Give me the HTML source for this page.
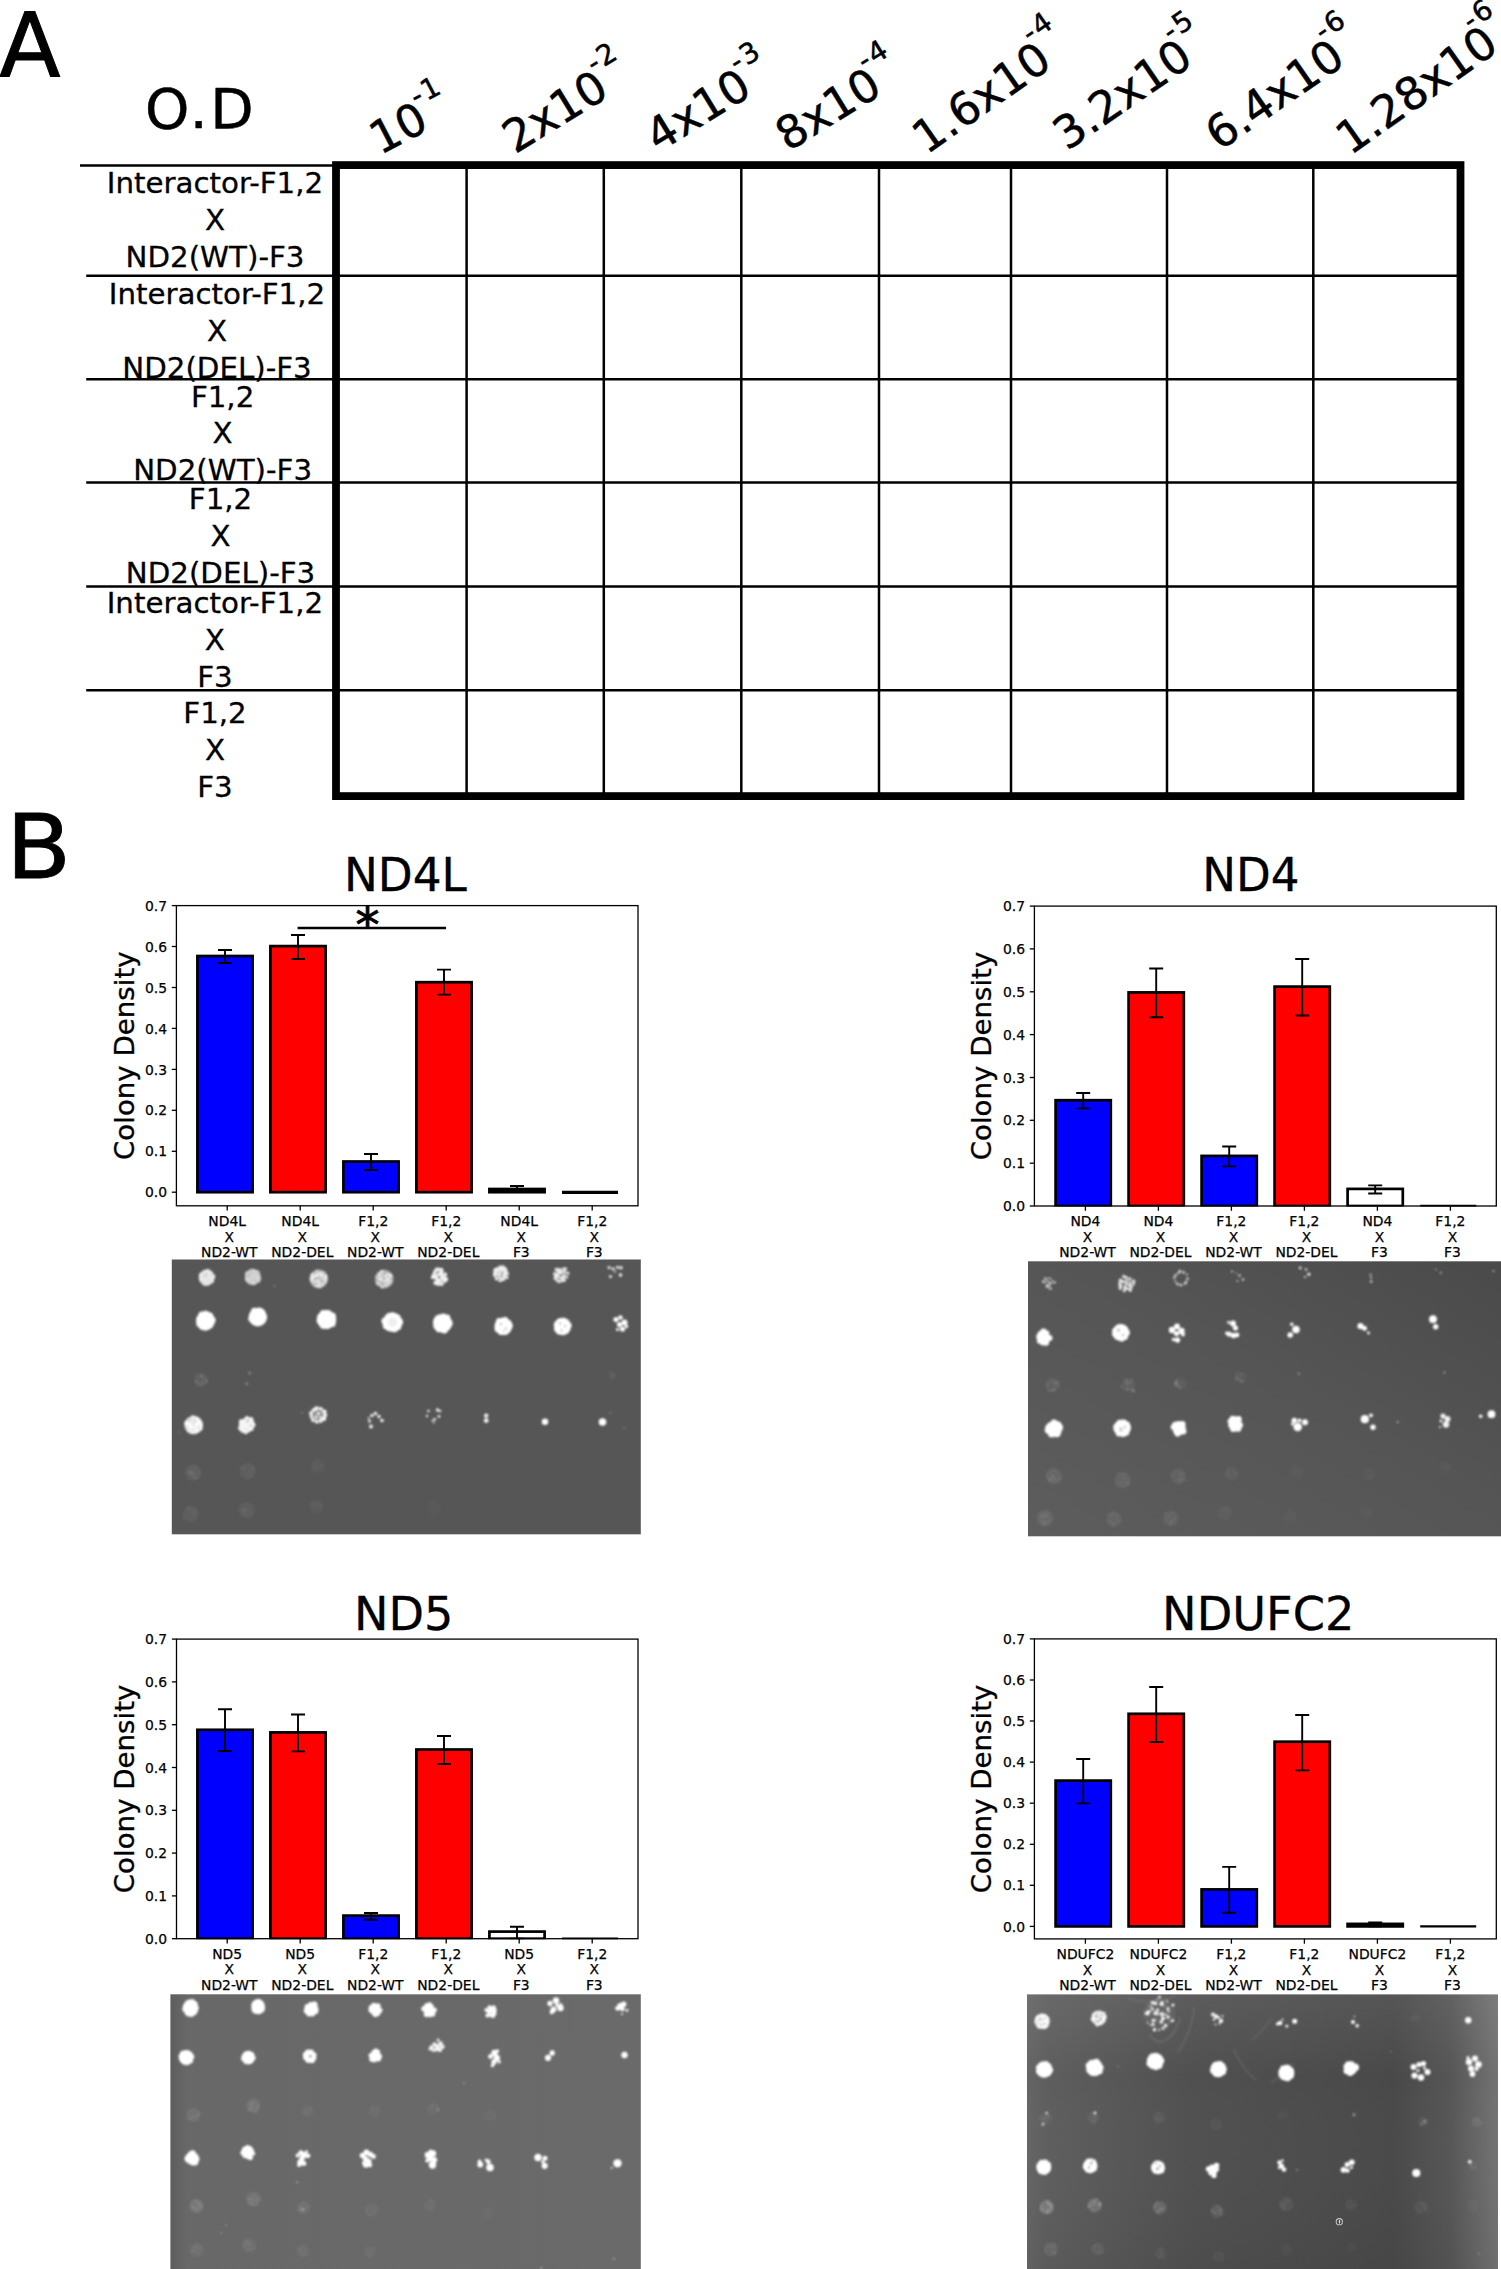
<!DOCTYPE html>
<html lang="en">
<head>
<meta charset="utf-8">
<title>Figure: yeast three-hybrid interaction assay</title>
<style>
html,body{margin:0;padding:0;background:#fff;}
body{width:1501px;height:2269px;overflow:hidden;}
svg{display:block;}
svg text{font-family:"DejaVu Sans", "Liberation Sans", sans-serif;fill:#000;}
</style>
</head>
<body>
<svg width="1501" height="2269" viewBox="0 0 1501 2269">
<rect width="1501" height="2269" fill="#fff"/>
<g id="panelA">
<text x="-0.8" y="76.6" font-size="89.5" stroke="#000" stroke-width="1">A</text>
<text transform="translate(145.1,127.6) scale(1.0225,1)" font-size="55.2" letter-spacing="2.5" stroke="#000" stroke-width="0.5">O.D</text>
<g stroke="#000" stroke-width="2.5" fill="none">
<line x1="80" y1="165.5" x2="336" y2="165.5"/>
<line x1="86.2" y1="275.7" x2="1460" y2="275.7"/>
<line x1="86.2" y1="379.2" x2="1460" y2="379.2"/>
<line x1="86.2" y1="482.6" x2="1460" y2="482.6"/>
<line x1="86.2" y1="586.4" x2="1460" y2="586.4"/>
<line x1="86.2" y1="690.3" x2="1460" y2="690.3"/>
<line x1="466.6" y1="165" x2="466.6" y2="796"/>
<line x1="603.8" y1="165" x2="603.8" y2="796"/>
<line x1="741.3" y1="165" x2="741.3" y2="796"/>
<line x1="879.0" y1="165" x2="879.0" y2="796"/>
<line x1="1011.0" y1="165" x2="1011.0" y2="796"/>
<line x1="1167.0" y1="165" x2="1167.0" y2="796"/>
<line x1="1313.3" y1="165" x2="1313.3" y2="796"/>
</g>
<rect x="336.0" y="165.1" width="1124.5" height="631.0" fill="none" stroke="#000" stroke-width="7.8"/>
<g font-size="28.4" text-anchor="middle" stroke="#000" stroke-width="0.3">
<text transform="translate(215.0,192.9) scale(1.032,1)">Interactor-F1,2</text>
<text transform="translate(215.0,229.8) scale(1.032,1)">X</text>
<text transform="translate(215.0,266.7) scale(1.032,1)">ND2(WT)-F3</text>
<text transform="translate(217.0,304.4) scale(1.032,1)">Interactor-F1,2</text>
<text transform="translate(217.0,341.3) scale(1.032,1)">X</text>
<text transform="translate(217.0,378.2) scale(1.032,1)">ND2(DEL)-F3</text>
<text transform="translate(222.6,406.5) scale(1.032,1)">F1,2</text>
<text transform="translate(222.6,443.4) scale(1.032,1)">X</text>
<text transform="translate(222.6,480.3) scale(1.032,1)">ND2(WT)-F3</text>
<text transform="translate(220.5,508.8) scale(1.032,1)">F1,2</text>
<text transform="translate(220.5,545.7) scale(1.032,1)">X</text>
<text transform="translate(220.5,582.6) scale(1.032,1)">ND2(DEL)-F3</text>
<text transform="translate(214.9,612.7) scale(1.032,1)">Interactor-F1,2</text>
<text transform="translate(214.9,649.6) scale(1.032,1)">X</text>
<text transform="translate(214.9,686.5) scale(1.032,1)">F3</text>
<text transform="translate(215.0,722.8) scale(1.032,1)">F1,2</text>
<text transform="translate(215.0,759.7) scale(1.032,1)">X</text>
<text transform="translate(215.0,796.6) scale(1.032,1)">F3</text>
</g>
<g stroke="#000" stroke-width="0.5">
<text transform="translate(379.9,155.2) rotate(-27.5)" font-size="45">10<tspan font-size="28" dx="-2.6" dy="-26.5">-</tspan><tspan font-size="28" dx="1.8">1</tspan></text>
<text transform="translate(514.9,154.2) rotate(-31.3)" font-size="45">2x10<tspan font-size="28" dx="-3.3" dy="-28.0">-</tspan><tspan font-size="28" dx="1.8">2</tspan></text>
<text transform="translate(658.0,152.9) rotate(-31.5)" font-size="45">4x10<tspan font-size="28" dx="-3.4" dy="-27.7">-</tspan><tspan font-size="28" dx="1.8">3</tspan></text>
<text transform="translate(788.1,151.9) rotate(-31.5)" font-size="45">8x10<tspan font-size="28" dx="-4.9" dy="-29.2">-</tspan><tspan font-size="28" dx="1.8">4</tspan></text>
<text transform="translate(926.5,155.0) rotate(-35.0)" font-size="45">1.6x10<tspan font-size="28" dx="-6.7" dy="-31.9">-</tspan><tspan font-size="28" dx="1.8">4</tspan></text>
<text transform="translate(1067.1,151.3) rotate(-34.5)" font-size="45">3.2x10<tspan font-size="28" dx="-8.2" dy="-31.6">-</tspan><tspan font-size="28" dx="1.8">5</tspan></text>
<text transform="translate(1219.4,151.6) rotate(-34.7)" font-size="45">6.4x10<tspan font-size="28" dx="-7.8" dy="-31.7">-</tspan><tspan font-size="28" dx="1.8">6</tspan></text>
<text transform="translate(1350.2,155.8) rotate(-35.2)" font-size="45">1.28x10<tspan font-size="28" dx="-13.6" dy="-32.6">-</tspan><tspan font-size="28" dx="1.8">6</tspan></text>
</g>
</g>
<text transform="translate(6.1,877.6) scale(1.076,1)" font-size="88.3" stroke="#000" stroke-width="0.8">B</text>
<defs>
<filter id="soft" x="-2%" y="-2%" width="104%" height="104%"><feGaussianBlur stdDeviation="1.15"/></filter>
<filter id="soft2" x="-50%" y="-50%" width="200%" height="200%"><feGaussianBlur stdDeviation="0.5"/></filter>
<linearGradient id="g2a" x1="0" y1="1" x2="1" y2="0"><stop offset="0" stop-color="#5d5d5d"/><stop offset=".55" stop-color="#555555"/><stop offset="1" stop-color="#4a4a4a"/></linearGradient>
<linearGradient id="g3a" x1="0" y1="0" x2="1" y2="0"><stop offset="0" stop-color="#5e5e5e"/><stop offset=".035" stop-color="#686868"/><stop offset="1" stop-color="#6a6a6a"/></linearGradient>
<linearGradient id="g4a" x1="0" y1="0" x2="1" y2="0"><stop offset="0" stop-color="#656565"/><stop offset=".04" stop-color="#5e5e5e"/><stop offset=".35" stop-color="#505050"/><stop offset=".78" stop-color="#494949"/><stop offset=".9" stop-color="#565656"/><stop offset="1" stop-color="#737373"/></linearGradient>
<linearGradient id="g4b" x1="0" y1="0" x2="0" y2="1"><stop offset="0" stop-color="#fff" stop-opacity=".07"/><stop offset=".3" stop-color="#fff" stop-opacity="0"/><stop offset="1" stop-color="#000" stop-opacity=".04"/></linearGradient>
<clipPath id="c1"><rect x="171.8" y="1259.5" width="469" height="274.8"/></clipPath>
<clipPath id="c2"><rect x="1028" y="1261.3" width="473" height="275"/></clipPath>
<clipPath id="c3"><rect x="170.8" y="1994.3" width="470" height="275"/></clipPath>
<clipPath id="c4"><rect x="1027" y="1994.4" width="471" height="275"/></clipPath>
</defs>
<g id="gels">
<rect x="171.8" y="1259.5" width="469" height="274.8" fill="#565656"/>
<g clip-path="url(#c1)"><g filter="url(#soft)"><ellipse cx="206.7" cy="1277.5" rx="7.9" ry="7.9" fill="#ececec"/><circle cx="212.6" cy="1276.6" r="2.7" fill="#ececec"/><circle cx="211.4" cy="1280.7" r="2.6" fill="#ececec"/><circle cx="207.4" cy="1283.4" r="2.3" fill="#ececec"/><circle cx="204.7" cy="1283.1" r="2.6" fill="#ececec"/><circle cx="201.6" cy="1278.8" r="2.6" fill="#ececec"/><circle cx="201.8" cy="1275.2" r="2.9" fill="#ececec"/><circle cx="204.8" cy="1272.6" r="2.3" fill="#ececec"/><circle cx="207.9" cy="1271.5" r="2.5" fill="#ececec"/><circle cx="210.6" cy="1273.4" r="2.3" fill="#ececec"/><circle cx="204.0" cy="1276.0" r="1.3" fill="#d2d2d2"/><circle cx="210.9" cy="1275.3" r="1.1" fill="#d2d2d2"/><circle cx="207.4" cy="1280.7" r="0.9" fill="#d2d2d2"/><circle cx="205.6" cy="1274.5" r="1.3" fill="#d2d2d2"/><circle cx="209.4" cy="1278.8" r="0.8" fill="#d2d2d2"/><circle cx="207.2" cy="1273.4" r="1.0" fill="#d2d2d2"/><circle cx="204.2" cy="1282.4" r="0.9" fill="#d2d2d2"/><circle cx="207.9" cy="1281.9" r="0.9" fill="#d2d2d2"/><circle cx="211.5" cy="1281.5" r="1.1" fill="#d2d2d2"/><circle cx="203.4" cy="1271.9" r="0.9" fill="#d2d2d2"/><circle cx="203.4" cy="1280.6" r="0.9" fill="#d2d2d2"/><circle cx="206.4" cy="1277.0" r="1.0" fill="#d2d2d2"/><circle cx="202.7" cy="1276.6" r="0.7" fill="#d2d2d2"/><circle cx="206.5" cy="1276.9" r="1.0" fill="#d2d2d2"/><ellipse cx="252.8" cy="1277.0" rx="7.9" ry="7.9" fill="#d6d6d6"/><circle cx="258.8" cy="1278.1" r="2.3" fill="#d6d6d6"/><circle cx="257.9" cy="1280.0" r="2.7" fill="#d6d6d6"/><circle cx="253.4" cy="1282.5" r="2.7" fill="#d6d6d6"/><circle cx="249.7" cy="1281.9" r="2.4" fill="#d6d6d6"/><circle cx="247.6" cy="1279.1" r="2.7" fill="#d6d6d6"/><circle cx="247.6" cy="1273.8" r="2.6" fill="#d6d6d6"/><circle cx="249.9" cy="1272.3" r="2.3" fill="#d6d6d6"/><circle cx="252.7" cy="1271.3" r="2.5" fill="#d6d6d6"/><circle cx="257.2" cy="1272.9" r="2.6" fill="#d6d6d6"/><circle cx="256.0" cy="1281.3" r="0.8" fill="#bdbdbd"/><circle cx="251.5" cy="1271.8" r="0.9" fill="#bdbdbd"/><circle cx="249.0" cy="1273.5" r="0.7" fill="#bdbdbd"/><circle cx="247.5" cy="1276.0" r="1.0" fill="#bdbdbd"/><circle cx="257.1" cy="1272.9" r="0.9" fill="#bdbdbd"/><circle cx="253.2" cy="1279.4" r="1.2" fill="#bdbdbd"/><circle cx="250.8" cy="1272.0" r="1.0" fill="#bdbdbd"/><circle cx="249.5" cy="1277.0" r="1.0" fill="#bdbdbd"/><circle cx="256.1" cy="1281.3" r="1.1" fill="#bdbdbd"/><circle cx="251.2" cy="1274.0" r="0.8" fill="#bdbdbd"/><circle cx="250.0" cy="1282.0" r="1.0" fill="#bdbdbd"/><circle cx="252.7" cy="1272.5" r="0.9" fill="#bdbdbd"/><circle cx="255.2" cy="1275.5" r="0.8" fill="#bdbdbd"/><circle cx="248.1" cy="1274.1" r="1.0" fill="#bdbdbd"/><circle cx="248.5" cy="1275.4" r="1.1" fill="#bdbdbd"/><circle cx="257.6" cy="1273.0" r="1.1" fill="#bdbdbd"/><circle cx="318.7" cy="1278.8" r="9.3" fill="#c9c9c9" opacity="0.85"/><circle cx="319.2" cy="1285.1" r="1.0" fill="#f2f2f2"/><circle cx="313.3" cy="1274.7" r="0.8" fill="#f2f2f2"/><circle cx="326.5" cy="1279.4" r="0.9" fill="#f2f2f2"/><circle cx="319.5" cy="1287.3" r="1.1" fill="#f2f2f2"/><circle cx="321.8" cy="1273.7" r="1.2" fill="#f2f2f2"/><circle cx="322.7" cy="1284.3" r="1.3" fill="#f2f2f2"/><circle cx="311.4" cy="1277.7" r="1.2" fill="#f2f2f2"/><circle cx="325.6" cy="1281.7" r="1.2" fill="#f2f2f2"/><circle cx="318.2" cy="1280.2" r="1.3" fill="#f2f2f2"/><circle cx="311.6" cy="1280.0" r="1.4" fill="#f2f2f2"/><circle cx="316.9" cy="1270.8" r="1.0" fill="#f2f2f2"/><circle cx="320.5" cy="1273.4" r="1.4" fill="#f2f2f2"/><circle cx="320.6" cy="1277.0" r="0.9" fill="#f2f2f2"/><circle cx="320.4" cy="1287.0" r="1.1" fill="#f2f2f2"/><circle cx="315.4" cy="1275.4" r="1.1" fill="#f2f2f2"/><circle cx="314.9" cy="1282.1" r="1.2" fill="#f2f2f2"/><circle cx="311.7" cy="1274.7" r="1.2" fill="#f2f2f2"/><circle cx="325.8" cy="1275.4" r="1.4" fill="#f2f2f2"/><circle cx="317.1" cy="1275.8" r="1.3" fill="#f2f2f2"/><circle cx="326.6" cy="1277.0" r="1.1" fill="#f2f2f2"/><circle cx="317.8" cy="1275.0" r="1.3" fill="#f2f2f2"/><circle cx="314.6" cy="1276.8" r="0.8" fill="#f2f2f2"/><circle cx="323.9" cy="1272.0" r="0.8" fill="#f2f2f2"/><circle cx="320.4" cy="1273.6" r="0.9" fill="#f2f2f2"/><circle cx="316.7" cy="1286.0" r="1.3" fill="#f2f2f2"/><circle cx="325.2" cy="1280.6" r="0.8" fill="#f2f2f2"/><circle cx="317.7" cy="1274.0" r="1.4" fill="#f2f2f2"/><circle cx="324.7" cy="1278.1" r="1.4" fill="#f2f2f2"/><circle cx="317.8" cy="1281.0" r="1.2" fill="#f2f2f2"/><circle cx="322.4" cy="1279.5" r="1.0" fill="#f2f2f2"/><circle cx="316.1" cy="1276.6" r="0.8" fill="#f2f2f2"/><circle cx="321.9" cy="1275.3" r="1.4" fill="#f2f2f2"/><circle cx="322.9" cy="1275.6" r="1.1" fill="#f2f2f2"/><circle cx="311.9" cy="1277.9" r="1.2" fill="#f2f2f2"/><circle cx="312.4" cy="1276.3" r="1.4" fill="#f2f2f2"/><circle cx="313.1" cy="1278.6" r="1.2" fill="#f2f2f2"/><circle cx="319.1" cy="1283.5" r="1.4" fill="#f2f2f2"/><circle cx="312.4" cy="1278.0" r="0.8" fill="#f2f2f2"/><circle cx="313.1" cy="1282.1" r="0.8" fill="#f2f2f2"/><circle cx="313.6" cy="1274.3" r="0.8" fill="#f2f2f2"/><circle cx="384.2" cy="1279.0" r="9.3" fill="#c4c4c4" opacity="0.85"/><circle cx="384.4" cy="1281.7" r="1.0" fill="#f0f0f0"/><circle cx="385.4" cy="1280.8" r="1.0" fill="#f0f0f0"/><circle cx="390.9" cy="1275.2" r="1.3" fill="#f0f0f0"/><circle cx="385.3" cy="1285.2" r="1.0" fill="#f0f0f0"/><circle cx="385.5" cy="1281.5" r="0.9" fill="#f0f0f0"/><circle cx="391.2" cy="1275.6" r="1.3" fill="#f0f0f0"/><circle cx="385.4" cy="1275.4" r="1.0" fill="#f0f0f0"/><circle cx="379.1" cy="1273.8" r="1.3" fill="#f0f0f0"/><circle cx="386.0" cy="1277.3" r="1.2" fill="#f0f0f0"/><circle cx="381.3" cy="1273.6" r="0.9" fill="#f0f0f0"/><circle cx="381.7" cy="1279.4" r="1.4" fill="#f0f0f0"/><circle cx="388.4" cy="1274.3" r="1.0" fill="#f0f0f0"/><circle cx="389.6" cy="1275.5" r="1.4" fill="#f0f0f0"/><circle cx="387.7" cy="1274.0" r="1.0" fill="#f0f0f0"/><circle cx="379.6" cy="1275.7" r="0.9" fill="#f0f0f0"/><circle cx="381.6" cy="1286.3" r="0.8" fill="#f0f0f0"/><circle cx="390.7" cy="1280.9" r="1.0" fill="#f0f0f0"/><circle cx="378.5" cy="1277.7" r="1.0" fill="#f0f0f0"/><circle cx="388.0" cy="1278.9" r="1.0" fill="#f0f0f0"/><circle cx="386.2" cy="1285.5" r="1.0" fill="#f0f0f0"/><circle cx="379.6" cy="1284.8" r="1.0" fill="#f0f0f0"/><circle cx="376.6" cy="1276.1" r="0.8" fill="#f0f0f0"/><circle cx="388.0" cy="1280.5" r="1.3" fill="#f0f0f0"/><circle cx="381.1" cy="1276.2" r="1.0" fill="#f0f0f0"/><circle cx="386.7" cy="1284.2" r="0.8" fill="#f0f0f0"/><circle cx="381.6" cy="1271.3" r="1.4" fill="#f0f0f0"/><circle cx="383.4" cy="1270.7" r="0.8" fill="#f0f0f0"/><circle cx="382.2" cy="1287.2" r="1.3" fill="#f0f0f0"/><circle cx="377.2" cy="1283.4" r="1.2" fill="#f0f0f0"/><circle cx="386.1" cy="1274.8" r="0.9" fill="#f0f0f0"/><circle cx="381.2" cy="1280.1" r="1.0" fill="#f0f0f0"/><circle cx="389.0" cy="1277.8" r="0.8" fill="#f0f0f0"/><circle cx="387.6" cy="1280.0" r="1.3" fill="#f0f0f0"/><circle cx="381.2" cy="1282.5" r="0.8" fill="#f0f0f0"/><circle cx="389.7" cy="1278.4" r="0.9" fill="#f0f0f0"/><circle cx="386.1" cy="1279.7" r="0.9" fill="#f0f0f0"/><circle cx="382.7" cy="1276.0" r="0.8" fill="#f0f0f0"/><circle cx="379.9" cy="1279.3" r="1.4" fill="#f0f0f0"/><circle cx="388.7" cy="1283.3" r="1.3" fill="#f0f0f0"/><circle cx="377.0" cy="1283.6" r="1.1" fill="#f0f0f0"/><circle cx="434.8" cy="1272.1" r="1.9" fill="#f4f4f4"/><circle cx="441.6" cy="1269.5" r="1.8" fill="#f4f4f4"/><circle cx="439.0" cy="1269.3" r="1.9" fill="#f4f4f4"/><circle cx="444.7" cy="1277.7" r="1.8" fill="#f4f4f4"/><circle cx="445.3" cy="1274.5" r="1.9" fill="#f4f4f4"/><circle cx="441.6" cy="1275.2" r="2.2" fill="#f4f4f4"/><circle cx="435.8" cy="1277.4" r="2.2" fill="#f4f4f4"/><circle cx="433.9" cy="1275.1" r="2.0" fill="#f4f4f4"/><circle cx="438.1" cy="1283.9" r="2.0" fill="#f4f4f4"/><circle cx="439.8" cy="1273.6" r="1.9" fill="#f4f4f4"/><circle cx="437.5" cy="1274.9" r="1.7" fill="#f4f4f4"/><circle cx="440.4" cy="1280.2" r="1.8" fill="#f4f4f4"/><circle cx="441.6" cy="1283.9" r="2.1" fill="#f4f4f4"/><circle cx="436.7" cy="1269.7" r="2.2" fill="#f4f4f4"/><circle cx="437.5" cy="1279.1" r="1.9" fill="#f4f4f4"/><circle cx="441.7" cy="1271.9" r="2.1" fill="#f4f4f4"/><circle cx="437.4" cy="1281.6" r="2.1" fill="#f4f4f4"/><circle cx="444.7" cy="1280.9" r="2.1" fill="#f4f4f4"/><circle cx="435.5" cy="1282.9" r="2.1" fill="#f4f4f4"/><circle cx="442.1" cy="1278.1" r="2.1" fill="#f4f4f4"/><circle cx="446.4" cy="1279.2" r="1.9" fill="#f4f4f4"/><circle cx="433.0" cy="1277.2" r="2.1" fill="#f4f4f4"/><circle cx="503.0" cy="1267.2" r="1.9" fill="#f2f2f2"/><circle cx="497.4" cy="1274.2" r="1.6" fill="#f2f2f2"/><circle cx="507.3" cy="1273.8" r="1.7" fill="#f2f2f2"/><circle cx="494.7" cy="1275.0" r="1.9" fill="#f2f2f2"/><circle cx="496.6" cy="1278.5" r="1.9" fill="#f2f2f2"/><circle cx="500.2" cy="1280.5" r="1.8" fill="#f2f2f2"/><circle cx="500.6" cy="1269.0" r="2.0" fill="#f2f2f2"/><circle cx="495.1" cy="1272.3" r="1.9" fill="#f2f2f2"/><circle cx="503.2" cy="1279.1" r="2.1" fill="#f2f2f2"/><circle cx="502.5" cy="1270.1" r="2.0" fill="#f2f2f2"/><circle cx="506.8" cy="1277.5" r="1.7" fill="#f2f2f2"/><circle cx="504.0" cy="1275.7" r="2.0" fill="#f2f2f2"/><circle cx="498.5" cy="1270.7" r="1.7" fill="#f2f2f2"/><circle cx="505.8" cy="1270.9" r="2.0" fill="#f2f2f2"/><circle cx="497.3" cy="1268.8" r="1.9" fill="#f2f2f2"/><circle cx="499.9" cy="1276.9" r="1.8" fill="#f2f2f2"/><circle cx="500.9" cy="1273.0" r="1.6" fill="#f2f2f2"/><circle cx="504.9" cy="1273.4" r="2.0" fill="#f2f2f2"/><circle cx="500.1" cy="1266.9" r="1.7" fill="#f2f2f2"/><circle cx="505.4" cy="1268.6" r="1.5" fill="#f2f2f2"/><circle cx="495.3" cy="1270.0" r="2.0" fill="#f2f2f2"/><circle cx="499.2" cy="1274.1" r="1.5" fill="#f2f2f2"/><circle cx="560.4" cy="1277.7" r="1.7" fill="#eeeeee"/><circle cx="560.5" cy="1273.3" r="1.8" fill="#eeeeee"/><circle cx="557.2" cy="1274.0" r="1.8" fill="#eeeeee"/><circle cx="566.8" cy="1276.9" r="1.5" fill="#eeeeee"/><circle cx="563.8" cy="1276.0" r="1.9" fill="#eeeeee"/><circle cx="555.5" cy="1278.2" r="1.9" fill="#eeeeee"/><circle cx="556.5" cy="1269.7" r="1.9" fill="#eeeeee"/><circle cx="564.3" cy="1271.8" r="1.9" fill="#eeeeee"/><circle cx="559.2" cy="1281.5" r="1.7" fill="#eeeeee"/><circle cx="564.2" cy="1280.3" r="1.7" fill="#eeeeee"/><circle cx="558.7" cy="1271.4" r="1.5" fill="#eeeeee"/><circle cx="557.7" cy="1276.2" r="1.8" fill="#eeeeee"/><circle cx="563.5" cy="1268.8" r="1.5" fill="#eeeeee"/><circle cx="561.9" cy="1280.8" r="1.5" fill="#eeeeee"/><circle cx="554.6" cy="1273.9" r="1.6" fill="#eeeeee"/><circle cx="561.2" cy="1270.9" r="1.5" fill="#eeeeee"/><circle cx="559.7" cy="1269.4" r="1.6" fill="#eeeeee"/><circle cx="565.7" cy="1268.7" r="1.5" fill="#eeeeee"/><circle cx="555.5" cy="1276.0" r="1.5" fill="#eeeeee"/><circle cx="557.2" cy="1280.6" r="1.5" fill="#eeeeee"/><circle cx="563.3" cy="1278.3" r="1.5" fill="#eeeeee"/><circle cx="567.8" cy="1273.2" r="1.6" fill="#eeeeee"/><circle cx="609.0" cy="1267.5" r="1.5" fill="#f0f0f0"/><circle cx="613.0" cy="1268.8" r="1.6" fill="#f0f0f0"/><circle cx="617.5" cy="1267.2" r="1.5" fill="#f0f0f0"/><circle cx="621.0" cy="1267.8" r="1.7" fill="#f0f0f0"/><circle cx="610.5" cy="1276.5" r="1.5" fill="#f0f0f0"/><circle cx="620.5" cy="1275.0" r="1.8" fill="#f0f0f0"/><circle cx="615.0" cy="1271.5" r="1.0" fill="#f0f0f0"/><ellipse cx="205.5" cy="1320.8" rx="9.5" ry="9.5" fill="#ffffff"/><circle cx="212.8" cy="1320.0" r="2.9" fill="#ffffff"/><circle cx="210.1" cy="1325.3" r="2.9" fill="#ffffff"/><circle cx="205.3" cy="1327.4" r="3.2" fill="#ffffff"/><circle cx="202.2" cy="1326.7" r="3.1" fill="#ffffff"/><circle cx="199.1" cy="1324.1" r="2.8" fill="#ffffff"/><circle cx="199.3" cy="1319.3" r="3.0" fill="#ffffff"/><circle cx="201.6" cy="1314.6" r="3.0" fill="#ffffff"/><circle cx="205.6" cy="1314.2" r="3.5" fill="#ffffff"/><circle cx="210.0" cy="1315.5" r="3.0" fill="#ffffff"/><ellipse cx="257.8" cy="1317.0" rx="9.2" ry="9.2" fill="#ffffff"/><circle cx="264.3" cy="1316.9" r="2.8" fill="#ffffff"/><circle cx="261.9" cy="1321.6" r="3.0" fill="#ffffff"/><circle cx="257.9" cy="1323.2" r="3.0" fill="#ffffff"/><circle cx="254.5" cy="1322.2" r="2.9" fill="#ffffff"/><circle cx="251.5" cy="1318.7" r="3.2" fill="#ffffff"/><circle cx="251.6" cy="1315.7" r="2.7" fill="#ffffff"/><circle cx="254.3" cy="1310.9" r="3.1" fill="#ffffff"/><circle cx="259.6" cy="1310.8" r="3.2" fill="#ffffff"/><circle cx="262.0" cy="1312.2" r="3.1" fill="#ffffff"/><ellipse cx="326.3" cy="1319.5" rx="9.5" ry="9.5" fill="#ffffff"/><circle cx="333.1" cy="1319.7" r="3.2" fill="#ffffff"/><circle cx="332.3" cy="1323.4" r="3.4" fill="#ffffff"/><circle cx="327.0" cy="1326.0" r="3.1" fill="#ffffff"/><circle cx="323.4" cy="1325.4" r="3.4" fill="#ffffff"/><circle cx="320.0" cy="1320.5" r="3.4" fill="#ffffff"/><circle cx="320.1" cy="1316.9" r="3.0" fill="#ffffff"/><circle cx="323.3" cy="1313.4" r="3.3" fill="#ffffff"/><circle cx="327.8" cy="1313.2" r="3.3" fill="#ffffff"/><circle cx="332.7" cy="1316.0" r="3.2" fill="#ffffff"/><ellipse cx="392.5" cy="1322.2" rx="9.8" ry="9.8" fill="#ffffff"/><circle cx="399.6" cy="1322.1" r="3.5" fill="#ffffff"/><circle cx="398.0" cy="1326.7" r="3.3" fill="#ffffff"/><circle cx="394.6" cy="1328.9" r="3.3" fill="#ffffff"/><circle cx="388.5" cy="1327.5" r="3.1" fill="#ffffff"/><circle cx="386.1" cy="1325.8" r="3.4" fill="#ffffff"/><circle cx="385.0" cy="1321.0" r="3.6" fill="#ffffff"/><circle cx="389.3" cy="1315.8" r="3.0" fill="#ffffff"/><circle cx="392.4" cy="1315.1" r="2.9" fill="#ffffff"/><circle cx="397.1" cy="1317.2" r="2.9" fill="#ffffff"/><circle cx="392.5" cy="1322.2" r="4.5" fill="#efefef"/><ellipse cx="442.5" cy="1323.3" rx="9.5" ry="9.5" fill="#ffffff"/><circle cx="449.5" cy="1323.2" r="3.2" fill="#ffffff"/><circle cx="447.9" cy="1326.6" r="3.0" fill="#ffffff"/><circle cx="444.4" cy="1330.2" r="3.3" fill="#ffffff"/><circle cx="438.8" cy="1329.1" r="3.2" fill="#ffffff"/><circle cx="436.5" cy="1326.5" r="2.9" fill="#ffffff"/><circle cx="436.9" cy="1320.2" r="3.3" fill="#ffffff"/><circle cx="438.0" cy="1317.9" r="3.0" fill="#ffffff"/><circle cx="443.5" cy="1316.2" r="2.8" fill="#ffffff"/><circle cx="447.2" cy="1317.7" r="3.1" fill="#ffffff"/><ellipse cx="503.3" cy="1326.3" rx="8.8" ry="8.8" fill="#ffffff"/><circle cx="509.8" cy="1325.7" r="3.0" fill="#ffffff"/><circle cx="507.3" cy="1330.8" r="2.7" fill="#ffffff"/><circle cx="505.2" cy="1332.1" r="3.0" fill="#ffffff"/><circle cx="501.0" cy="1332.2" r="2.7" fill="#ffffff"/><circle cx="497.6" cy="1328.9" r="3.1" fill="#ffffff"/><circle cx="497.9" cy="1324.1" r="2.7" fill="#ffffff"/><circle cx="499.2" cy="1321.0" r="3.1" fill="#ffffff"/><circle cx="505.2" cy="1319.9" r="3.0" fill="#ffffff"/><circle cx="509.0" cy="1323.0" r="2.7" fill="#ffffff"/><circle cx="501.0" cy="1324.0" r="1.0" fill="#9a9a9a"/><circle cx="506.0" cy="1328.5" r="0.9" fill="#9a9a9a"/><circle cx="503.5" cy="1331.0" r="0.8" fill="#9a9a9a"/><ellipse cx="562.5" cy="1326.3" rx="8.6" ry="8.6" fill="#ffffff"/><circle cx="568.8" cy="1325.3" r="2.9" fill="#ffffff"/><circle cx="566.3" cy="1330.9" r="2.7" fill="#ffffff"/><circle cx="563.0" cy="1332.6" r="2.7" fill="#ffffff"/><circle cx="559.1" cy="1331.4" r="3.0" fill="#ffffff"/><circle cx="557.3" cy="1329.2" r="3.1" fill="#ffffff"/><circle cx="556.8" cy="1324.6" r="3.0" fill="#ffffff"/><circle cx="559.8" cy="1321.1" r="2.9" fill="#ffffff"/><circle cx="563.9" cy="1320.6" r="2.9" fill="#ffffff"/><circle cx="566.5" cy="1321.8" r="2.6" fill="#ffffff"/><circle cx="560.0" cy="1323.5" r="1.0" fill="#9a9a9a"/><circle cx="565.0" cy="1326.0" r="0.9" fill="#9a9a9a"/><circle cx="561.5" cy="1330.5" r="0.9" fill="#9a9a9a"/><circle cx="616.0" cy="1319.5" r="2.6" fill="#ffffff"/><circle cx="620.5" cy="1317.5" r="2.2" fill="#ffffff"/><circle cx="624.5" cy="1322.5" r="3.0" fill="#ffffff"/><circle cx="619.5" cy="1324.5" r="2.6" fill="#ffffff"/><circle cx="622.5" cy="1329.0" r="2.6" fill="#ffffff"/><circle cx="617.5" cy="1329.5" r="1.6" fill="#ffffff"/><circle cx="626.5" cy="1326.5" r="1.8" fill="#ffffff"/><circle cx="200.8" cy="1380.0" r="7.0" fill="#ffffff" opacity="0.06"/><circle cx="197.8" cy="1383.5" r="0.7" fill="#ffffff" opacity="0.22"/><circle cx="196.8" cy="1381.4" r="0.8" fill="#ffffff" opacity="0.22"/><circle cx="200.5" cy="1385.3" r="0.5" fill="#ffffff" opacity="0.22"/><circle cx="199.6" cy="1383.6" r="0.6" fill="#ffffff" opacity="0.22"/><circle cx="200.6" cy="1376.3" r="0.8" fill="#ffffff" opacity="0.22"/><circle cx="204.0" cy="1379.1" r="0.9" fill="#ffffff" opacity="0.22"/><circle cx="202.7" cy="1374.9" r="0.5" fill="#ffffff" opacity="0.22"/><circle cx="195.7" cy="1381.4" r="0.6" fill="#ffffff" opacity="0.22"/><circle cx="201.4" cy="1383.7" r="0.6" fill="#ffffff" opacity="0.22"/><circle cx="201.7" cy="1376.2" r="0.7" fill="#ffffff" opacity="0.22"/><circle cx="196.8" cy="1374.9" r="0.6" fill="#ffffff" opacity="0.22"/><circle cx="207.1" cy="1381.8" r="0.8" fill="#ffffff" opacity="0.22"/><circle cx="202.0" cy="1375.3" r="0.6" fill="#ffffff" opacity="0.22"/><circle cx="202.9" cy="1383.0" r="0.7" fill="#ffffff" opacity="0.22"/><circle cx="205.9" cy="1382.2" r="0.8" fill="#ffffff" opacity="0.22"/><circle cx="206.9" cy="1380.5" r="0.7" fill="#ffffff" opacity="0.22"/><circle cx="249.5" cy="1373.0" r="1.2" fill="#9a9a9a"/><circle cx="246.7" cy="1383.8" r="1.2" fill="#9a9a9a"/><circle cx="193.7" cy="1425.0" r="9.3" fill="#e0e0e0"/><circle cx="185.9" cy="1423.9" r="1.5" fill="#ffffff"/><circle cx="191.8" cy="1432.4" r="1.3" fill="#ffffff"/><circle cx="192.2" cy="1422.5" r="0.9" fill="#ffffff"/><circle cx="188.1" cy="1430.0" r="1.0" fill="#ffffff"/><circle cx="188.8" cy="1425.0" r="1.4" fill="#ffffff"/><circle cx="198.9" cy="1423.1" r="1.6" fill="#ffffff"/><circle cx="201.0" cy="1428.0" r="1.5" fill="#ffffff"/><circle cx="198.0" cy="1431.0" r="1.2" fill="#ffffff"/><circle cx="197.5" cy="1423.9" r="1.2" fill="#ffffff"/><circle cx="198.9" cy="1420.3" r="1.1" fill="#ffffff"/><circle cx="201.1" cy="1429.2" r="1.2" fill="#ffffff"/><circle cx="197.0" cy="1424.9" r="1.4" fill="#ffffff"/><circle cx="197.0" cy="1417.3" r="0.9" fill="#ffffff"/><circle cx="192.3" cy="1426.4" r="1.4" fill="#ffffff"/><circle cx="188.5" cy="1431.8" r="1.1" fill="#ffffff"/><circle cx="194.9" cy="1417.0" r="1.0" fill="#ffffff"/><circle cx="185.7" cy="1422.0" r="1.2" fill="#ffffff"/><circle cx="190.8" cy="1428.5" r="1.4" fill="#ffffff"/><circle cx="196.1" cy="1431.4" r="1.2" fill="#ffffff"/><circle cx="190.7" cy="1424.0" r="1.3" fill="#ffffff"/><circle cx="198.0" cy="1422.5" r="1.1" fill="#ffffff"/><circle cx="199.3" cy="1421.4" r="1.0" fill="#ffffff"/><circle cx="201.3" cy="1425.5" r="1.1" fill="#ffffff"/><circle cx="189.2" cy="1425.9" r="1.3" fill="#ffffff"/><circle cx="193.1" cy="1420.2" r="0.9" fill="#ffffff"/><circle cx="202.0" cy="1424.3" r="0.9" fill="#ffffff"/><circle cx="187.0" cy="1422.2" r="1.1" fill="#ffffff"/><circle cx="192.7" cy="1416.5" r="1.3" fill="#ffffff"/><circle cx="190.7" cy="1427.4" r="1.0" fill="#ffffff"/><circle cx="195.4" cy="1427.4" r="1.0" fill="#ffffff"/><circle cx="197.2" cy="1419.6" r="1.4" fill="#ffffff"/><circle cx="200.6" cy="1421.2" r="0.9" fill="#ffffff"/><circle cx="196.1" cy="1423.8" r="1.4" fill="#ffffff"/><circle cx="197.5" cy="1419.0" r="1.1" fill="#ffffff"/><circle cx="196.0" cy="1426.2" r="1.3" fill="#ffffff"/><circle cx="194.0" cy="1431.4" r="1.0" fill="#ffffff"/><circle cx="196.2" cy="1429.1" r="1.4" fill="#ffffff"/><circle cx="188.2" cy="1425.5" r="1.2" fill="#ffffff"/><circle cx="187.8" cy="1422.9" r="1.2" fill="#ffffff"/><circle cx="201.1" cy="1423.5" r="1.0" fill="#ffffff"/><circle cx="192.1" cy="1428.5" r="1.1" fill="#ffffff"/><circle cx="201.1" cy="1426.3" r="1.2" fill="#ffffff"/><circle cx="248.7" cy="1430.1" r="2.3" fill="#f6f6f6"/><circle cx="244.6" cy="1427.5" r="2.5" fill="#f6f6f6"/><circle cx="241.1" cy="1425.0" r="2.4" fill="#f6f6f6"/><circle cx="244.7" cy="1420.8" r="2.4" fill="#f6f6f6"/><circle cx="250.9" cy="1419.4" r="2.5" fill="#f6f6f6"/><circle cx="253.4" cy="1425.0" r="2.2" fill="#f6f6f6"/><circle cx="248.7" cy="1423.4" r="2.5" fill="#f6f6f6"/><circle cx="251.1" cy="1428.3" r="2.6" fill="#f6f6f6"/><circle cx="241.7" cy="1421.9" r="2.8" fill="#f6f6f6"/><circle cx="242.7" cy="1430.3" r="2.5" fill="#f6f6f6"/><circle cx="247.4" cy="1426.4" r="2.3" fill="#f6f6f6"/><circle cx="246.9" cy="1418.3" r="2.3" fill="#f6f6f6"/><circle cx="240.3" cy="1428.2" r="2.3" fill="#f6f6f6"/><circle cx="244.6" cy="1423.7" r="2.2" fill="#f6f6f6"/><circle cx="251.9" cy="1422.3" r="2.4" fill="#f6f6f6"/><circle cx="245.8" cy="1431.8" r="2.4" fill="#f6f6f6"/><circle cx="318.0" cy="1415.0" r="8.6" fill="#bdbdbd" opacity="0.55"/><circle cx="325.2" cy="1415.3" r="2.0" fill="#fafafa"/><circle cx="323.9" cy="1418.7" r="2.3" fill="#fafafa"/><circle cx="320.7" cy="1420.9" r="1.8" fill="#fafafa"/><circle cx="316.7" cy="1421.7" r="1.8" fill="#fafafa"/><circle cx="312.9" cy="1420.1" r="1.8" fill="#fafafa"/><circle cx="311.4" cy="1416.6" r="1.6" fill="#fafafa"/><circle cx="310.9" cy="1413.1" r="1.9" fill="#fafafa"/><circle cx="313.7" cy="1410.1" r="1.9" fill="#fafafa"/><circle cx="316.5" cy="1408.3" r="2.1" fill="#fafafa"/><circle cx="320.8" cy="1408.8" r="1.8" fill="#fafafa"/><circle cx="324.4" cy="1411.6" r="2.2" fill="#fafafa"/><circle cx="318.5" cy="1413.5" r="1.6" fill="#fafafa"/><circle cx="316.0" cy="1417.0" r="1.5" fill="#fafafa"/><circle cx="320.5" cy="1417.5" r="1.3" fill="#fafafa"/><circle cx="371.0" cy="1426.5" r="1.9" fill="#f4f4f4"/><circle cx="369.5" cy="1421.0" r="1.5" fill="#f4f4f4"/><circle cx="372.0" cy="1415.5" r="1.7" fill="#f4f4f4"/><circle cx="375.5" cy="1413.5" r="1.8" fill="#f4f4f4"/><circle cx="379.0" cy="1416.5" r="1.7" fill="#f4f4f4"/><circle cx="382.0" cy="1420.5" r="1.8" fill="#f4f4f4"/><circle cx="368.7" cy="1418.0" r="1.0" fill="#f4f4f4"/><circle cx="428.5" cy="1411.0" r="1.3" fill="#eeeeee"/><circle cx="427.0" cy="1416.0" r="1.2" fill="#eeeeee"/><circle cx="437.5" cy="1410.0" r="1.7" fill="#eeeeee"/><circle cx="440.0" cy="1411.0" r="1.3" fill="#eeeeee"/><circle cx="439.0" cy="1416.5" r="1.4" fill="#eeeeee"/><circle cx="434.5" cy="1419.5" r="1.4" fill="#eeeeee"/><circle cx="432.5" cy="1421.0" r="1.0" fill="#eeeeee"/><circle cx="434.0" cy="1423.0" r="0.8" fill="#eeeeee"/><circle cx="486.2" cy="1415.6" r="2.2" fill="#f6f6f6"/><circle cx="486.2" cy="1420.6" r="2.4" fill="#f6f6f6"/><circle cx="545.0" cy="1421.7" r="3.3" fill="#ffffff"/><circle cx="602.5" cy="1422.0" r="3.8" fill="#ffffff"/><circle cx="610.5" cy="1413.0" r="1.0" fill="#8a8a8a"/><circle cx="624.5" cy="1428.0" r="0.9" fill="#8a8a8a"/><circle cx="179.0" cy="1432.5" r="0.8" fill="#8a8a8a"/><circle cx="302.0" cy="1412.5" r="0.9" fill="#8a8a8a"/><circle cx="274.5" cy="1286.0" r="1.0" fill="#8a8a8a"/><circle cx="193.0" cy="1472.5" r="8.0" fill="#ffffff" opacity="0.07"/><circle cx="196.2" cy="1477.9" r="0.8" fill="#ffffff" opacity="0.15400000000000003"/><circle cx="189.5" cy="1473.0" r="0.8" fill="#ffffff" opacity="0.15400000000000003"/><circle cx="194.9" cy="1467.4" r="0.7" fill="#ffffff" opacity="0.15400000000000003"/><circle cx="193.0" cy="1472.9" r="0.6" fill="#ffffff" opacity="0.15400000000000003"/><circle cx="191.3" cy="1471.5" r="0.8" fill="#ffffff" opacity="0.15400000000000003"/><circle cx="193.4" cy="1476.1" r="0.5" fill="#ffffff" opacity="0.15400000000000003"/><circle cx="199.5" cy="1472.4" r="0.9" fill="#ffffff" opacity="0.15400000000000003"/><circle cx="192.0" cy="1471.6" r="0.6" fill="#ffffff" opacity="0.15400000000000003"/><circle cx="190.4" cy="1472.5" r="0.9" fill="#ffffff" opacity="0.15400000000000003"/><circle cx="191.0" cy="1474.7" r="0.8" fill="#ffffff" opacity="0.15400000000000003"/><circle cx="198.2" cy="1477.7" r="0.7" fill="#ffffff" opacity="0.15400000000000003"/><circle cx="188.8" cy="1471.1" r="0.7" fill="#ffffff" opacity="0.15400000000000003"/><circle cx="193.6" cy="1473.9" r="0.8" fill="#ffffff" opacity="0.15400000000000003"/><circle cx="193.6" cy="1479.2" r="0.6" fill="#ffffff" opacity="0.15400000000000003"/><circle cx="247.5" cy="1471.0" r="8.0" fill="#ffffff" opacity="0.05"/><circle cx="250.2" cy="1470.3" r="0.5" fill="#ffffff" opacity="0.11000000000000001"/><circle cx="250.8" cy="1471.0" r="0.5" fill="#ffffff" opacity="0.11000000000000001"/><circle cx="244.9" cy="1467.4" r="0.9" fill="#ffffff" opacity="0.11000000000000001"/><circle cx="248.4" cy="1478.4" r="0.6" fill="#ffffff" opacity="0.11000000000000001"/><circle cx="241.6" cy="1466.6" r="0.8" fill="#ffffff" opacity="0.11000000000000001"/><circle cx="253.2" cy="1468.1" r="0.5" fill="#ffffff" opacity="0.11000000000000001"/><circle cx="251.8" cy="1467.0" r="0.6" fill="#ffffff" opacity="0.11000000000000001"/><circle cx="250.1" cy="1477.5" r="0.7" fill="#ffffff" opacity="0.11000000000000001"/><circle cx="253.7" cy="1468.5" r="0.9" fill="#ffffff" opacity="0.11000000000000001"/><circle cx="241.7" cy="1468.4" r="0.7" fill="#ffffff" opacity="0.11000000000000001"/><circle cx="247.1" cy="1478.4" r="0.6" fill="#ffffff" opacity="0.11000000000000001"/><circle cx="248.9" cy="1463.7" r="0.8" fill="#ffffff" opacity="0.11000000000000001"/><circle cx="251.8" cy="1476.4" r="0.8" fill="#ffffff" opacity="0.11000000000000001"/><circle cx="248.2" cy="1472.5" r="0.7" fill="#ffffff" opacity="0.11000000000000001"/><circle cx="318.0" cy="1466.0" r="7.0" fill="#ffffff" opacity="0.03"/><circle cx="323.8" cy="1463.1" r="0.9" fill="#ffffff" opacity="0.066"/><circle cx="322.4" cy="1468.6" r="0.7" fill="#ffffff" opacity="0.066"/><circle cx="315.6" cy="1465.5" r="0.6" fill="#ffffff" opacity="0.066"/><circle cx="315.1" cy="1467.1" r="0.7" fill="#ffffff" opacity="0.066"/><circle cx="319.9" cy="1466.3" r="0.8" fill="#ffffff" opacity="0.066"/><circle cx="313.8" cy="1468.3" r="0.8" fill="#ffffff" opacity="0.066"/><circle cx="317.0" cy="1467.2" r="0.8" fill="#ffffff" opacity="0.066"/><circle cx="313.4" cy="1463.1" r="0.7" fill="#ffffff" opacity="0.066"/><circle cx="321.9" cy="1465.3" r="0.8" fill="#ffffff" opacity="0.066"/><circle cx="314.6" cy="1469.7" r="0.8" fill="#ffffff" opacity="0.066"/><circle cx="317.2" cy="1467.8" r="0.7" fill="#ffffff" opacity="0.066"/><circle cx="317.0" cy="1461.0" r="0.7" fill="#ffffff" opacity="0.066"/><circle cx="316.2" cy="1463.8" r="0.6" fill="#ffffff" opacity="0.066"/><circle cx="315.3" cy="1471.4" r="0.6" fill="#ffffff" opacity="0.066"/><circle cx="190.8" cy="1514.0" r="8.0" fill="#ffffff" opacity="0.05"/><circle cx="189.2" cy="1507.2" r="0.6" fill="#ffffff" opacity="0.11000000000000001"/><circle cx="194.1" cy="1514.0" r="0.8" fill="#ffffff" opacity="0.11000000000000001"/><circle cx="196.3" cy="1517.6" r="0.6" fill="#ffffff" opacity="0.11000000000000001"/><circle cx="189.1" cy="1507.8" r="0.8" fill="#ffffff" opacity="0.11000000000000001"/><circle cx="184.2" cy="1516.5" r="0.9" fill="#ffffff" opacity="0.11000000000000001"/><circle cx="194.9" cy="1517.6" r="0.9" fill="#ffffff" opacity="0.11000000000000001"/><circle cx="190.5" cy="1508.9" r="0.6" fill="#ffffff" opacity="0.11000000000000001"/><circle cx="192.9" cy="1513.4" r="0.8" fill="#ffffff" opacity="0.11000000000000001"/><circle cx="192.5" cy="1511.5" r="0.6" fill="#ffffff" opacity="0.11000000000000001"/><circle cx="188.9" cy="1519.3" r="0.6" fill="#ffffff" opacity="0.11000000000000001"/><circle cx="196.5" cy="1509.5" r="0.6" fill="#ffffff" opacity="0.11000000000000001"/><circle cx="192.4" cy="1512.8" r="0.5" fill="#ffffff" opacity="0.11000000000000001"/><circle cx="187.3" cy="1508.1" r="0.8" fill="#ffffff" opacity="0.11000000000000001"/><circle cx="197.8" cy="1513.6" r="0.6" fill="#ffffff" opacity="0.11000000000000001"/><circle cx="246.7" cy="1510.0" r="8.0" fill="#ffffff" opacity="0.05"/><circle cx="241.5" cy="1515.1" r="0.8" fill="#ffffff" opacity="0.11000000000000001"/><circle cx="248.3" cy="1516.9" r="0.8" fill="#ffffff" opacity="0.11000000000000001"/><circle cx="253.9" cy="1512.0" r="0.6" fill="#ffffff" opacity="0.11000000000000001"/><circle cx="245.0" cy="1514.6" r="0.7" fill="#ffffff" opacity="0.11000000000000001"/><circle cx="251.2" cy="1514.4" r="0.8" fill="#ffffff" opacity="0.11000000000000001"/><circle cx="239.9" cy="1509.5" r="0.7" fill="#ffffff" opacity="0.11000000000000001"/><circle cx="248.2" cy="1507.1" r="0.6" fill="#ffffff" opacity="0.11000000000000001"/><circle cx="244.3" cy="1510.5" r="0.9" fill="#ffffff" opacity="0.11000000000000001"/><circle cx="245.1" cy="1508.2" r="0.7" fill="#ffffff" opacity="0.11000000000000001"/><circle cx="243.9" cy="1511.7" r="0.6" fill="#ffffff" opacity="0.11000000000000001"/><circle cx="244.7" cy="1510.5" r="0.7" fill="#ffffff" opacity="0.11000000000000001"/><circle cx="244.0" cy="1509.7" r="0.9" fill="#ffffff" opacity="0.11000000000000001"/><circle cx="249.8" cy="1510.8" r="0.8" fill="#ffffff" opacity="0.11000000000000001"/><circle cx="247.6" cy="1514.9" r="0.7" fill="#ffffff" opacity="0.11000000000000001"/><circle cx="316.7" cy="1506.7" r="7.0" fill="#ffffff" opacity="0.035"/><circle cx="316.6" cy="1503.7" r="0.6" fill="#ffffff" opacity="0.07700000000000001"/><circle cx="315.4" cy="1505.8" r="0.8" fill="#ffffff" opacity="0.07700000000000001"/><circle cx="316.8" cy="1505.3" r="0.8" fill="#ffffff" opacity="0.07700000000000001"/><circle cx="311.4" cy="1506.6" r="0.9" fill="#ffffff" opacity="0.07700000000000001"/><circle cx="320.9" cy="1506.3" r="0.8" fill="#ffffff" opacity="0.07700000000000001"/><circle cx="318.2" cy="1500.3" r="0.5" fill="#ffffff" opacity="0.07700000000000001"/><circle cx="319.6" cy="1505.5" r="0.6" fill="#ffffff" opacity="0.07700000000000001"/><circle cx="311.7" cy="1503.2" r="0.9" fill="#ffffff" opacity="0.07700000000000001"/><circle cx="312.7" cy="1511.3" r="0.5" fill="#ffffff" opacity="0.07700000000000001"/><circle cx="320.2" cy="1506.0" r="0.7" fill="#ffffff" opacity="0.07700000000000001"/><circle cx="317.7" cy="1507.7" r="0.5" fill="#ffffff" opacity="0.07700000000000001"/><circle cx="312.7" cy="1503.8" r="0.8" fill="#ffffff" opacity="0.07700000000000001"/><circle cx="319.3" cy="1503.2" r="0.8" fill="#ffffff" opacity="0.07700000000000001"/><circle cx="318.6" cy="1512.6" r="0.6" fill="#ffffff" opacity="0.07700000000000001"/><circle cx="434.0" cy="1508.0" r="7.0" fill="#ffffff" opacity="0.02"/><circle cx="430.7" cy="1503.5" r="0.9" fill="#ffffff" opacity="0.044000000000000004"/><circle cx="434.6" cy="1509.6" r="0.8" fill="#ffffff" opacity="0.044000000000000004"/><circle cx="432.0" cy="1511.5" r="0.8" fill="#ffffff" opacity="0.044000000000000004"/><circle cx="436.6" cy="1513.8" r="0.7" fill="#ffffff" opacity="0.044000000000000004"/><circle cx="439.7" cy="1510.8" r="0.7" fill="#ffffff" opacity="0.044000000000000004"/><circle cx="439.4" cy="1510.9" r="0.8" fill="#ffffff" opacity="0.044000000000000004"/><circle cx="433.7" cy="1502.6" r="0.9" fill="#ffffff" opacity="0.044000000000000004"/><circle cx="440.5" cy="1508.5" r="0.8" fill="#ffffff" opacity="0.044000000000000004"/><circle cx="433.9" cy="1513.2" r="0.6" fill="#ffffff" opacity="0.044000000000000004"/><circle cx="430.7" cy="1503.5" r="0.7" fill="#ffffff" opacity="0.044000000000000004"/><circle cx="437.4" cy="1510.4" r="0.6" fill="#ffffff" opacity="0.044000000000000004"/><circle cx="434.0" cy="1501.6" r="0.8" fill="#ffffff" opacity="0.044000000000000004"/><circle cx="431.3" cy="1507.5" r="0.8" fill="#ffffff" opacity="0.044000000000000004"/><circle cx="433.4" cy="1514.6" r="0.6" fill="#ffffff" opacity="0.044000000000000004"/><circle cx="612.0" cy="1375.0" r="4.0" fill="#ffffff" opacity="0.03"/><circle cx="613.0" cy="1375.9" r="0.7" fill="#ffffff" opacity="0.066"/><circle cx="612.6" cy="1376.2" r="0.7" fill="#ffffff" opacity="0.066"/><circle cx="610.5" cy="1375.9" r="0.7" fill="#ffffff" opacity="0.066"/><circle cx="612.8" cy="1373.8" r="0.6" fill="#ffffff" opacity="0.066"/><circle cx="613.8" cy="1375.3" r="0.5" fill="#ffffff" opacity="0.066"/><circle cx="614.1" cy="1374.8" r="0.9" fill="#ffffff" opacity="0.066"/><circle cx="614.5" cy="1377.6" r="0.7" fill="#ffffff" opacity="0.066"/><circle cx="610.9" cy="1372.1" r="0.6" fill="#ffffff" opacity="0.066"/><circle cx="612.3" cy="1378.1" r="0.6" fill="#ffffff" opacity="0.066"/><circle cx="615.3" cy="1375.3" r="0.8" fill="#ffffff" opacity="0.066"/><circle cx="611.8" cy="1377.7" r="0.9" fill="#ffffff" opacity="0.066"/><circle cx="611.8" cy="1376.3" r="0.7" fill="#ffffff" opacity="0.066"/><circle cx="613.1" cy="1377.0" r="0.5" fill="#ffffff" opacity="0.066"/><circle cx="612.3" cy="1371.6" r="0.6" fill="#ffffff" opacity="0.066"/></g></g>
<rect x="1028" y="1261.3" width="473" height="275" fill="url(#g2a)"/>
<g clip-path="url(#c2)"><g filter="url(#soft)"><circle cx="1050.7" cy="1283.5" r="0.9" fill="#dcdcdc"/><circle cx="1047.8" cy="1281.3" r="0.8" fill="#dcdcdc"/><circle cx="1049.3" cy="1288.5" r="0.8" fill="#dcdcdc"/><circle cx="1048.4" cy="1278.4" r="0.8" fill="#dcdcdc"/><circle cx="1044.8" cy="1282.4" r="0.9" fill="#dcdcdc"/><circle cx="1050.5" cy="1283.3" r="0.7" fill="#dcdcdc"/><circle cx="1052.2" cy="1281.9" r="0.8" fill="#dcdcdc"/><circle cx="1047.0" cy="1286.5" r="1.3" fill="#dcdcdc"/><circle cx="1049.4" cy="1286.0" r="1.1" fill="#dcdcdc"/><circle cx="1043.1" cy="1281.6" r="1.2" fill="#dcdcdc"/><circle cx="1047.0" cy="1285.4" r="1.2" fill="#dcdcdc"/><circle cx="1049.7" cy="1283.2" r="1.1" fill="#dcdcdc"/><circle cx="1052.0" cy="1279.7" r="0.8" fill="#dcdcdc"/><circle cx="1050.2" cy="1278.4" r="0.8" fill="#dcdcdc"/><circle cx="1046.9" cy="1281.1" r="0.7" fill="#dcdcdc"/><circle cx="1046.9" cy="1286.3" r="0.9" fill="#dcdcdc"/><circle cx="1045.4" cy="1278.9" r="1.3" fill="#dcdcdc"/><circle cx="1054.6" cy="1282.4" r="1.2" fill="#dcdcdc"/><circle cx="1047.8" cy="1285.7" r="1.1" fill="#dcdcdc"/><circle cx="1044.0" cy="1281.9" r="0.8" fill="#dcdcdc"/><circle cx="1050.7" cy="1288.7" r="1.1" fill="#dcdcdc"/><circle cx="1048.1" cy="1281.6" r="0.9" fill="#dcdcdc"/><circle cx="1129.9" cy="1285.4" r="1.8" fill="#e8e8e8"/><circle cx="1124.2" cy="1290.8" r="1.5" fill="#e8e8e8"/><circle cx="1120.0" cy="1283.9" r="1.8" fill="#e8e8e8"/><circle cx="1131.3" cy="1287.0" r="1.7" fill="#e8e8e8"/><circle cx="1129.9" cy="1278.9" r="1.7" fill="#e8e8e8"/><circle cx="1133.7" cy="1281.2" r="1.8" fill="#e8e8e8"/><circle cx="1126.6" cy="1283.9" r="1.7" fill="#e8e8e8"/><circle cx="1126.8" cy="1280.9" r="1.5" fill="#e8e8e8"/><circle cx="1133.5" cy="1284.1" r="1.5" fill="#e8e8e8"/><circle cx="1130.1" cy="1282.7" r="1.4" fill="#e8e8e8"/><circle cx="1124.8" cy="1286.3" r="1.4" fill="#e8e8e8"/><circle cx="1130.2" cy="1289.9" r="1.9" fill="#e8e8e8"/><circle cx="1126.3" cy="1277.7" r="1.7" fill="#e8e8e8"/><circle cx="1120.5" cy="1280.5" r="1.9" fill="#e8e8e8"/><circle cx="1123.5" cy="1281.7" r="1.8" fill="#e8e8e8"/><circle cx="1120.3" cy="1288.3" r="1.6" fill="#e8e8e8"/><circle cx="1120.4" cy="1285.9" r="1.9" fill="#e8e8e8"/><circle cx="1125.1" cy="1288.4" r="1.9" fill="#e8e8e8"/><circle cx="1123.8" cy="1276.5" r="1.7" fill="#e8e8e8"/><circle cx="1127.4" cy="1288.5" r="1.5" fill="#e8e8e8"/><circle cx="1187.4" cy="1278.9" r="1.3" fill="#dedede"/><circle cx="1186.0" cy="1282.2" r="1.3" fill="#dedede"/><circle cx="1184.9" cy="1283.6" r="1.2" fill="#dedede"/><circle cx="1181.0" cy="1285.1" r="1.4" fill="#dedede"/><circle cx="1177.6" cy="1284.1" r="1.4" fill="#dedede"/><circle cx="1175.4" cy="1281.5" r="1.0" fill="#dedede"/><circle cx="1174.3" cy="1277.7" r="1.2" fill="#dedede"/><circle cx="1175.6" cy="1275.2" r="1.3" fill="#dedede"/><circle cx="1178.4" cy="1273.1" r="1.2" fill="#dedede"/><circle cx="1180.0" cy="1271.2" r="1.4" fill="#dedede"/><circle cx="1183.6" cy="1272.4" r="1.3" fill="#dedede"/><circle cx="1186.9" cy="1274.6" r="1.0" fill="#dedede"/><circle cx="1232.0" cy="1271.5" r="1.0" fill="#d8d8d8"/><circle cx="1239.5" cy="1275.5" r="1.2" fill="#d8d8d8"/><circle cx="1243.0" cy="1279.5" r="1.2" fill="#d8d8d8"/><circle cx="1237.5" cy="1281.0" r="0.9" fill="#d8d8d8"/><circle cx="1236.0" cy="1273.0" r="0.7" fill="#d8d8d8"/><circle cx="1300.2" cy="1268.0" r="1.4" fill="#e0e0e0"/><circle cx="1306.0" cy="1269.5" r="1.2" fill="#e0e0e0"/><circle cx="1308.8" cy="1274.2" r="1.7" fill="#e0e0e0"/><circle cx="1305.0" cy="1277.0" r="1.1" fill="#e0e0e0"/><circle cx="1370.6" cy="1274.5" r="1.0" fill="#cfcfcf"/><circle cx="1371.0" cy="1277.5" r="1.1" fill="#cfcfcf"/><circle cx="1371.2" cy="1281.5" r="1.3" fill="#cfcfcf"/><circle cx="1436.0" cy="1269.5" r="0.8" fill="#bdbdbd"/><circle cx="1440.7" cy="1272.8" r="1.0" fill="#bdbdbd"/><circle cx="1493.5" cy="1271.0" r="1.0" fill="#bdbdbd"/><circle cx="1039.5" cy="1336.7" r="3.3" fill="#ffffff"/><circle cx="1046.8" cy="1333.0" r="2.6" fill="#ffffff"/><circle cx="1047.3" cy="1336.3" r="2.5" fill="#ffffff"/><circle cx="1043.2" cy="1339.1" r="3.3" fill="#ffffff"/><circle cx="1042.7" cy="1342.8" r="2.7" fill="#ffffff"/><circle cx="1043.5" cy="1331.9" r="3.3" fill="#ffffff"/><circle cx="1047.1" cy="1340.0" r="2.7" fill="#ffffff"/><circle cx="1043.1" cy="1335.6" r="2.5" fill="#ffffff"/><circle cx="1039.6" cy="1341.0" r="2.7" fill="#ffffff"/><circle cx="1040.5" cy="1334.0" r="2.9" fill="#ffffff"/><circle cx="1049.5" cy="1337.9" r="3.0" fill="#ffffff"/><circle cx="1045.9" cy="1342.5" r="3.2" fill="#ffffff"/><circle cx="1040.8" cy="1339.3" r="3.0" fill="#ffffff"/><circle cx="1045.2" cy="1334.5" r="3.1" fill="#ffffff"/><ellipse cx="1120.8" cy="1332.5" rx="8.4" ry="8.4" fill="#ffffff"/><circle cx="1127.1" cy="1332.6" r="2.9" fill="#ffffff"/><circle cx="1124.7" cy="1336.9" r="3.1" fill="#ffffff"/><circle cx="1121.7" cy="1338.7" r="2.9" fill="#ffffff"/><circle cx="1117.0" cy="1337.0" r="2.7" fill="#ffffff"/><circle cx="1114.9" cy="1334.1" r="2.9" fill="#ffffff"/><circle cx="1114.6" cy="1330.6" r="2.5" fill="#ffffff"/><circle cx="1118.3" cy="1327.1" r="2.5" fill="#ffffff"/><circle cx="1122.2" cy="1327.0" r="2.6" fill="#ffffff"/><circle cx="1124.9" cy="1328.5" r="2.6" fill="#ffffff"/><circle cx="1118.5" cy="1330.0" r="1.6" fill="#bdbdbd"/><circle cx="1123.0" cy="1335.0" r="1.2" fill="#bdbdbd"/><circle cx="1172.0" cy="1330.0" r="3.2" fill="#ffffff"/><circle cx="1177.0" cy="1326.5" r="3.0" fill="#ffffff"/><circle cx="1181.5" cy="1331.0" r="3.2" fill="#ffffff"/><circle cx="1176.5" cy="1333.5" r="2.6" fill="#ffffff"/><circle cx="1177.5" cy="1340.0" r="2.7" fill="#ffffff"/><circle cx="1173.5" cy="1339.5" r="1.8" fill="#ffffff"/><circle cx="1183.0" cy="1334.5" r="2.0" fill="#ffffff"/><circle cx="1233.0" cy="1323.5" r="3.0" fill="#ffffff"/><circle cx="1235.5" cy="1328.0" r="2.6" fill="#ffffff"/><circle cx="1229.0" cy="1334.0" r="2.6" fill="#ffffff"/><circle cx="1233.5" cy="1335.5" r="2.8" fill="#ffffff"/><circle cx="1237.0" cy="1335.0" r="2.4" fill="#ffffff"/><circle cx="1228.5" cy="1322.5" r="1.4" fill="#ffffff"/><circle cx="1226.5" cy="1333.0" r="1.6" fill="#ffffff"/><circle cx="1296.0" cy="1329.5" r="3.8" fill="#ffffff"/><circle cx="1290.2" cy="1335.0" r="2.8" fill="#ffffff"/><circle cx="1291.8" cy="1324.2" r="1.8" fill="#ffffff"/><circle cx="1360.5" cy="1326.0" r="3.1" fill="#ffffff"/><circle cx="1364.5" cy="1328.3" r="2.5" fill="#ffffff"/><circle cx="1368.5" cy="1333.0" r="1.4" fill="#ffffff"/><circle cx="1433.0" cy="1319.2" r="3.9" fill="#ffffff"/><circle cx="1435.7" cy="1326.7" r="2.7" fill="#ffffff"/><circle cx="1052.5" cy="1385.0" r="7.0" fill="#ffffff" opacity="0.06"/><circle cx="1049.4" cy="1390.8" r="0.9" fill="#ffffff" opacity="0.22"/><circle cx="1057.6" cy="1382.1" r="0.9" fill="#ffffff" opacity="0.22"/><circle cx="1057.8" cy="1385.0" r="0.6" fill="#ffffff" opacity="0.22"/><circle cx="1052.0" cy="1380.7" r="0.7" fill="#ffffff" opacity="0.22"/><circle cx="1047.6" cy="1383.7" r="0.8" fill="#ffffff" opacity="0.22"/><circle cx="1056.4" cy="1384.5" r="0.8" fill="#ffffff" opacity="0.22"/><circle cx="1055.7" cy="1382.3" r="0.5" fill="#ffffff" opacity="0.22"/><circle cx="1046.7" cy="1385.1" r="0.7" fill="#ffffff" opacity="0.22"/><circle cx="1054.7" cy="1390.1" r="0.6" fill="#ffffff" opacity="0.22"/><circle cx="1054.6" cy="1383.2" r="0.7" fill="#ffffff" opacity="0.22"/><circle cx="1047.5" cy="1389.3" r="0.6" fill="#ffffff" opacity="0.22"/><circle cx="1055.6" cy="1382.1" r="0.6" fill="#ffffff" opacity="0.22"/><circle cx="1053.7" cy="1389.5" r="0.9" fill="#ffffff" opacity="0.22"/><circle cx="1058.9" cy="1385.0" r="0.7" fill="#ffffff" opacity="0.22"/><circle cx="1052.9" cy="1389.7" r="0.8" fill="#ffffff" opacity="0.22"/><circle cx="1050.6" cy="1391.3" r="0.5" fill="#ffffff" opacity="0.22"/><circle cx="1128.3" cy="1385.0" r="7.0" fill="#ffffff" opacity="0.05"/><circle cx="1127.5" cy="1383.2" r="0.7" fill="#ffffff" opacity="0.22"/><circle cx="1131.6" cy="1379.9" r="0.7" fill="#ffffff" opacity="0.22"/><circle cx="1125.6" cy="1382.0" r="0.7" fill="#ffffff" opacity="0.22"/><circle cx="1132.6" cy="1388.4" r="0.7" fill="#ffffff" opacity="0.22"/><circle cx="1127.5" cy="1389.0" r="0.8" fill="#ffffff" opacity="0.22"/><circle cx="1122.2" cy="1387.2" r="0.9" fill="#ffffff" opacity="0.22"/><circle cx="1129.4" cy="1383.3" r="0.5" fill="#ffffff" opacity="0.22"/><circle cx="1127.3" cy="1388.9" r="0.8" fill="#ffffff" opacity="0.22"/><circle cx="1130.6" cy="1380.6" r="0.8" fill="#ffffff" opacity="0.22"/><circle cx="1127.2" cy="1384.5" r="0.7" fill="#ffffff" opacity="0.22"/><circle cx="1129.3" cy="1389.2" r="0.5" fill="#ffffff" opacity="0.22"/><circle cx="1124.8" cy="1379.7" r="0.5" fill="#ffffff" opacity="0.22"/><circle cx="1127.4" cy="1384.5" r="0.6" fill="#ffffff" opacity="0.22"/><circle cx="1131.6" cy="1390.2" r="0.8" fill="#ffffff" opacity="0.22"/><circle cx="1130.8" cy="1383.1" r="0.8" fill="#ffffff" opacity="0.22"/><circle cx="1126.8" cy="1380.5" r="0.9" fill="#ffffff" opacity="0.22"/><circle cx="1133.5" cy="1391.0" r="1.0" fill="#b0b0b0"/><circle cx="1180.0" cy="1383.3" r="6.5" fill="#ffffff" opacity="0.03"/><circle cx="1177.4" cy="1380.2" r="0.8" fill="#ffffff" opacity="0.22"/><circle cx="1184.7" cy="1385.4" r="0.6" fill="#ffffff" opacity="0.22"/><circle cx="1178.0" cy="1381.7" r="0.6" fill="#ffffff" opacity="0.22"/><circle cx="1179.6" cy="1386.8" r="0.8" fill="#ffffff" opacity="0.22"/><circle cx="1174.0" cy="1384.3" r="0.7" fill="#ffffff" opacity="0.22"/><circle cx="1180.8" cy="1388.1" r="0.7" fill="#ffffff" opacity="0.22"/><circle cx="1182.8" cy="1386.8" r="0.5" fill="#ffffff" opacity="0.22"/><circle cx="1176.8" cy="1386.5" r="0.8" fill="#ffffff" opacity="0.22"/><circle cx="1184.7" cy="1382.1" r="0.5" fill="#ffffff" opacity="0.22"/><circle cx="1176.9" cy="1383.8" r="0.8" fill="#ffffff" opacity="0.22"/><circle cx="1181.4" cy="1382.2" r="0.8" fill="#ffffff" opacity="0.22"/><circle cx="1179.3" cy="1385.8" r="0.7" fill="#ffffff" opacity="0.22"/><circle cx="1177.1" cy="1384.9" r="0.6" fill="#ffffff" opacity="0.22"/><circle cx="1175.3" cy="1385.4" r="0.6" fill="#ffffff" opacity="0.22"/><circle cx="1177.9" cy="1385.5" r="0.8" fill="#ffffff" opacity="0.22"/><circle cx="1180.1" cy="1388.6" r="0.5" fill="#ffffff" opacity="0.22"/><circle cx="1176.0" cy="1382.5" r="1.1" fill="#a8a8a8"/><circle cx="1240.0" cy="1377.0" r="6.0" fill="#ffffff" opacity="0.025"/><circle cx="1240.9" cy="1380.4" r="0.6" fill="#ffffff" opacity="0.22"/><circle cx="1236.6" cy="1379.6" r="0.8" fill="#ffffff" opacity="0.22"/><circle cx="1239.9" cy="1380.4" r="0.6" fill="#ffffff" opacity="0.22"/><circle cx="1241.2" cy="1374.2" r="0.9" fill="#ffffff" opacity="0.22"/><circle cx="1240.5" cy="1377.2" r="0.7" fill="#ffffff" opacity="0.22"/><circle cx="1235.6" cy="1379.3" r="0.8" fill="#ffffff" opacity="0.22"/><circle cx="1236.9" cy="1376.7" r="0.8" fill="#ffffff" opacity="0.22"/><circle cx="1237.2" cy="1377.7" r="0.6" fill="#ffffff" opacity="0.22"/><circle cx="1244.8" cy="1377.0" r="0.5" fill="#ffffff" opacity="0.22"/><circle cx="1241.7" cy="1381.2" r="0.7" fill="#ffffff" opacity="0.22"/><circle cx="1236.7" cy="1373.9" r="0.8" fill="#ffffff" opacity="0.22"/><circle cx="1245.3" cy="1375.1" r="0.7" fill="#ffffff" opacity="0.22"/><circle cx="1238.8" cy="1378.7" r="0.7" fill="#ffffff" opacity="0.22"/><circle cx="1242.6" cy="1381.9" r="0.8" fill="#ffffff" opacity="0.22"/><circle cx="1240.4" cy="1381.7" r="0.8" fill="#ffffff" opacity="0.22"/><circle cx="1244.2" cy="1380.0" r="0.8" fill="#ffffff" opacity="0.22"/><circle cx="1298.8" cy="1373.8" r="1.2" fill="#8c8c8c"/><circle cx="1444.3" cy="1372.5" r="1.2" fill="#8c8c8c"/><circle cx="1048.5" cy="1430.1" r="3.8" fill="#ffffff"/><circle cx="1056.9" cy="1429.3" r="3.9" fill="#ffffff"/><circle cx="1050.9" cy="1426.0" r="3.9" fill="#ffffff"/><circle cx="1057.7" cy="1424.9" r="3.7" fill="#ffffff"/><circle cx="1051.8" cy="1433.4" r="3.9" fill="#ffffff"/><circle cx="1056.9" cy="1433.5" r="3.7" fill="#ffffff"/><circle cx="1054.1" cy="1423.0" r="3.4" fill="#ffffff"/><circle cx="1053.2" cy="1429.2" r="3.7" fill="#ffffff"/><circle cx="1059.1" cy="1427.5" r="3.9" fill="#ffffff"/><circle cx="1055.0" cy="1426.8" r="3.8" fill="#ffffff"/><circle cx="1048.4" cy="1427.3" r="3.1" fill="#ffffff"/><circle cx="1055.0" cy="1431.5" r="3.5" fill="#ffffff"/><circle cx="1058.2" cy="1431.4" r="3.3" fill="#ffffff"/><ellipse cx="1122.2" cy="1428.0" rx="8.6" ry="8.6" fill="#ffffff"/><circle cx="1128.2" cy="1427.7" r="2.6" fill="#ffffff"/><circle cx="1126.3" cy="1432.8" r="2.9" fill="#ffffff"/><circle cx="1123.1" cy="1434.0" r="3.0" fill="#ffffff"/><circle cx="1118.8" cy="1433.5" r="2.9" fill="#ffffff"/><circle cx="1116.2" cy="1429.3" r="2.6" fill="#ffffff"/><circle cx="1115.9" cy="1426.7" r="2.6" fill="#ffffff"/><circle cx="1119.4" cy="1422.3" r="2.5" fill="#ffffff"/><circle cx="1123.8" cy="1422.5" r="3.1" fill="#ffffff"/><circle cx="1127.2" cy="1424.8" r="3.0" fill="#ffffff"/><circle cx="1121.0" cy="1429.5" r="2.2" fill="#d4d4d4"/><circle cx="1125.0" cy="1427.0" r="1.4" fill="#d4d4d4"/><circle cx="1178.2" cy="1427.6" r="3.6" fill="#ffffff"/><circle cx="1178.3" cy="1423.9" r="3.0" fill="#ffffff"/><circle cx="1179.4" cy="1432.0" r="3.3" fill="#ffffff"/><circle cx="1173.5" cy="1427.1" r="2.9" fill="#ffffff"/><circle cx="1175.8" cy="1431.1" r="2.8" fill="#ffffff"/><circle cx="1183.0" cy="1428.0" r="2.8" fill="#ffffff"/><circle cx="1182.2" cy="1424.3" r="3.4" fill="#ffffff"/><circle cx="1183.1" cy="1431.2" r="3.3" fill="#ffffff"/><circle cx="1175.2" cy="1424.8" r="3.1" fill="#ffffff"/><circle cx="1180.5" cy="1428.9" r="3.2" fill="#ffffff"/><circle cx="1177.5" cy="1433.5" r="3.1" fill="#ffffff"/><circle cx="1178.0" cy="1430.0" r="3.2" fill="#ffffff"/><circle cx="1240.0" cy="1424.9" r="3.0" fill="#ffffff"/><circle cx="1232.8" cy="1419.1" r="3.3" fill="#ffffff"/><circle cx="1231.4" cy="1424.9" r="3.2" fill="#ffffff"/><circle cx="1238.4" cy="1419.5" r="3.4" fill="#ffffff"/><circle cx="1238.0" cy="1428.3" r="3.5" fill="#ffffff"/><circle cx="1235.6" cy="1422.4" r="2.9" fill="#ffffff"/><circle cx="1233.4" cy="1428.5" r="3.5" fill="#ffffff"/><circle cx="1235.6" cy="1425.7" r="2.8" fill="#ffffff"/><circle cx="1230.4" cy="1421.2" r="2.8" fill="#ffffff"/><circle cx="1235.8" cy="1419.5" r="3.0" fill="#ffffff"/><circle cx="1297.7" cy="1427.0" r="4.3" fill="#ffffff"/><circle cx="1305.0" cy="1422.2" r="3.0" fill="#ffffff"/><circle cx="1294.3" cy="1420.5" r="2.8" fill="#ffffff"/><circle cx="1299.5" cy="1420.5" r="2.0" fill="#ffffff"/><circle cx="1292.5" cy="1424.0" r="1.6" fill="#ffffff"/><circle cx="1364.8" cy="1419.2" r="4.1" fill="#ffffff"/><circle cx="1373.0" cy="1427.2" r="2.7" fill="#ffffff"/><circle cx="1371.0" cy="1415.3" r="1.9" fill="#ffffff"/><circle cx="1443.0" cy="1416.0" r="2.6" fill="#f2f2f2"/><circle cx="1447.5" cy="1419.0" r="3.0" fill="#f2f2f2"/><circle cx="1446.0" cy="1424.5" r="3.2" fill="#f2f2f2"/><circle cx="1441.0" cy="1421.0" r="1.6" fill="#f2f2f2"/><circle cx="1440.0" cy="1427.0" r="1.0" fill="#f2f2f2"/><circle cx="1491.5" cy="1414.2" r="3.9" fill="#ffffff"/><circle cx="1480.7" cy="1416.2" r="1.8" fill="#ffffff"/><circle cx="1397.7" cy="1422.0" r="1.2" fill="#9a9a9a"/><circle cx="1053.8" cy="1476.3" r="8.0" fill="#ffffff" opacity="0.08"/><circle cx="1049.1" cy="1479.3" r="0.8" fill="#ffffff" opacity="0.17600000000000002"/><circle cx="1055.4" cy="1479.5" r="0.5" fill="#ffffff" opacity="0.17600000000000002"/><circle cx="1054.3" cy="1476.8" r="0.6" fill="#ffffff" opacity="0.17600000000000002"/><circle cx="1046.3" cy="1475.6" r="0.8" fill="#ffffff" opacity="0.17600000000000002"/><circle cx="1050.3" cy="1479.6" r="0.8" fill="#ffffff" opacity="0.17600000000000002"/><circle cx="1052.9" cy="1478.1" r="0.8" fill="#ffffff" opacity="0.17600000000000002"/><circle cx="1051.9" cy="1474.6" r="0.5" fill="#ffffff" opacity="0.17600000000000002"/><circle cx="1060.0" cy="1480.5" r="0.5" fill="#ffffff" opacity="0.17600000000000002"/><circle cx="1048.5" cy="1471.0" r="0.5" fill="#ffffff" opacity="0.17600000000000002"/><circle cx="1049.8" cy="1479.8" r="0.9" fill="#ffffff" opacity="0.17600000000000002"/><circle cx="1055.3" cy="1479.9" r="0.6" fill="#ffffff" opacity="0.17600000000000002"/><circle cx="1059.7" cy="1478.2" r="0.8" fill="#ffffff" opacity="0.17600000000000002"/><circle cx="1052.4" cy="1476.9" r="0.8" fill="#ffffff" opacity="0.17600000000000002"/><circle cx="1053.3" cy="1470.2" r="0.6" fill="#ffffff" opacity="0.17600000000000002"/><circle cx="1122.5" cy="1480.0" r="8.0" fill="#ffffff" opacity="0.07"/><circle cx="1121.8" cy="1485.3" r="0.5" fill="#ffffff" opacity="0.15400000000000003"/><circle cx="1121.4" cy="1481.7" r="0.5" fill="#ffffff" opacity="0.15400000000000003"/><circle cx="1121.9" cy="1482.5" r="0.6" fill="#ffffff" opacity="0.15400000000000003"/><circle cx="1122.4" cy="1478.6" r="0.7" fill="#ffffff" opacity="0.15400000000000003"/><circle cx="1127.0" cy="1485.1" r="0.8" fill="#ffffff" opacity="0.15400000000000003"/><circle cx="1124.2" cy="1486.8" r="0.8" fill="#ffffff" opacity="0.15400000000000003"/><circle cx="1126.8" cy="1482.2" r="0.8" fill="#ffffff" opacity="0.15400000000000003"/><circle cx="1125.3" cy="1478.5" r="0.6" fill="#ffffff" opacity="0.15400000000000003"/><circle cx="1123.7" cy="1472.6" r="0.5" fill="#ffffff" opacity="0.15400000000000003"/><circle cx="1128.1" cy="1483.5" r="0.6" fill="#ffffff" opacity="0.15400000000000003"/><circle cx="1117.1" cy="1484.6" r="0.8" fill="#ffffff" opacity="0.15400000000000003"/><circle cx="1118.7" cy="1474.0" r="0.8" fill="#ffffff" opacity="0.15400000000000003"/><circle cx="1124.8" cy="1474.3" r="0.7" fill="#ffffff" opacity="0.15400000000000003"/><circle cx="1129.2" cy="1482.7" r="0.9" fill="#ffffff" opacity="0.15400000000000003"/><circle cx="1178.7" cy="1476.3" r="8.0" fill="#ffffff" opacity="0.06"/><circle cx="1182.4" cy="1473.2" r="0.7" fill="#ffffff" opacity="0.132"/><circle cx="1181.0" cy="1473.5" r="0.7" fill="#ffffff" opacity="0.132"/><circle cx="1172.3" cy="1472.6" r="0.5" fill="#ffffff" opacity="0.132"/><circle cx="1182.6" cy="1478.1" r="0.8" fill="#ffffff" opacity="0.132"/><circle cx="1180.2" cy="1474.0" r="0.9" fill="#ffffff" opacity="0.132"/><circle cx="1171.3" cy="1475.0" r="0.9" fill="#ffffff" opacity="0.132"/><circle cx="1185.0" cy="1480.4" r="0.7" fill="#ffffff" opacity="0.132"/><circle cx="1181.6" cy="1480.6" r="0.5" fill="#ffffff" opacity="0.132"/><circle cx="1178.7" cy="1470.7" r="0.5" fill="#ffffff" opacity="0.132"/><circle cx="1179.5" cy="1481.6" r="0.8" fill="#ffffff" opacity="0.132"/><circle cx="1178.3" cy="1478.8" r="0.6" fill="#ffffff" opacity="0.132"/><circle cx="1182.7" cy="1478.2" r="0.8" fill="#ffffff" opacity="0.132"/><circle cx="1180.4" cy="1480.1" r="0.8" fill="#ffffff" opacity="0.132"/><circle cx="1179.4" cy="1478.8" r="0.6" fill="#ffffff" opacity="0.132"/><circle cx="1231.7" cy="1473.3" r="7.0" fill="#ffffff" opacity="0.035"/><circle cx="1229.1" cy="1476.8" r="0.7" fill="#ffffff" opacity="0.07700000000000001"/><circle cx="1229.1" cy="1477.3" r="0.7" fill="#ffffff" opacity="0.07700000000000001"/><circle cx="1235.9" cy="1474.4" r="0.5" fill="#ffffff" opacity="0.07700000000000001"/><circle cx="1234.4" cy="1475.4" r="0.9" fill="#ffffff" opacity="0.07700000000000001"/><circle cx="1226.8" cy="1473.9" r="0.9" fill="#ffffff" opacity="0.07700000000000001"/><circle cx="1235.7" cy="1470.3" r="0.6" fill="#ffffff" opacity="0.07700000000000001"/><circle cx="1227.8" cy="1472.7" r="0.9" fill="#ffffff" opacity="0.07700000000000001"/><circle cx="1235.7" cy="1474.1" r="0.8" fill="#ffffff" opacity="0.07700000000000001"/><circle cx="1227.7" cy="1470.4" r="0.8" fill="#ffffff" opacity="0.07700000000000001"/><circle cx="1232.1" cy="1479.4" r="0.9" fill="#ffffff" opacity="0.07700000000000001"/><circle cx="1235.4" cy="1474.1" r="0.6" fill="#ffffff" opacity="0.07700000000000001"/><circle cx="1228.1" cy="1476.6" r="0.6" fill="#ffffff" opacity="0.07700000000000001"/><circle cx="1228.0" cy="1468.3" r="0.9" fill="#ffffff" opacity="0.07700000000000001"/><circle cx="1233.5" cy="1470.7" r="0.8" fill="#ffffff" opacity="0.07700000000000001"/><circle cx="1045.0" cy="1518.0" r="8.0" fill="#ffffff" opacity="0.08"/><circle cx="1042.4" cy="1517.2" r="0.8" fill="#ffffff" opacity="0.17600000000000002"/><circle cx="1042.6" cy="1525.0" r="0.6" fill="#ffffff" opacity="0.17600000000000002"/><circle cx="1045.2" cy="1514.9" r="0.9" fill="#ffffff" opacity="0.17600000000000002"/><circle cx="1046.7" cy="1516.2" r="0.8" fill="#ffffff" opacity="0.17600000000000002"/><circle cx="1046.1" cy="1523.3" r="0.8" fill="#ffffff" opacity="0.17600000000000002"/><circle cx="1047.0" cy="1520.9" r="0.5" fill="#ffffff" opacity="0.17600000000000002"/><circle cx="1049.9" cy="1520.1" r="0.6" fill="#ffffff" opacity="0.17600000000000002"/><circle cx="1049.4" cy="1522.6" r="0.6" fill="#ffffff" opacity="0.17600000000000002"/><circle cx="1042.7" cy="1521.7" r="0.8" fill="#ffffff" opacity="0.17600000000000002"/><circle cx="1044.2" cy="1524.1" r="0.9" fill="#ffffff" opacity="0.17600000000000002"/><circle cx="1041.4" cy="1516.3" r="0.6" fill="#ffffff" opacity="0.17600000000000002"/><circle cx="1043.2" cy="1515.4" r="0.7" fill="#ffffff" opacity="0.17600000000000002"/><circle cx="1047.7" cy="1511.8" r="0.6" fill="#ffffff" opacity="0.17600000000000002"/><circle cx="1042.3" cy="1521.0" r="0.6" fill="#ffffff" opacity="0.17600000000000002"/><circle cx="1113.8" cy="1519.2" r="8.0" fill="#ffffff" opacity="0.06"/><circle cx="1118.3" cy="1521.2" r="0.5" fill="#ffffff" opacity="0.132"/><circle cx="1113.9" cy="1513.8" r="0.5" fill="#ffffff" opacity="0.132"/><circle cx="1120.1" cy="1521.0" r="0.6" fill="#ffffff" opacity="0.132"/><circle cx="1113.2" cy="1513.2" r="0.7" fill="#ffffff" opacity="0.132"/><circle cx="1117.4" cy="1514.6" r="0.7" fill="#ffffff" opacity="0.132"/><circle cx="1110.7" cy="1521.4" r="0.6" fill="#ffffff" opacity="0.132"/><circle cx="1109.7" cy="1521.4" r="0.8" fill="#ffffff" opacity="0.132"/><circle cx="1113.2" cy="1524.0" r="0.9" fill="#ffffff" opacity="0.132"/><circle cx="1109.3" cy="1515.0" r="0.8" fill="#ffffff" opacity="0.132"/><circle cx="1116.7" cy="1517.4" r="0.8" fill="#ffffff" opacity="0.132"/><circle cx="1117.3" cy="1520.7" r="0.7" fill="#ffffff" opacity="0.132"/><circle cx="1111.6" cy="1524.0" r="0.6" fill="#ffffff" opacity="0.132"/><circle cx="1113.6" cy="1524.2" r="0.7" fill="#ffffff" opacity="0.132"/><circle cx="1111.9" cy="1514.2" r="0.7" fill="#ffffff" opacity="0.132"/><circle cx="1170.8" cy="1518.3" r="8.0" fill="#ffffff" opacity="0.055"/><circle cx="1166.9" cy="1518.4" r="0.8" fill="#ffffff" opacity="0.12100000000000001"/><circle cx="1171.0" cy="1523.5" r="0.9" fill="#ffffff" opacity="0.12100000000000001"/><circle cx="1174.5" cy="1520.5" r="0.8" fill="#ffffff" opacity="0.12100000000000001"/><circle cx="1173.4" cy="1519.8" r="0.8" fill="#ffffff" opacity="0.12100000000000001"/><circle cx="1175.1" cy="1517.8" r="0.6" fill="#ffffff" opacity="0.12100000000000001"/><circle cx="1175.1" cy="1517.5" r="0.7" fill="#ffffff" opacity="0.12100000000000001"/><circle cx="1166.1" cy="1514.5" r="0.9" fill="#ffffff" opacity="0.12100000000000001"/><circle cx="1177.0" cy="1516.8" r="0.8" fill="#ffffff" opacity="0.12100000000000001"/><circle cx="1172.5" cy="1512.4" r="0.7" fill="#ffffff" opacity="0.12100000000000001"/><circle cx="1171.4" cy="1522.2" r="0.9" fill="#ffffff" opacity="0.12100000000000001"/><circle cx="1170.0" cy="1515.9" r="0.9" fill="#ffffff" opacity="0.12100000000000001"/><circle cx="1170.0" cy="1524.6" r="0.7" fill="#ffffff" opacity="0.12100000000000001"/><circle cx="1170.4" cy="1521.8" r="0.7" fill="#ffffff" opacity="0.12100000000000001"/><circle cx="1165.7" cy="1521.5" r="0.8" fill="#ffffff" opacity="0.12100000000000001"/><circle cx="1225.0" cy="1512.5" r="7.0" fill="#ffffff" opacity="0.03"/><circle cx="1225.2" cy="1517.2" r="0.6" fill="#ffffff" opacity="0.066"/><circle cx="1226.4" cy="1509.6" r="0.7" fill="#ffffff" opacity="0.066"/><circle cx="1228.8" cy="1510.6" r="0.9" fill="#ffffff" opacity="0.066"/><circle cx="1224.4" cy="1507.6" r="0.8" fill="#ffffff" opacity="0.066"/><circle cx="1221.6" cy="1510.4" r="0.9" fill="#ffffff" opacity="0.066"/><circle cx="1219.6" cy="1516.2" r="0.8" fill="#ffffff" opacity="0.066"/><circle cx="1228.3" cy="1513.1" r="0.7" fill="#ffffff" opacity="0.066"/><circle cx="1226.1" cy="1509.9" r="0.7" fill="#ffffff" opacity="0.066"/><circle cx="1221.0" cy="1516.9" r="0.9" fill="#ffffff" opacity="0.066"/><circle cx="1225.2" cy="1509.6" r="0.8" fill="#ffffff" opacity="0.066"/><circle cx="1219.4" cy="1514.8" r="0.7" fill="#ffffff" opacity="0.066"/><circle cx="1230.5" cy="1508.8" r="0.8" fill="#ffffff" opacity="0.066"/><circle cx="1227.8" cy="1507.2" r="0.7" fill="#ffffff" opacity="0.066"/><circle cx="1228.0" cy="1518.4" r="0.7" fill="#ffffff" opacity="0.066"/><circle cx="1297.0" cy="1472.0" r="7.0" fill="#ffffff" opacity="0.02"/><circle cx="1298.5" cy="1471.8" r="0.8" fill="#ffffff" opacity="0.044000000000000004"/><circle cx="1290.6" cy="1472.7" r="0.7" fill="#ffffff" opacity="0.044000000000000004"/><circle cx="1299.3" cy="1470.7" r="0.9" fill="#ffffff" opacity="0.044000000000000004"/><circle cx="1294.6" cy="1473.5" r="0.6" fill="#ffffff" opacity="0.044000000000000004"/><circle cx="1296.2" cy="1471.1" r="0.7" fill="#ffffff" opacity="0.044000000000000004"/><circle cx="1298.7" cy="1472.1" r="0.6" fill="#ffffff" opacity="0.044000000000000004"/><circle cx="1297.4" cy="1475.5" r="0.8" fill="#ffffff" opacity="0.044000000000000004"/><circle cx="1291.7" cy="1475.1" r="0.9" fill="#ffffff" opacity="0.044000000000000004"/><circle cx="1302.1" cy="1468.0" r="0.7" fill="#ffffff" opacity="0.044000000000000004"/><circle cx="1294.0" cy="1466.5" r="0.7" fill="#ffffff" opacity="0.044000000000000004"/><circle cx="1300.0" cy="1475.7" r="0.7" fill="#ffffff" opacity="0.044000000000000004"/><circle cx="1297.9" cy="1473.8" r="0.6" fill="#ffffff" opacity="0.044000000000000004"/><circle cx="1295.1" cy="1466.3" r="0.8" fill="#ffffff" opacity="0.044000000000000004"/><circle cx="1296.0" cy="1472.5" r="0.5" fill="#ffffff" opacity="0.044000000000000004"/><circle cx="1369.0" cy="1474.0" r="7.0" fill="#ffffff" opacity="0.02"/><circle cx="1364.3" cy="1469.8" r="0.7" fill="#ffffff" opacity="0.044000000000000004"/><circle cx="1367.5" cy="1467.8" r="0.7" fill="#ffffff" opacity="0.044000000000000004"/><circle cx="1368.4" cy="1468.4" r="0.8" fill="#ffffff" opacity="0.044000000000000004"/><circle cx="1371.7" cy="1474.6" r="0.9" fill="#ffffff" opacity="0.044000000000000004"/><circle cx="1368.9" cy="1470.6" r="0.8" fill="#ffffff" opacity="0.044000000000000004"/><circle cx="1370.9" cy="1477.5" r="0.7" fill="#ffffff" opacity="0.044000000000000004"/><circle cx="1369.3" cy="1476.5" r="0.7" fill="#ffffff" opacity="0.044000000000000004"/><circle cx="1366.7" cy="1471.0" r="0.8" fill="#ffffff" opacity="0.044000000000000004"/><circle cx="1370.6" cy="1473.8" r="0.6" fill="#ffffff" opacity="0.044000000000000004"/><circle cx="1373.6" cy="1476.9" r="0.7" fill="#ffffff" opacity="0.044000000000000004"/><circle cx="1365.9" cy="1475.2" r="0.8" fill="#ffffff" opacity="0.044000000000000004"/><circle cx="1369.2" cy="1469.6" r="0.8" fill="#ffffff" opacity="0.044000000000000004"/><circle cx="1369.5" cy="1477.9" r="0.9" fill="#ffffff" opacity="0.044000000000000004"/><circle cx="1369.3" cy="1476.5" r="0.5" fill="#ffffff" opacity="0.044000000000000004"/><circle cx="1445.0" cy="1467.0" r="6.0" fill="#ffffff" opacity="0.02"/><circle cx="1446.8" cy="1465.9" r="0.7" fill="#ffffff" opacity="0.044000000000000004"/><circle cx="1439.4" cy="1467.6" r="0.7" fill="#ffffff" opacity="0.044000000000000004"/><circle cx="1440.9" cy="1468.4" r="0.7" fill="#ffffff" opacity="0.044000000000000004"/><circle cx="1449.5" cy="1464.2" r="0.8" fill="#ffffff" opacity="0.044000000000000004"/><circle cx="1450.3" cy="1469.0" r="0.7" fill="#ffffff" opacity="0.044000000000000004"/><circle cx="1441.6" cy="1464.6" r="0.7" fill="#ffffff" opacity="0.044000000000000004"/><circle cx="1447.7" cy="1465.7" r="0.6" fill="#ffffff" opacity="0.044000000000000004"/><circle cx="1447.9" cy="1467.0" r="0.6" fill="#ffffff" opacity="0.044000000000000004"/><circle cx="1440.0" cy="1469.1" r="0.7" fill="#ffffff" opacity="0.044000000000000004"/><circle cx="1447.9" cy="1467.2" r="0.6" fill="#ffffff" opacity="0.044000000000000004"/><circle cx="1450.3" cy="1467.7" r="0.8" fill="#ffffff" opacity="0.044000000000000004"/><circle cx="1446.8" cy="1469.1" r="0.9" fill="#ffffff" opacity="0.044000000000000004"/><circle cx="1443.8" cy="1463.4" r="0.7" fill="#ffffff" opacity="0.044000000000000004"/><circle cx="1447.8" cy="1466.7" r="0.8" fill="#ffffff" opacity="0.044000000000000004"/><circle cx="1290.0" cy="1516.0" r="7.0" fill="#ffffff" opacity="0.02"/><circle cx="1295.5" cy="1519.5" r="0.6" fill="#ffffff" opacity="0.044000000000000004"/><circle cx="1289.6" cy="1509.9" r="0.8" fill="#ffffff" opacity="0.044000000000000004"/><circle cx="1288.7" cy="1519.7" r="0.8" fill="#ffffff" opacity="0.044000000000000004"/><circle cx="1295.3" cy="1514.8" r="0.7" fill="#ffffff" opacity="0.044000000000000004"/><circle cx="1286.8" cy="1518.7" r="0.8" fill="#ffffff" opacity="0.044000000000000004"/><circle cx="1285.6" cy="1518.1" r="0.8" fill="#ffffff" opacity="0.044000000000000004"/><circle cx="1289.1" cy="1515.0" r="0.6" fill="#ffffff" opacity="0.044000000000000004"/><circle cx="1288.6" cy="1511.2" r="0.8" fill="#ffffff" opacity="0.044000000000000004"/><circle cx="1293.0" cy="1517.0" r="0.7" fill="#ffffff" opacity="0.044000000000000004"/><circle cx="1289.9" cy="1513.1" r="0.8" fill="#ffffff" opacity="0.044000000000000004"/><circle cx="1286.9" cy="1518.0" r="0.8" fill="#ffffff" opacity="0.044000000000000004"/><circle cx="1295.0" cy="1520.0" r="0.6" fill="#ffffff" opacity="0.044000000000000004"/><circle cx="1288.1" cy="1518.3" r="0.7" fill="#ffffff" opacity="0.044000000000000004"/><circle cx="1291.7" cy="1513.4" r="0.7" fill="#ffffff" opacity="0.044000000000000004"/><circle cx="1367.0" cy="1512.0" r="7.0" fill="#ffffff" opacity="0.015"/><circle cx="1371.9" cy="1510.9" r="0.7" fill="#ffffff" opacity="0.033"/><circle cx="1361.2" cy="1511.2" r="0.9" fill="#ffffff" opacity="0.033"/><circle cx="1364.2" cy="1513.5" r="0.6" fill="#ffffff" opacity="0.033"/><circle cx="1371.9" cy="1514.2" r="0.9" fill="#ffffff" opacity="0.033"/><circle cx="1368.5" cy="1517.6" r="0.6" fill="#ffffff" opacity="0.033"/><circle cx="1371.5" cy="1509.9" r="0.7" fill="#ffffff" opacity="0.033"/><circle cx="1369.6" cy="1512.5" r="0.9" fill="#ffffff" opacity="0.033"/><circle cx="1369.0" cy="1516.8" r="0.7" fill="#ffffff" opacity="0.033"/><circle cx="1361.7" cy="1513.9" r="0.6" fill="#ffffff" opacity="0.033"/><circle cx="1366.2" cy="1510.5" r="0.6" fill="#ffffff" opacity="0.033"/><circle cx="1365.7" cy="1509.4" r="0.6" fill="#ffffff" opacity="0.033"/><circle cx="1361.7" cy="1512.1" r="0.5" fill="#ffffff" opacity="0.033"/><circle cx="1364.7" cy="1507.5" r="0.5" fill="#ffffff" opacity="0.033"/><circle cx="1366.8" cy="1511.9" r="0.7" fill="#ffffff" opacity="0.033"/></g></g>
<rect x="170.4" y="1994.3" width="470.4" height="275" fill="url(#g3a)"/>
<g clip-path="url(#c3)"><g filter="url(#soft)"><ellipse cx="190.5" cy="2008.0" rx="7.5" ry="8.8" fill="#ffffff"/><circle cx="196.0" cy="2008.0" r="2.8" fill="#ffffff"/><circle cx="194.8" cy="2011.6" r="2.8" fill="#ffffff"/><circle cx="191.5" cy="2014.1" r="2.6" fill="#ffffff"/><circle cx="188.2" cy="2013.4" r="2.7" fill="#ffffff"/><circle cx="185.0" cy="2009.2" r="2.7" fill="#ffffff"/><circle cx="185.3" cy="2006.2" r="2.4" fill="#ffffff"/><circle cx="188.3" cy="2002.4" r="2.5" fill="#ffffff"/><circle cx="192.4" cy="2002.2" r="2.9" fill="#ffffff"/><circle cx="195.0" cy="2004.0" r="2.7" fill="#ffffff"/><ellipse cx="258.0" cy="2006.7" rx="6.7" ry="7.6" fill="#ffffff"/><circle cx="262.5" cy="2007.6" r="2.6" fill="#ffffff"/><circle cx="262.0" cy="2009.8" r="2.6" fill="#ffffff"/><circle cx="259.1" cy="2012.1" r="2.2" fill="#ffffff"/><circle cx="254.6" cy="2011.2" r="2.2" fill="#ffffff"/><circle cx="253.8" cy="2009.3" r="2.4" fill="#ffffff"/><circle cx="253.8" cy="2004.3" r="2.4" fill="#ffffff"/><circle cx="255.2" cy="2002.5" r="2.1" fill="#ffffff"/><circle cx="258.9" cy="2001.3" r="2.4" fill="#ffffff"/><circle cx="262.1" cy="2004.0" r="2.3" fill="#ffffff"/><circle cx="309.1" cy="2010.1" r="3.2" fill="#ffffff"/><circle cx="314.7" cy="2007.3" r="2.7" fill="#ffffff"/><circle cx="315.5" cy="2011.5" r="2.8" fill="#ffffff"/><circle cx="312.5" cy="2013.8" r="2.6" fill="#ffffff"/><circle cx="307.4" cy="2006.9" r="2.9" fill="#ffffff"/><circle cx="311.0" cy="2005.2" r="3.1" fill="#ffffff"/><circle cx="309.2" cy="2013.4" r="3.0" fill="#ffffff"/><circle cx="312.1" cy="2009.9" r="2.8" fill="#ffffff"/><circle cx="310.8" cy="2007.8" r="2.6" fill="#ffffff"/><circle cx="314.2" cy="2004.8" r="3.4" fill="#ffffff"/><circle cx="315.7" cy="2009.2" r="2.9" fill="#ffffff"/><circle cx="307.1" cy="2010.7" r="3.3" fill="#ffffff"/><circle cx="313.3" cy="2011.8" r="2.8" fill="#ffffff"/><circle cx="371.2" cy="2010.3" r="2.7" fill="#ffffff"/><circle cx="379.8" cy="2010.2" r="2.6" fill="#ffffff"/><circle cx="373.8" cy="2005.5" r="2.8" fill="#ffffff"/><circle cx="377.7" cy="2013.3" r="2.7" fill="#ffffff"/><circle cx="376.2" cy="2009.7" r="2.9" fill="#ffffff"/><circle cx="374.0" cy="2012.4" r="2.9" fill="#ffffff"/><circle cx="377.8" cy="2006.1" r="2.8" fill="#ffffff"/><circle cx="371.1" cy="2007.5" r="2.5" fill="#ffffff"/><circle cx="373.6" cy="2010.1" r="2.5" fill="#ffffff"/><circle cx="375.5" cy="2014.4" r="2.7" fill="#ffffff"/><circle cx="374.8" cy="2007.8" r="3.2" fill="#ffffff"/><circle cx="426.6" cy="2011.2" r="2.8" fill="#ffffff"/><circle cx="431.3" cy="2006.6" r="2.5" fill="#ffffff"/><circle cx="426.7" cy="2006.0" r="2.7" fill="#ffffff"/><circle cx="431.0" cy="2010.2" r="2.6" fill="#ffffff"/><circle cx="424.1" cy="2008.8" r="2.8" fill="#ffffff"/><circle cx="429.9" cy="2015.0" r="2.3" fill="#ffffff"/><circle cx="426.4" cy="2014.5" r="2.6" fill="#ffffff"/><circle cx="434.3" cy="2010.0" r="2.6" fill="#ffffff"/><circle cx="432.7" cy="2014.0" r="2.6" fill="#ffffff"/><circle cx="428.9" cy="2008.3" r="2.4" fill="#ffffff"/><circle cx="429.3" cy="2005.0" r="2.8" fill="#ffffff"/><circle cx="429.0" cy="2011.9" r="2.2" fill="#ffffff"/><circle cx="494.0" cy="2013.2" r="2.5" fill="#ffffff"/><circle cx="490.9" cy="2015.3" r="2.0" fill="#ffffff"/><circle cx="486.5" cy="2010.0" r="2.1" fill="#ffffff"/><circle cx="494.2" cy="2010.0" r="2.5" fill="#ffffff"/><circle cx="488.9" cy="2012.1" r="2.1" fill="#ffffff"/><circle cx="491.1" cy="2010.3" r="2.5" fill="#ffffff"/><circle cx="493.7" cy="2007.3" r="2.1" fill="#ffffff"/><circle cx="487.4" cy="2015.4" r="2.0" fill="#ffffff"/><circle cx="489.7" cy="2007.4" r="2.2" fill="#ffffff"/><circle cx="493.1" cy="2016.0" r="2.1" fill="#ffffff"/><circle cx="550.0" cy="2003.5" r="2.7" fill="#ffffff"/><circle cx="556.0" cy="2000.5" r="3.2" fill="#ffffff"/><circle cx="553.5" cy="2009.5" r="2.9" fill="#ffffff"/><circle cx="551.8" cy="2012.0" r="2.2" fill="#ffffff"/><circle cx="560.5" cy="2008.0" r="3.2" fill="#ffffff"/><circle cx="557.0" cy="2005.0" r="1.9" fill="#ffffff"/><circle cx="560.8" cy="2004.5" r="1.5" fill="#ffffff"/><circle cx="620.8" cy="2006.3" r="3.6" fill="#ffffff"/><circle cx="623.8" cy="2004.2" r="2.6" fill="#ffffff"/><circle cx="617.6" cy="2008.3" r="2.4" fill="#ffffff"/><circle cx="622.5" cy="2009.0" r="2.2" fill="#ffffff"/><circle cx="627.0" cy="2010.3" r="1.4" fill="#ffffff"/><circle cx="622.0" cy="2014.0" r="1.0" fill="#ffffff"/><ellipse cx="186.2" cy="2057.5" rx="7.4" ry="7.4" fill="#ffffff"/><circle cx="191.6" cy="2056.6" r="2.7" fill="#ffffff"/><circle cx="190.7" cy="2061.0" r="2.4" fill="#ffffff"/><circle cx="186.9" cy="2063.1" r="2.2" fill="#ffffff"/><circle cx="184.5" cy="2062.3" r="2.2" fill="#ffffff"/><circle cx="181.5" cy="2059.3" r="2.2" fill="#ffffff"/><circle cx="181.2" cy="2056.1" r="2.6" fill="#ffffff"/><circle cx="182.6" cy="2053.4" r="2.6" fill="#ffffff"/><circle cx="187.5" cy="2052.6" r="2.2" fill="#ffffff"/><circle cx="189.8" cy="2054.2" r="2.7" fill="#ffffff"/><ellipse cx="248.3" cy="2057.5" rx="6.7" ry="6.7" fill="#ffffff"/><circle cx="253.4" cy="2058.0" r="2.3" fill="#ffffff"/><circle cx="251.3" cy="2061.0" r="2.2" fill="#ffffff"/><circle cx="249.2" cy="2062.1" r="2.4" fill="#ffffff"/><circle cx="246.0" cy="2062.2" r="2.1" fill="#ffffff"/><circle cx="243.5" cy="2059.1" r="2.4" fill="#ffffff"/><circle cx="243.4" cy="2056.7" r="2.0" fill="#ffffff"/><circle cx="245.8" cy="2053.7" r="2.3" fill="#ffffff"/><circle cx="248.5" cy="2052.9" r="2.2" fill="#ffffff"/><circle cx="251.9" cy="2054.3" r="2.2" fill="#ffffff"/><circle cx="309.4" cy="2055.3" r="3.1" fill="#ffffff"/><circle cx="311.8" cy="2059.9" r="3.2" fill="#ffffff"/><circle cx="307.9" cy="2060.7" r="2.4" fill="#ffffff"/><circle cx="311.0" cy="2052.4" r="3.0" fill="#ffffff"/><circle cx="306.0" cy="2054.9" r="3.2" fill="#ffffff"/><circle cx="313.8" cy="2055.1" r="2.8" fill="#ffffff"/><circle cx="309.5" cy="2058.4" r="2.8" fill="#ffffff"/><circle cx="308.0" cy="2052.5" r="3.1" fill="#ffffff"/><circle cx="305.5" cy="2058.0" r="2.4" fill="#ffffff"/><circle cx="313.9" cy="2058.0" r="2.5" fill="#ffffff"/><circle cx="311.6" cy="2056.5" r="2.5" fill="#ffffff"/><circle cx="310.3" cy="2056.3" r="1.3" fill="#8a8a8a"/><circle cx="377.5" cy="2054.4" r="2.7" fill="#ffffff"/><circle cx="373.6" cy="2056.2" r="2.3" fill="#ffffff"/><circle cx="373.6" cy="2052.5" r="2.4" fill="#ffffff"/><circle cx="374.6" cy="2060.0" r="2.4" fill="#ffffff"/><circle cx="378.4" cy="2058.8" r="2.7" fill="#ffffff"/><circle cx="370.8" cy="2055.2" r="2.3" fill="#ffffff"/><circle cx="372.2" cy="2058.9" r="3.0" fill="#ffffff"/><circle cx="379.6" cy="2056.3" r="2.5" fill="#ffffff"/><circle cx="375.9" cy="2051.4" r="2.8" fill="#ffffff"/><circle cx="375.9" cy="2057.4" r="2.2" fill="#ffffff"/><circle cx="377.9" cy="2052.1" r="2.4" fill="#ffffff"/><circle cx="431.5" cy="2047.5" r="2.3" fill="#f4f4f4"/><circle cx="434.5" cy="2044.5" r="2.2" fill="#f4f4f4"/><circle cx="437.5" cy="2046.5" r="2.5" fill="#f4f4f4"/><circle cx="440.5" cy="2043.5" r="2.3" fill="#f4f4f4"/><circle cx="442.5" cy="2046.8" r="2.2" fill="#f4f4f4"/><circle cx="436.5" cy="2049.3" r="2.2" fill="#f4f4f4"/><circle cx="440.0" cy="2049.8" r="2.2" fill="#f4f4f4"/><circle cx="433.5" cy="2050.3" r="1.8" fill="#f4f4f4"/><circle cx="438.0" cy="2040.0" r="1.5" fill="#f4f4f4"/><circle cx="430.0" cy="2049.0" r="1.5" fill="#f4f4f4"/><circle cx="490.5" cy="2056.5" r="2.4" fill="#ffffff"/><circle cx="494.5" cy="2053.0" r="3.2" fill="#ffffff"/><circle cx="496.8" cy="2058.0" r="3.2" fill="#ffffff"/><circle cx="494.0" cy="2062.0" r="2.7" fill="#ffffff"/><circle cx="492.5" cy="2065.5" r="1.8" fill="#ffffff"/><circle cx="499.3" cy="2061.8" r="1.6" fill="#ffffff"/><circle cx="497.5" cy="2051.0" r="1.7" fill="#ffffff"/><circle cx="548.0" cy="2057.8" r="3.1" fill="#ffffff"/><circle cx="552.2" cy="2053.0" r="2.7" fill="#ffffff"/><circle cx="624.5" cy="2055.0" r="3.2" fill="#ffffff"/><circle cx="193.3" cy="2115.0" r="7.0" fill="#ffffff" opacity="0.07"/><circle cx="191.0" cy="2119.7" r="0.5" fill="#ffffff" opacity="0.14"/><circle cx="199.3" cy="2114.4" r="0.9" fill="#ffffff" opacity="0.14"/><circle cx="193.1" cy="2118.0" r="0.5" fill="#ffffff" opacity="0.14"/><circle cx="193.7" cy="2116.0" r="0.8" fill="#ffffff" opacity="0.14"/><circle cx="189.3" cy="2119.5" r="0.8" fill="#ffffff" opacity="0.14"/><circle cx="191.7" cy="2117.2" r="0.6" fill="#ffffff" opacity="0.14"/><circle cx="198.6" cy="2116.0" r="0.6" fill="#ffffff" opacity="0.14"/><circle cx="197.0" cy="2120.0" r="0.7" fill="#ffffff" opacity="0.14"/><circle cx="199.5" cy="2112.8" r="0.8" fill="#ffffff" opacity="0.14"/><circle cx="193.3" cy="2117.6" r="0.6" fill="#ffffff" opacity="0.14"/><circle cx="192.9" cy="2110.3" r="0.6" fill="#ffffff" opacity="0.14"/><circle cx="197.2" cy="2115.4" r="0.7" fill="#ffffff" opacity="0.14"/><circle cx="196.3" cy="2116.4" r="0.6" fill="#ffffff" opacity="0.14"/><circle cx="189.3" cy="2117.4" r="0.7" fill="#ffffff" opacity="0.14"/><circle cx="253.3" cy="2105.8" r="7.0" fill="#ffffff" opacity="0.09"/><circle cx="257.9" cy="2108.1" r="0.9" fill="#ffffff" opacity="0.18"/><circle cx="250.6" cy="2109.9" r="0.6" fill="#ffffff" opacity="0.18"/><circle cx="252.9" cy="2100.3" r="0.7" fill="#ffffff" opacity="0.18"/><circle cx="258.8" cy="2105.0" r="0.6" fill="#ffffff" opacity="0.18"/><circle cx="249.4" cy="2109.4" r="0.8" fill="#ffffff" opacity="0.18"/><circle cx="254.3" cy="2111.7" r="0.7" fill="#ffffff" opacity="0.18"/><circle cx="253.6" cy="2103.8" r="0.6" fill="#ffffff" opacity="0.18"/><circle cx="257.6" cy="2106.3" r="0.6" fill="#ffffff" opacity="0.18"/><circle cx="251.5" cy="2108.4" r="0.8" fill="#ffffff" opacity="0.18"/><circle cx="250.7" cy="2102.8" r="0.7" fill="#ffffff" opacity="0.18"/><circle cx="255.9" cy="2111.7" r="0.9" fill="#ffffff" opacity="0.18"/><circle cx="251.0" cy="2104.7" r="0.9" fill="#ffffff" opacity="0.18"/><circle cx="253.6" cy="2107.3" r="0.7" fill="#ffffff" opacity="0.18"/><circle cx="248.9" cy="2110.1" r="0.6" fill="#ffffff" opacity="0.18"/><circle cx="307.5" cy="2110.8" r="6.0" fill="#ffffff" opacity="0.04"/><circle cx="306.7" cy="2114.8" r="0.7" fill="#ffffff" opacity="0.08"/><circle cx="303.3" cy="2111.9" r="0.7" fill="#ffffff" opacity="0.08"/><circle cx="305.0" cy="2110.5" r="0.5" fill="#ffffff" opacity="0.08"/><circle cx="307.3" cy="2115.8" r="0.5" fill="#ffffff" opacity="0.08"/><circle cx="305.3" cy="2113.8" r="0.7" fill="#ffffff" opacity="0.08"/><circle cx="302.7" cy="2112.9" r="0.9" fill="#ffffff" opacity="0.08"/><circle cx="305.2" cy="2109.7" r="0.9" fill="#ffffff" opacity="0.08"/><circle cx="309.9" cy="2107.7" r="0.8" fill="#ffffff" opacity="0.08"/><circle cx="311.7" cy="2107.1" r="0.6" fill="#ffffff" opacity="0.08"/><circle cx="308.5" cy="2115.8" r="0.6" fill="#ffffff" opacity="0.08"/><circle cx="307.3" cy="2112.0" r="0.8" fill="#ffffff" opacity="0.08"/><circle cx="307.7" cy="2113.1" r="0.7" fill="#ffffff" opacity="0.08"/><circle cx="311.9" cy="2113.4" r="0.5" fill="#ffffff" opacity="0.08"/><circle cx="309.5" cy="2110.4" r="0.6" fill="#ffffff" opacity="0.08"/><circle cx="374.2" cy="2110.8" r="6.0" fill="#ffffff" opacity="0.03"/><circle cx="376.8" cy="2107.6" r="0.5" fill="#ffffff" opacity="0.06"/><circle cx="376.5" cy="2113.0" r="0.9" fill="#ffffff" opacity="0.06"/><circle cx="377.3" cy="2109.4" r="0.7" fill="#ffffff" opacity="0.06"/><circle cx="368.9" cy="2112.3" r="0.7" fill="#ffffff" opacity="0.06"/><circle cx="372.6" cy="2114.5" r="0.5" fill="#ffffff" opacity="0.06"/><circle cx="372.2" cy="2110.6" r="0.8" fill="#ffffff" opacity="0.06"/><circle cx="369.0" cy="2112.9" r="0.7" fill="#ffffff" opacity="0.06"/><circle cx="373.5" cy="2116.4" r="0.8" fill="#ffffff" opacity="0.06"/><circle cx="379.8" cy="2110.8" r="0.8" fill="#ffffff" opacity="0.06"/><circle cx="378.0" cy="2108.9" r="0.8" fill="#ffffff" opacity="0.06"/><circle cx="373.5" cy="2107.6" r="0.5" fill="#ffffff" opacity="0.06"/><circle cx="372.2" cy="2105.6" r="0.5" fill="#ffffff" opacity="0.06"/><circle cx="372.8" cy="2107.0" r="0.7" fill="#ffffff" opacity="0.06"/><circle cx="372.8" cy="2106.6" r="0.8" fill="#ffffff" opacity="0.06"/><circle cx="433.3" cy="2108.3" r="6.0" fill="#ffffff" opacity="0.03"/><circle cx="429.7" cy="2109.4" r="0.5" fill="#ffffff" opacity="0.06"/><circle cx="433.8" cy="2103.7" r="0.8" fill="#ffffff" opacity="0.06"/><circle cx="428.7" cy="2109.1" r="0.9" fill="#ffffff" opacity="0.06"/><circle cx="432.1" cy="2105.2" r="0.9" fill="#ffffff" opacity="0.06"/><circle cx="432.6" cy="2109.8" r="0.6" fill="#ffffff" opacity="0.06"/><circle cx="428.0" cy="2108.4" r="0.6" fill="#ffffff" opacity="0.06"/><circle cx="431.7" cy="2105.8" r="0.5" fill="#ffffff" opacity="0.06"/><circle cx="437.6" cy="2107.6" r="0.7" fill="#ffffff" opacity="0.06"/><circle cx="432.4" cy="2106.5" r="0.9" fill="#ffffff" opacity="0.06"/><circle cx="431.5" cy="2113.6" r="0.6" fill="#ffffff" opacity="0.06"/><circle cx="430.2" cy="2109.0" r="0.7" fill="#ffffff" opacity="0.06"/><circle cx="434.5" cy="2108.8" r="0.6" fill="#ffffff" opacity="0.06"/><circle cx="438.1" cy="2110.1" r="0.5" fill="#ffffff" opacity="0.06"/><circle cx="431.8" cy="2112.2" r="0.5" fill="#ffffff" opacity="0.06"/><circle cx="490.0" cy="2115.0" r="6.0" fill="#ffffff" opacity="0.025"/><circle cx="486.2" cy="2119.0" r="0.6" fill="#ffffff" opacity="0.05"/><circle cx="488.9" cy="2118.5" r="0.6" fill="#ffffff" opacity="0.05"/><circle cx="488.3" cy="2120.0" r="0.7" fill="#ffffff" opacity="0.05"/><circle cx="494.5" cy="2117.6" r="0.6" fill="#ffffff" opacity="0.05"/><circle cx="490.3" cy="2113.6" r="0.8" fill="#ffffff" opacity="0.05"/><circle cx="486.3" cy="2112.6" r="0.9" fill="#ffffff" opacity="0.05"/><circle cx="489.9" cy="2111.7" r="0.7" fill="#ffffff" opacity="0.05"/><circle cx="494.2" cy="2116.8" r="0.7" fill="#ffffff" opacity="0.05"/><circle cx="493.7" cy="2117.7" r="0.8" fill="#ffffff" opacity="0.05"/><circle cx="494.1" cy="2117.5" r="0.8" fill="#ffffff" opacity="0.05"/><circle cx="493.8" cy="2118.0" r="0.5" fill="#ffffff" opacity="0.05"/><circle cx="495.1" cy="2115.6" r="0.9" fill="#ffffff" opacity="0.05"/><circle cx="484.4" cy="2115.0" r="0.7" fill="#ffffff" opacity="0.05"/><circle cx="492.8" cy="2112.4" r="0.7" fill="#ffffff" opacity="0.05"/><circle cx="438.0" cy="2109.7" r="1.0" fill="#a0a0a0"/><circle cx="464.2" cy="2083.0" r="0.9" fill="#a0a0a0"/><circle cx="192.8" cy="2155.6" r="3.1" fill="#ffffff"/><circle cx="192.3" cy="2162.7" r="2.7" fill="#ffffff"/><circle cx="188.4" cy="2156.9" r="2.8" fill="#ffffff"/><circle cx="196.7" cy="2159.1" r="2.8" fill="#ffffff"/><circle cx="189.4" cy="2160.4" r="3.2" fill="#ffffff"/><circle cx="193.1" cy="2159.5" r="3.4" fill="#ffffff"/><circle cx="190.3" cy="2154.7" r="3.0" fill="#ffffff"/><circle cx="194.8" cy="2161.8" r="3.6" fill="#ffffff"/><circle cx="195.5" cy="2156.3" r="2.8" fill="#ffffff"/><circle cx="191.1" cy="2157.9" r="3.0" fill="#ffffff"/><circle cx="192.5" cy="2153.6" r="3.3" fill="#ffffff"/><circle cx="187.3" cy="2158.7" r="2.9" fill="#ffffff"/><circle cx="193.9" cy="2157.7" r="3.1" fill="#ffffff"/><circle cx="248.2" cy="2151.4" r="2.5" fill="#ffffff"/><circle cx="251.8" cy="2150.8" r="2.3" fill="#ffffff"/><circle cx="247.3" cy="2156.7" r="2.2" fill="#ffffff"/><circle cx="244.6" cy="2149.0" r="2.5" fill="#ffffff"/><circle cx="244.5" cy="2155.9" r="2.1" fill="#ffffff"/><circle cx="247.6" cy="2147.8" r="2.7" fill="#ffffff"/><circle cx="249.2" cy="2154.3" r="2.7" fill="#ffffff"/><circle cx="242.7" cy="2153.0" r="2.4" fill="#ffffff"/><circle cx="245.8" cy="2153.2" r="2.7" fill="#ffffff"/><circle cx="253.0" cy="2153.6" r="2.2" fill="#ffffff"/><circle cx="250.3" cy="2157.4" r="2.6" fill="#ffffff"/><circle cx="250.0" cy="2148.4" r="2.5" fill="#ffffff"/><circle cx="243.6" cy="2151.0" r="2.3" fill="#ffffff"/><circle cx="297.5" cy="2155.5" r="1.9" fill="#ffffff"/><circle cx="301.0" cy="2153.0" r="2.7" fill="#ffffff"/><circle cx="304.5" cy="2155.0" r="2.9" fill="#ffffff"/><circle cx="308.0" cy="2155.8" r="2.4" fill="#ffffff"/><circle cx="302.0" cy="2158.5" r="2.7" fill="#ffffff"/><circle cx="300.5" cy="2162.5" r="3.2" fill="#ffffff"/><circle cx="304.0" cy="2163.5" r="2.4" fill="#ffffff"/><circle cx="299.0" cy="2165.0" r="1.9" fill="#ffffff"/><circle cx="306.5" cy="2151.8" r="1.6" fill="#ffffff"/><circle cx="362.5" cy="2155.5" r="2.8" fill="#ffffff"/><circle cx="366.5" cy="2152.5" r="3.0" fill="#ffffff"/><circle cx="370.5" cy="2154.5" r="2.7" fill="#ffffff"/><circle cx="373.5" cy="2156.5" r="2.4" fill="#ffffff"/><circle cx="365.5" cy="2159.0" r="2.8" fill="#ffffff"/><circle cx="368.5" cy="2161.5" r="3.0" fill="#ffffff"/><circle cx="366.0" cy="2164.5" r="3.2" fill="#ffffff"/><circle cx="370.0" cy="2165.0" r="2.2" fill="#ffffff"/><circle cx="363.5" cy="2163.0" r="1.7" fill="#ffffff"/><circle cx="428.0" cy="2155.0" r="3.3" fill="#ffffff"/><circle cx="433.0" cy="2153.5" r="3.2" fill="#ffffff"/><circle cx="430.5" cy="2158.5" r="3.0" fill="#ffffff"/><circle cx="434.3" cy="2160.0" r="2.9" fill="#ffffff"/><circle cx="432.5" cy="2165.0" r="3.7" fill="#ffffff"/><circle cx="427.3" cy="2160.5" r="2.1" fill="#ffffff"/><circle cx="430.5" cy="2151.5" r="1.9" fill="#ffffff"/><circle cx="480.3" cy="2164.5" r="2.9" fill="#ffffff"/><circle cx="479.5" cy="2161.3" r="1.8" fill="#ffffff"/><circle cx="490.0" cy="2167.5" r="3.8" fill="#ffffff"/><circle cx="488.3" cy="2161.7" r="2.4" fill="#ffffff"/><circle cx="486.0" cy="2159.8" r="1.4" fill="#ffffff"/><circle cx="538.0" cy="2157.5" r="3.7" fill="#ffffff"/><circle cx="544.7" cy="2165.8" r="3.1" fill="#ffffff"/><circle cx="545.0" cy="2158.3" r="2.5" fill="#ffffff"/><circle cx="543.0" cy="2161.7" r="1.8" fill="#ffffff"/><circle cx="617.5" cy="2163.3" r="4.1" fill="#ffffff"/><circle cx="611.7" cy="2168.0" r="0.9" fill="#ffffff"/><circle cx="297.2" cy="2182.2" r="1.0" fill="#b0b0b0"/><circle cx="226.3" cy="2225.0" r="0.8" fill="#b0b0b0"/><circle cx="221.2" cy="2232.8" r="0.8" fill="#b0b0b0"/><circle cx="613.7" cy="2258.8" r="1.0" fill="#b0b0b0"/><circle cx="541.3" cy="2268.0" r="1.0" fill="#b0b0b0"/><circle cx="196.3" cy="2205.8" r="7.0" fill="#ffffff" opacity="0.1"/><circle cx="198.7" cy="2208.9" r="0.6" fill="#ffffff" opacity="0.22000000000000003"/><circle cx="196.4" cy="2211.3" r="0.6" fill="#ffffff" opacity="0.22000000000000003"/><circle cx="194.5" cy="2208.2" r="0.9" fill="#ffffff" opacity="0.22000000000000003"/><circle cx="192.6" cy="2206.0" r="0.7" fill="#ffffff" opacity="0.22000000000000003"/><circle cx="198.2" cy="2202.2" r="0.8" fill="#ffffff" opacity="0.22000000000000003"/><circle cx="193.8" cy="2208.1" r="0.9" fill="#ffffff" opacity="0.22000000000000003"/><circle cx="202.4" cy="2207.4" r="0.6" fill="#ffffff" opacity="0.22000000000000003"/><circle cx="196.0" cy="2201.3" r="0.5" fill="#ffffff" opacity="0.22000000000000003"/><circle cx="198.2" cy="2206.6" r="0.5" fill="#ffffff" opacity="0.22000000000000003"/><circle cx="197.7" cy="2209.0" r="0.6" fill="#ffffff" opacity="0.22000000000000003"/><circle cx="194.9" cy="2201.5" r="0.6" fill="#ffffff" opacity="0.22000000000000003"/><circle cx="201.6" cy="2206.9" r="0.7" fill="#ffffff" opacity="0.22000000000000003"/><circle cx="198.6" cy="2204.7" r="0.6" fill="#ffffff" opacity="0.22000000000000003"/><circle cx="199.5" cy="2204.4" r="0.9" fill="#ffffff" opacity="0.22000000000000003"/><circle cx="201.1" cy="2205.8" r="0.8" fill="#ffffff" opacity="0.22000000000000003"/><circle cx="199.6" cy="2210.9" r="0.7" fill="#ffffff" opacity="0.22000000000000003"/><circle cx="253.3" cy="2199.2" r="7.5" fill="#ffffff" opacity="0.08"/><circle cx="252.6" cy="2204.4" r="0.8" fill="#ffffff" opacity="0.17600000000000002"/><circle cx="257.5" cy="2198.1" r="0.7" fill="#ffffff" opacity="0.17600000000000002"/><circle cx="249.6" cy="2202.9" r="0.8" fill="#ffffff" opacity="0.17600000000000002"/><circle cx="260.2" cy="2198.9" r="0.9" fill="#ffffff" opacity="0.17600000000000002"/><circle cx="256.6" cy="2200.4" r="0.9" fill="#ffffff" opacity="0.17600000000000002"/><circle cx="250.8" cy="2198.2" r="0.7" fill="#ffffff" opacity="0.17600000000000002"/><circle cx="256.4" cy="2197.8" r="0.6" fill="#ffffff" opacity="0.17600000000000002"/><circle cx="256.6" cy="2205.4" r="0.6" fill="#ffffff" opacity="0.17600000000000002"/><circle cx="253.2" cy="2201.2" r="0.5" fill="#ffffff" opacity="0.17600000000000002"/><circle cx="253.7" cy="2199.2" r="0.7" fill="#ffffff" opacity="0.17600000000000002"/><circle cx="252.0" cy="2203.3" r="0.7" fill="#ffffff" opacity="0.17600000000000002"/><circle cx="250.9" cy="2204.8" r="0.6" fill="#ffffff" opacity="0.17600000000000002"/><circle cx="249.0" cy="2199.3" r="0.8" fill="#ffffff" opacity="0.17600000000000002"/><circle cx="249.7" cy="2200.3" r="0.9" fill="#ffffff" opacity="0.17600000000000002"/><circle cx="254.1" cy="2195.1" r="0.8" fill="#ffffff" opacity="0.17600000000000002"/><circle cx="251.9" cy="2199.2" r="0.6" fill="#ffffff" opacity="0.17600000000000002"/><circle cx="303.7" cy="2207.5" r="6.5" fill="#ffffff" opacity="0.06"/><circle cx="299.5" cy="2207.3" r="0.7" fill="#ffffff" opacity="0.132"/><circle cx="299.5" cy="2211.3" r="0.6" fill="#ffffff" opacity="0.132"/><circle cx="298.6" cy="2209.2" r="0.7" fill="#ffffff" opacity="0.132"/><circle cx="306.5" cy="2205.7" r="0.6" fill="#ffffff" opacity="0.132"/><circle cx="302.9" cy="2209.6" r="0.5" fill="#ffffff" opacity="0.132"/><circle cx="300.3" cy="2207.2" r="0.7" fill="#ffffff" opacity="0.132"/><circle cx="309.7" cy="2206.0" r="0.8" fill="#ffffff" opacity="0.132"/><circle cx="301.8" cy="2210.8" r="0.9" fill="#ffffff" opacity="0.132"/><circle cx="304.3" cy="2213.1" r="0.6" fill="#ffffff" opacity="0.132"/><circle cx="299.3" cy="2209.0" r="0.9" fill="#ffffff" opacity="0.132"/><circle cx="303.0" cy="2201.9" r="0.6" fill="#ffffff" opacity="0.132"/><circle cx="300.3" cy="2212.2" r="0.7" fill="#ffffff" opacity="0.132"/><circle cx="303.3" cy="2205.6" r="0.5" fill="#ffffff" opacity="0.132"/><circle cx="300.6" cy="2209.0" r="0.6" fill="#ffffff" opacity="0.132"/><circle cx="306.1" cy="2202.1" r="0.6" fill="#ffffff" opacity="0.132"/><circle cx="305.9" cy="2209.1" r="0.6" fill="#ffffff" opacity="0.132"/><circle cx="371.7" cy="2210.0" r="7.0" fill="#ffffff" opacity="0.035"/><circle cx="374.6" cy="2213.7" r="0.7" fill="#ffffff" opacity="0.07700000000000001"/><circle cx="377.6" cy="2208.8" r="0.8" fill="#ffffff" opacity="0.07700000000000001"/><circle cx="370.6" cy="2207.6" r="0.9" fill="#ffffff" opacity="0.07700000000000001"/><circle cx="367.1" cy="2212.1" r="0.5" fill="#ffffff" opacity="0.07700000000000001"/><circle cx="369.6" cy="2215.7" r="0.5" fill="#ffffff" opacity="0.07700000000000001"/><circle cx="375.0" cy="2211.9" r="0.6" fill="#ffffff" opacity="0.07700000000000001"/><circle cx="367.1" cy="2210.3" r="0.6" fill="#ffffff" opacity="0.07700000000000001"/><circle cx="375.7" cy="2210.0" r="0.6" fill="#ffffff" opacity="0.07700000000000001"/><circle cx="366.9" cy="2208.8" r="0.8" fill="#ffffff" opacity="0.07700000000000001"/><circle cx="367.9" cy="2211.5" r="0.8" fill="#ffffff" opacity="0.07700000000000001"/><circle cx="376.2" cy="2207.0" r="0.5" fill="#ffffff" opacity="0.07700000000000001"/><circle cx="369.7" cy="2216.2" r="0.9" fill="#ffffff" opacity="0.07700000000000001"/><circle cx="370.8" cy="2212.9" r="0.5" fill="#ffffff" opacity="0.07700000000000001"/><circle cx="373.0" cy="2211.3" r="0.9" fill="#ffffff" opacity="0.07700000000000001"/><circle cx="375.3" cy="2208.7" r="0.5" fill="#ffffff" opacity="0.07700000000000001"/><circle cx="376.2" cy="2207.4" r="0.9" fill="#ffffff" opacity="0.07700000000000001"/><circle cx="430.0" cy="2205.0" r="6.5" fill="#ffffff" opacity="0.03"/><circle cx="424.3" cy="2205.1" r="0.5" fill="#ffffff" opacity="0.066"/><circle cx="429.0" cy="2205.9" r="0.8" fill="#ffffff" opacity="0.066"/><circle cx="431.3" cy="2208.2" r="0.8" fill="#ffffff" opacity="0.066"/><circle cx="432.3" cy="2205.8" r="0.6" fill="#ffffff" opacity="0.066"/><circle cx="431.6" cy="2201.1" r="0.8" fill="#ffffff" opacity="0.066"/><circle cx="432.4" cy="2203.3" r="0.7" fill="#ffffff" opacity="0.066"/><circle cx="432.7" cy="2209.7" r="0.5" fill="#ffffff" opacity="0.066"/><circle cx="430.2" cy="2201.4" r="0.7" fill="#ffffff" opacity="0.066"/><circle cx="432.3" cy="2210.5" r="0.6" fill="#ffffff" opacity="0.066"/><circle cx="424.3" cy="2206.7" r="0.7" fill="#ffffff" opacity="0.066"/><circle cx="428.7" cy="2207.7" r="0.9" fill="#ffffff" opacity="0.066"/><circle cx="429.0" cy="2200.2" r="0.7" fill="#ffffff" opacity="0.066"/><circle cx="431.9" cy="2204.0" r="0.6" fill="#ffffff" opacity="0.066"/><circle cx="431.9" cy="2200.4" r="0.7" fill="#ffffff" opacity="0.066"/><circle cx="427.7" cy="2201.5" r="0.7" fill="#ffffff" opacity="0.066"/><circle cx="424.6" cy="2207.6" r="0.6" fill="#ffffff" opacity="0.066"/><circle cx="486.7" cy="2213.0" r="6.0" fill="#ffffff" opacity="0.02"/><circle cx="486.1" cy="2207.6" r="0.5" fill="#ffffff" opacity="0.044000000000000004"/><circle cx="492.4" cy="2213.2" r="0.6" fill="#ffffff" opacity="0.044000000000000004"/><circle cx="488.0" cy="2216.8" r="0.7" fill="#ffffff" opacity="0.044000000000000004"/><circle cx="486.4" cy="2208.6" r="0.7" fill="#ffffff" opacity="0.044000000000000004"/><circle cx="486.8" cy="2210.1" r="0.7" fill="#ffffff" opacity="0.044000000000000004"/><circle cx="490.5" cy="2209.9" r="0.7" fill="#ffffff" opacity="0.044000000000000004"/><circle cx="490.6" cy="2216.9" r="0.5" fill="#ffffff" opacity="0.044000000000000004"/><circle cx="487.5" cy="2211.0" r="0.7" fill="#ffffff" opacity="0.044000000000000004"/><circle cx="485.1" cy="2209.1" r="0.5" fill="#ffffff" opacity="0.044000000000000004"/><circle cx="487.8" cy="2216.5" r="0.6" fill="#ffffff" opacity="0.044000000000000004"/><circle cx="488.2" cy="2214.3" r="0.8" fill="#ffffff" opacity="0.044000000000000004"/><circle cx="483.0" cy="2211.9" r="0.5" fill="#ffffff" opacity="0.044000000000000004"/><circle cx="487.1" cy="2207.3" r="0.8" fill="#ffffff" opacity="0.044000000000000004"/><circle cx="481.9" cy="2213.6" r="0.8" fill="#ffffff" opacity="0.044000000000000004"/><circle cx="489.5" cy="2216.2" r="0.7" fill="#ffffff" opacity="0.044000000000000004"/><circle cx="487.8" cy="2215.7" r="0.6" fill="#ffffff" opacity="0.044000000000000004"/><circle cx="197.0" cy="2250.0" r="7.0" fill="#ffffff" opacity="0.05"/><circle cx="198.6" cy="2255.0" r="0.5" fill="#ffffff" opacity="0.11000000000000001"/><circle cx="199.4" cy="2248.4" r="0.7" fill="#ffffff" opacity="0.11000000000000001"/><circle cx="197.8" cy="2243.7" r="0.7" fill="#ffffff" opacity="0.11000000000000001"/><circle cx="195.0" cy="2245.6" r="0.8" fill="#ffffff" opacity="0.11000000000000001"/><circle cx="197.9" cy="2255.4" r="0.7" fill="#ffffff" opacity="0.11000000000000001"/><circle cx="192.7" cy="2250.9" r="0.5" fill="#ffffff" opacity="0.11000000000000001"/><circle cx="193.0" cy="2248.3" r="0.7" fill="#ffffff" opacity="0.11000000000000001"/><circle cx="190.9" cy="2251.9" r="0.8" fill="#ffffff" opacity="0.11000000000000001"/><circle cx="195.1" cy="2247.5" r="0.7" fill="#ffffff" opacity="0.11000000000000001"/><circle cx="200.7" cy="2248.7" r="0.6" fill="#ffffff" opacity="0.11000000000000001"/><circle cx="195.1" cy="2251.7" r="0.8" fill="#ffffff" opacity="0.11000000000000001"/><circle cx="195.5" cy="2247.2" r="0.9" fill="#ffffff" opacity="0.11000000000000001"/><circle cx="193.3" cy="2251.0" r="0.9" fill="#ffffff" opacity="0.11000000000000001"/><circle cx="198.8" cy="2252.9" r="0.7" fill="#ffffff" opacity="0.11000000000000001"/><circle cx="199.6" cy="2247.0" r="0.7" fill="#ffffff" opacity="0.11000000000000001"/><circle cx="198.6" cy="2252.9" r="0.6" fill="#ffffff" opacity="0.11000000000000001"/><circle cx="249.2" cy="2245.3" r="7.0" fill="#ffffff" opacity="0.05"/><circle cx="249.5" cy="2244.2" r="0.8" fill="#ffffff" opacity="0.11000000000000001"/><circle cx="248.9" cy="2246.0" r="0.5" fill="#ffffff" opacity="0.11000000000000001"/><circle cx="243.9" cy="2245.2" r="0.8" fill="#ffffff" opacity="0.11000000000000001"/><circle cx="250.1" cy="2243.4" r="0.8" fill="#ffffff" opacity="0.11000000000000001"/><circle cx="254.2" cy="2248.7" r="0.7" fill="#ffffff" opacity="0.11000000000000001"/><circle cx="244.1" cy="2242.5" r="0.6" fill="#ffffff" opacity="0.11000000000000001"/><circle cx="255.0" cy="2247.7" r="0.6" fill="#ffffff" opacity="0.11000000000000001"/><circle cx="248.8" cy="2247.2" r="0.7" fill="#ffffff" opacity="0.11000000000000001"/><circle cx="247.9" cy="2249.7" r="0.9" fill="#ffffff" opacity="0.11000000000000001"/><circle cx="244.9" cy="2245.5" r="0.8" fill="#ffffff" opacity="0.11000000000000001"/><circle cx="248.1" cy="2242.5" r="0.8" fill="#ffffff" opacity="0.11000000000000001"/><circle cx="250.1" cy="2242.1" r="0.7" fill="#ffffff" opacity="0.11000000000000001"/><circle cx="246.8" cy="2242.1" r="0.8" fill="#ffffff" opacity="0.11000000000000001"/><circle cx="245.9" cy="2242.4" r="0.8" fill="#ffffff" opacity="0.11000000000000001"/><circle cx="252.0" cy="2250.1" r="0.8" fill="#ffffff" opacity="0.11000000000000001"/><circle cx="246.1" cy="2239.8" r="0.8" fill="#ffffff" opacity="0.11000000000000001"/><circle cx="303.3" cy="2250.8" r="6.5" fill="#ffffff" opacity="0.04"/><circle cx="304.9" cy="2252.9" r="0.8" fill="#ffffff" opacity="0.08800000000000001"/><circle cx="300.1" cy="2250.0" r="0.6" fill="#ffffff" opacity="0.08800000000000001"/><circle cx="299.9" cy="2249.8" r="0.8" fill="#ffffff" opacity="0.08800000000000001"/><circle cx="306.0" cy="2253.4" r="0.6" fill="#ffffff" opacity="0.08800000000000001"/><circle cx="303.5" cy="2245.2" r="0.7" fill="#ffffff" opacity="0.08800000000000001"/><circle cx="304.6" cy="2249.8" r="0.8" fill="#ffffff" opacity="0.08800000000000001"/><circle cx="303.3" cy="2253.5" r="0.7" fill="#ffffff" opacity="0.08800000000000001"/><circle cx="304.2" cy="2251.3" r="0.6" fill="#ffffff" opacity="0.08800000000000001"/><circle cx="299.2" cy="2248.0" r="0.8" fill="#ffffff" opacity="0.08800000000000001"/><circle cx="301.1" cy="2255.3" r="0.9" fill="#ffffff" opacity="0.08800000000000001"/><circle cx="306.0" cy="2250.0" r="0.6" fill="#ffffff" opacity="0.08800000000000001"/><circle cx="304.9" cy="2255.3" r="0.7" fill="#ffffff" opacity="0.08800000000000001"/><circle cx="300.3" cy="2249.2" r="0.9" fill="#ffffff" opacity="0.08800000000000001"/><circle cx="308.2" cy="2254.6" r="0.8" fill="#ffffff" opacity="0.08800000000000001"/><circle cx="303.4" cy="2245.9" r="0.9" fill="#ffffff" opacity="0.08800000000000001"/><circle cx="297.4" cy="2251.8" r="0.9" fill="#ffffff" opacity="0.08800000000000001"/><circle cx="370.0" cy="2251.7" r="6.0" fill="#ffffff" opacity="0.03"/><circle cx="368.0" cy="2253.2" r="0.9" fill="#ffffff" opacity="0.066"/><circle cx="367.1" cy="2248.8" r="0.8" fill="#ffffff" opacity="0.066"/><circle cx="372.8" cy="2247.9" r="0.6" fill="#ffffff" opacity="0.066"/><circle cx="372.0" cy="2251.6" r="0.6" fill="#ffffff" opacity="0.066"/><circle cx="371.7" cy="2254.9" r="0.8" fill="#ffffff" opacity="0.066"/><circle cx="371.5" cy="2253.5" r="0.7" fill="#ffffff" opacity="0.066"/><circle cx="370.9" cy="2250.6" r="0.9" fill="#ffffff" opacity="0.066"/><circle cx="370.1" cy="2257.0" r="0.6" fill="#ffffff" opacity="0.066"/><circle cx="375.0" cy="2249.0" r="0.9" fill="#ffffff" opacity="0.066"/><circle cx="366.7" cy="2247.2" r="0.8" fill="#ffffff" opacity="0.066"/><circle cx="374.0" cy="2252.3" r="0.7" fill="#ffffff" opacity="0.066"/><circle cx="367.0" cy="2254.4" r="0.7" fill="#ffffff" opacity="0.066"/><circle cx="368.4" cy="2253.1" r="0.7" fill="#ffffff" opacity="0.066"/><circle cx="368.0" cy="2256.6" r="0.5" fill="#ffffff" opacity="0.066"/><circle cx="372.8" cy="2254.8" r="0.5" fill="#ffffff" opacity="0.066"/><circle cx="368.9" cy="2256.4" r="0.9" fill="#ffffff" opacity="0.066"/><circle cx="303.0" cy="2209.3" r="0.9" fill="#e8e8e8"/></g></g>
<rect x="1027" y="1994.4" width="471" height="275" fill="url(#g4a)"/>
<rect x="1027" y="1994.4" width="471" height="275" fill="url(#g4b)"/>
<g clip-path="url(#c4)"><g filter="url(#soft)"><circle cx="1042.2" cy="2021.3" r="7.7" fill="#f2f2f2" opacity="0.95"/><circle cx="1044.8" cy="2022.8" r="1.3" fill="#ffffff"/><circle cx="1045.9" cy="2027.2" r="1.4" fill="#ffffff"/><circle cx="1042.0" cy="2016.4" r="1.4" fill="#ffffff"/><circle cx="1042.4" cy="2026.9" r="1.1" fill="#ffffff"/><circle cx="1035.2" cy="2021.7" r="1.0" fill="#ffffff"/><circle cx="1042.4" cy="2015.0" r="0.9" fill="#ffffff"/><circle cx="1047.0" cy="2021.1" r="1.2" fill="#ffffff"/><circle cx="1040.5" cy="2026.4" r="1.5" fill="#ffffff"/><circle cx="1038.6" cy="2026.3" r="1.4" fill="#ffffff"/><circle cx="1046.2" cy="2016.9" r="1.2" fill="#ffffff"/><circle cx="1039.8" cy="2025.1" r="1.1" fill="#ffffff"/><circle cx="1047.1" cy="2017.0" r="1.0" fill="#ffffff"/><circle cx="1042.1" cy="2022.8" r="1.5" fill="#ffffff"/><circle cx="1046.4" cy="2022.9" r="1.0" fill="#ffffff"/><circle cx="1044.5" cy="2027.9" r="1.2" fill="#ffffff"/><circle cx="1037.8" cy="2016.4" r="1.2" fill="#ffffff"/><circle cx="1044.9" cy="2015.6" r="1.3" fill="#ffffff"/><circle cx="1036.0" cy="2018.7" r="1.3" fill="#ffffff"/><circle cx="1038.5" cy="2027.0" r="1.4" fill="#ffffff"/><circle cx="1047.8" cy="2019.5" r="1.2" fill="#ffffff"/><circle cx="1038.8" cy="2025.8" r="1.0" fill="#ffffff"/><circle cx="1041.4" cy="2015.3" r="1.5" fill="#ffffff"/><circle cx="1043.3" cy="2026.7" r="1.2" fill="#ffffff"/><circle cx="1038.5" cy="2018.6" r="0.8" fill="#ffffff"/><circle cx="1048.3" cy="2018.3" r="1.0" fill="#ffffff"/><circle cx="1046.9" cy="2018.4" r="0.8" fill="#ffffff"/><circle cx="1039.6" cy="2018.3" r="1.1" fill="#ffffff"/><circle cx="1047.4" cy="2025.3" r="1.3" fill="#ffffff"/><circle cx="1042.8" cy="2026.7" r="1.1" fill="#ffffff"/><circle cx="1045.5" cy="2021.0" r="1.3" fill="#ffffff"/><circle cx="1044.2" cy="2014.8" r="1.0" fill="#ffffff"/><circle cx="1044.2" cy="2019.0" r="0.9" fill="#ffffff"/><circle cx="1037.2" cy="2016.7" r="1.1" fill="#ffffff"/><circle cx="1043.2" cy="2023.3" r="1.1" fill="#ffffff"/><circle cx="1046.1" cy="2017.1" r="1.2" fill="#ffffff"/><circle cx="1039.0" cy="2020.8" r="1.0" fill="#ffffff"/><circle cx="1040.0" cy="2019.0" r="0.9" fill="#7a7a7a"/><circle cx="1044.5" cy="2023.5" r="0.8" fill="#7a7a7a"/><circle cx="1041.0" cy="2025.0" r="0.8" fill="#7a7a7a"/><circle cx="1045.0" cy="2018.0" r="0.7" fill="#7a7a7a"/><circle cx="1098.8" cy="2018.0" r="7.6" fill="#e4e4e4" opacity="0.9"/><circle cx="1094.1" cy="2020.6" r="1.2" fill="#fbfbfb"/><circle cx="1093.4" cy="2014.6" r="1.5" fill="#fbfbfb"/><circle cx="1095.8" cy="2012.3" r="1.3" fill="#fbfbfb"/><circle cx="1092.3" cy="2019.2" r="1.6" fill="#fbfbfb"/><circle cx="1093.7" cy="2015.5" r="0.9" fill="#fbfbfb"/><circle cx="1102.5" cy="2013.6" r="1.3" fill="#fbfbfb"/><circle cx="1101.6" cy="2022.7" r="1.3" fill="#fbfbfb"/><circle cx="1101.3" cy="2021.8" r="1.4" fill="#fbfbfb"/><circle cx="1099.9" cy="2012.0" r="1.3" fill="#fbfbfb"/><circle cx="1104.9" cy="2016.1" r="0.9" fill="#fbfbfb"/><circle cx="1097.9" cy="2019.0" r="1.5" fill="#fbfbfb"/><circle cx="1097.5" cy="2014.9" r="1.0" fill="#fbfbfb"/><circle cx="1099.6" cy="2023.5" r="1.2" fill="#fbfbfb"/><circle cx="1104.6" cy="2018.2" r="1.0" fill="#fbfbfb"/><circle cx="1097.1" cy="2025.0" r="1.5" fill="#fbfbfb"/><circle cx="1103.6" cy="2013.2" r="1.2" fill="#fbfbfb"/><circle cx="1102.9" cy="2019.5" r="1.3" fill="#fbfbfb"/><circle cx="1102.5" cy="2016.3" r="0.9" fill="#fbfbfb"/><circle cx="1104.6" cy="2016.3" r="1.4" fill="#fbfbfb"/><circle cx="1094.9" cy="2018.3" r="1.1" fill="#fbfbfb"/><circle cx="1101.6" cy="2021.3" r="1.2" fill="#fbfbfb"/><circle cx="1105.7" cy="2016.4" r="1.2" fill="#fbfbfb"/><circle cx="1100.4" cy="2024.9" r="0.8" fill="#fbfbfb"/><circle cx="1104.1" cy="2020.6" r="1.3" fill="#fbfbfb"/><circle cx="1104.7" cy="2017.4" r="1.4" fill="#fbfbfb"/><circle cx="1104.0" cy="2013.3" r="1.5" fill="#fbfbfb"/><circle cx="1093.1" cy="2017.7" r="1.4" fill="#fbfbfb"/><circle cx="1103.9" cy="2018.8" r="1.1" fill="#fbfbfb"/><circle cx="1099.5" cy="2014.9" r="1.4" fill="#fbfbfb"/><circle cx="1099.6" cy="2022.8" r="1.2" fill="#fbfbfb"/><circle cx="1096.5" cy="2023.6" r="1.4" fill="#fbfbfb"/><circle cx="1103.4" cy="2017.8" r="1.5" fill="#fbfbfb"/><circle cx="1093.6" cy="2014.3" r="1.0" fill="#fbfbfb"/><circle cx="1092.8" cy="2019.8" r="1.3" fill="#fbfbfb"/><circle cx="1096.5" cy="2016.0" r="1.0" fill="#7a7a7a"/><circle cx="1101.0" cy="2019.5" r="0.9" fill="#7a7a7a"/><circle cx="1098.0" cy="2021.5" r="0.9" fill="#7a7a7a"/><circle cx="1102.0" cy="2015.0" r="0.8" fill="#7a7a7a"/><circle cx="1159.0" cy="2014.0" r="16.0" fill="#ffffff" opacity="0.06"/><circle cx="1168.0" cy="2008.5" r="1.5" fill="#f4f4f4"/><circle cx="1157.2" cy="1999.5" r="0.7" fill="#f4f4f4"/><circle cx="1155.9" cy="2019.8" r="0.7" fill="#f4f4f4"/><circle cx="1162.1" cy="2002.5" r="1.5" fill="#f4f4f4"/><circle cx="1154.9" cy="2012.7" r="1.5" fill="#f4f4f4"/><circle cx="1164.1" cy="2005.7" r="0.7" fill="#f4f4f4"/><circle cx="1152.5" cy="2002.7" r="1.8" fill="#f4f4f4"/><circle cx="1161.3" cy="2021.9" r="1.8" fill="#f4f4f4"/><circle cx="1165.2" cy="2014.4" r="1.0" fill="#f4f4f4"/><circle cx="1152.6" cy="2009.2" r="1.2" fill="#f4f4f4"/><circle cx="1162.7" cy="2012.5" r="0.8" fill="#f4f4f4"/><circle cx="1149.5" cy="2006.3" r="0.7" fill="#f4f4f4"/><circle cx="1170.3" cy="2021.4" r="0.7" fill="#f4f4f4"/><circle cx="1163.1" cy="2028.2" r="1.5" fill="#f4f4f4"/><circle cx="1153.4" cy="2020.6" r="1.8" fill="#f4f4f4"/><circle cx="1169.2" cy="2011.8" r="0.8" fill="#f4f4f4"/><circle cx="1155.5" cy="2003.4" r="1.8" fill="#f4f4f4"/><circle cx="1155.5" cy="2013.4" r="1.8" fill="#f4f4f4"/><circle cx="1159.1" cy="2030.0" r="1.0" fill="#f4f4f4"/><circle cx="1151.7" cy="2007.1" r="1.0" fill="#f4f4f4"/><circle cx="1157.3" cy="2013.7" r="1.5" fill="#f4f4f4"/><circle cx="1172.6" cy="2020.6" r="1.5" fill="#f4f4f4"/><circle cx="1160.9" cy="2013.8" r="1.5" fill="#f4f4f4"/><circle cx="1147.6" cy="2022.6" r="0.8" fill="#f4f4f4"/><circle cx="1146.4" cy="2013.3" r="1.8" fill="#f4f4f4"/><circle cx="1167.1" cy="2001.2" r="1.0" fill="#f4f4f4"/><circle cx="1157.5" cy="2012.1" r="0.7" fill="#f4f4f4"/><circle cx="1165.6" cy="2025.6" r="1.8" fill="#f4f4f4"/><circle cx="1166.1" cy="2014.2" r="0.7" fill="#f4f4f4"/><circle cx="1148.9" cy="2011.6" r="1.8" fill="#f4f4f4"/><circle cx="1168.2" cy="2010.9" r="1.0" fill="#f4f4f4"/><circle cx="1151.6" cy="2009.6" r="0.8" fill="#f4f4f4"/><circle cx="1162.3" cy="2014.8" r="1.8" fill="#f4f4f4"/><circle cx="1150.1" cy="2025.0" r="0.8" fill="#f4f4f4"/><circle cx="1154.5" cy="2029.8" r="1.7" fill="#ffffff"/><circle cx="1161.5" cy="2004.0" r="2.0" fill="#ffffff"/><circle cx="1163.0" cy="2018.5" r="1.9" fill="#ffffff"/><circle cx="1168.0" cy="2017.0" r="1.7" fill="#ffffff"/><circle cx="1157.5" cy="2010.0" r="1.6" fill="#ffffff"/><circle cx="1153.0" cy="2024.5" r="1.6" fill="#ffffff"/><circle cx="1173.0" cy="2005.0" r="1.5" fill="#ffffff"/><circle cx="1159.5" cy="1997.0" r="1.3" fill="#ffffff"/><circle cx="1148.0" cy="2014.0" r="1.4" fill="#ffffff"/><circle cx="1213.0" cy="2014.5" r="2.0" fill="#f6f6f6"/><circle cx="1216.0" cy="2016.5" r="2.2" fill="#f6f6f6"/><circle cx="1221.0" cy="2020.8" r="2.2" fill="#f6f6f6"/><circle cx="1218.5" cy="2017.3" r="1.5" fill="#f6f6f6"/><circle cx="1214.0" cy="2019.5" r="1.2" fill="#f6f6f6"/><circle cx="1219.5" cy="2023.5" r="1.1" fill="#f6f6f6"/><circle cx="1215.5" cy="2024.5" r="0.9" fill="#f6f6f6"/><circle cx="1222.5" cy="2016.0" r="1.0" fill="#f6f6f6"/><circle cx="1280.2" cy="2023.0" r="2.2" fill="#ffffff"/><circle cx="1294.7" cy="2021.3" r="2.5" fill="#ffffff"/><circle cx="1286.8" cy="2026.2" r="1.4" fill="#ffffff"/><circle cx="1277.5" cy="2023.8" r="1.6" fill="#ffffff"/><circle cx="1282.5" cy="2019.5" r="1.0" fill="#ffffff"/><circle cx="1353.0" cy="2022.0" r="2.0" fill="#ffffff"/><circle cx="1357.2" cy="2025.8" r="1.7" fill="#ffffff"/><circle cx="1354.5" cy="2016.5" r="0.8" fill="#ffffff"/><circle cx="1468.2" cy="2020.3" r="3.2" fill="#ffffff"/><circle cx="1415.0" cy="2018.0" r="5.0" fill="#ffffff" opacity="0.02"/><circle cx="1413.4" cy="2017.5" r="0.6" fill="#ffffff" opacity="0.12"/><circle cx="1414.4" cy="2018.3" r="0.7" fill="#ffffff" opacity="0.12"/><circle cx="1418.0" cy="2017.1" r="0.8" fill="#ffffff" opacity="0.12"/><circle cx="1415.7" cy="2017.8" r="0.5" fill="#ffffff" opacity="0.12"/><circle cx="1410.7" cy="2019.8" r="0.7" fill="#ffffff" opacity="0.12"/><circle cx="1416.1" cy="2014.3" r="0.5" fill="#ffffff" opacity="0.12"/><circle cx="1411.3" cy="2018.8" r="0.6" fill="#ffffff" opacity="0.12"/><circle cx="1417.6" cy="2020.9" r="0.6" fill="#ffffff" opacity="0.12"/><ellipse cx="1044.2" cy="2069.5" rx="8.2" ry="8.2" fill="#ffffff"/><circle cx="1050.1" cy="2070.1" r="3.0" fill="#ffffff"/><circle cx="1048.9" cy="2073.6" r="2.4" fill="#ffffff"/><circle cx="1045.2" cy="2075.0" r="2.4" fill="#ffffff"/><circle cx="1042.2" cy="2074.8" r="2.5" fill="#ffffff"/><circle cx="1038.6" cy="2071.4" r="2.5" fill="#ffffff"/><circle cx="1038.9" cy="2067.2" r="2.8" fill="#ffffff"/><circle cx="1041.2" cy="2064.8" r="2.5" fill="#ffffff"/><circle cx="1046.3" cy="2063.9" r="2.7" fill="#ffffff"/><circle cx="1048.9" cy="2065.9" r="2.5" fill="#ffffff"/><ellipse cx="1094.5" cy="2067.8" rx="8.4" ry="8.4" fill="#ffffff"/><circle cx="1100.9" cy="2067.5" r="2.7" fill="#ffffff"/><circle cx="1099.8" cy="2071.3" r="2.9" fill="#ffffff"/><circle cx="1095.0" cy="2073.4" r="2.7" fill="#ffffff"/><circle cx="1092.0" cy="2073.1" r="2.7" fill="#ffffff"/><circle cx="1089.0" cy="2070.4" r="2.5" fill="#ffffff"/><circle cx="1088.5" cy="2065.4" r="2.8" fill="#ffffff"/><circle cx="1091.0" cy="2062.6" r="2.7" fill="#ffffff"/><circle cx="1096.6" cy="2061.7" r="3.0" fill="#ffffff"/><circle cx="1098.8" cy="2064.2" r="2.5" fill="#ffffff"/><ellipse cx="1155.3" cy="2061.3" rx="8.4" ry="8.4" fill="#ffffff"/><circle cx="1161.6" cy="2060.5" r="2.7" fill="#ffffff"/><circle cx="1159.6" cy="2066.0" r="2.8" fill="#ffffff"/><circle cx="1156.2" cy="2066.9" r="3.0" fill="#ffffff"/><circle cx="1151.7" cy="2066.0" r="2.5" fill="#ffffff"/><circle cx="1149.5" cy="2063.6" r="3.0" fill="#ffffff"/><circle cx="1149.6" cy="2059.9" r="2.6" fill="#ffffff"/><circle cx="1152.2" cy="2056.4" r="3.0" fill="#ffffff"/><circle cx="1155.7" cy="2055.2" r="2.5" fill="#ffffff"/><circle cx="1160.0" cy="2058.1" r="2.5" fill="#ffffff"/><ellipse cx="1218.3" cy="2069.2" rx="8.0" ry="8.0" fill="#ffffff"/><circle cx="1224.3" cy="2068.9" r="2.5" fill="#ffffff"/><circle cx="1223.3" cy="2072.1" r="2.8" fill="#ffffff"/><circle cx="1218.9" cy="2074.6" r="2.6" fill="#ffffff"/><circle cx="1216.2" cy="2074.1" r="2.9" fill="#ffffff"/><circle cx="1212.9" cy="2070.7" r="2.8" fill="#ffffff"/><circle cx="1213.5" cy="2066.8" r="2.5" fill="#ffffff"/><circle cx="1215.3" cy="2064.8" r="2.8" fill="#ffffff"/><circle cx="1220.1" cy="2063.8" r="2.8" fill="#ffffff"/><circle cx="1222.7" cy="2065.6" r="2.7" fill="#ffffff"/><ellipse cx="1286.5" cy="2073.0" rx="7.9" ry="7.9" fill="#ffffff"/><circle cx="1291.9" cy="2072.8" r="2.4" fill="#ffffff"/><circle cx="1291.4" cy="2076.3" r="2.4" fill="#ffffff"/><circle cx="1287.8" cy="2078.7" r="2.6" fill="#ffffff"/><circle cx="1282.8" cy="2077.3" r="2.5" fill="#ffffff"/><circle cx="1281.3" cy="2074.6" r="2.8" fill="#ffffff"/><circle cx="1281.2" cy="2071.4" r="2.7" fill="#ffffff"/><circle cx="1282.9" cy="2068.4" r="2.8" fill="#ffffff"/><circle cx="1287.2" cy="2067.0" r="2.6" fill="#ffffff"/><circle cx="1291.2" cy="2069.9" r="2.5" fill="#ffffff"/><circle cx="1353.0" cy="2070.9" r="3.1" fill="#ffffff"/><circle cx="1351.5" cy="2064.3" r="3.1" fill="#ffffff"/><circle cx="1346.7" cy="2066.7" r="3.2" fill="#ffffff"/><circle cx="1347.0" cy="2070.7" r="3.5" fill="#ffffff"/><circle cx="1355.1" cy="2067.3" r="3.9" fill="#ffffff"/><circle cx="1349.9" cy="2067.9" r="3.0" fill="#ffffff"/><circle cx="1350.2" cy="2072.8" r="3.3" fill="#ffffff"/><circle cx="1348.5" cy="2064.5" r="3.3" fill="#ffffff"/><circle cx="1350.5" cy="2070.2" r="3.5" fill="#ffffff"/><circle cx="1352.9" cy="2068.3" r="3.2" fill="#ffffff"/><circle cx="1413.5" cy="2067.0" r="3.0" fill="#ffffff"/><circle cx="1419.0" cy="2064.5" r="2.6" fill="#ffffff"/><circle cx="1423.5" cy="2063.5" r="2.6" fill="#ffffff"/><circle cx="1427.5" cy="2072.0" r="3.0" fill="#ffffff"/><circle cx="1414.5" cy="2075.5" r="3.1" fill="#ffffff"/><circle cx="1421.0" cy="2077.5" r="3.2" fill="#ffffff"/><circle cx="1418.0" cy="2070.5" r="1.6" fill="#ffffff"/><circle cx="1424.5" cy="2068.0" r="1.5" fill="#ffffff"/><circle cx="1469.0" cy="2062.0" r="3.2" fill="#ffffff"/><circle cx="1475.0" cy="2058.5" r="3.0" fill="#ffffff"/><circle cx="1478.5" cy="2064.5" r="3.3" fill="#ffffff"/><circle cx="1471.0" cy="2068.5" r="3.0" fill="#ffffff"/><circle cx="1472.5" cy="2074.0" r="2.9" fill="#ffffff"/><circle cx="1476.5" cy="2069.0" r="2.0" fill="#ffffff"/><circle cx="1468.0" cy="2057.5" r="1.6" fill="#ffffff"/><circle cx="1045.8" cy="2118.3" r="6.0" fill="#ffffff" opacity="0.05"/><circle cx="1049.1" cy="2116.9" r="0.8" fill="#ffffff" opacity="0.12"/><circle cx="1045.9" cy="2122.3" r="0.6" fill="#ffffff" opacity="0.12"/><circle cx="1044.3" cy="2117.9" r="0.7" fill="#ffffff" opacity="0.12"/><circle cx="1045.3" cy="2119.3" r="0.8" fill="#ffffff" opacity="0.12"/><circle cx="1047.7" cy="2117.1" r="0.8" fill="#ffffff" opacity="0.12"/><circle cx="1042.1" cy="2117.6" r="0.7" fill="#ffffff" opacity="0.12"/><circle cx="1044.2" cy="2115.8" r="0.6" fill="#ffffff" opacity="0.12"/><circle cx="1040.1" cy="2118.0" r="0.9" fill="#ffffff" opacity="0.12"/><circle cx="1046.5" cy="2114.5" r="0.9" fill="#ffffff" opacity="0.12"/><circle cx="1051.1" cy="2117.6" r="0.6" fill="#ffffff" opacity="0.12"/><circle cx="1043.5" cy="2119.7" r="0.7" fill="#ffffff" opacity="0.12"/><circle cx="1048.2" cy="2115.1" r="0.6" fill="#ffffff" opacity="0.12"/><circle cx="1093.3" cy="2117.5" r="6.0" fill="#ffffff" opacity="0.05"/><circle cx="1094.5" cy="2115.2" r="0.9" fill="#ffffff" opacity="0.12"/><circle cx="1089.7" cy="2117.6" r="0.7" fill="#ffffff" opacity="0.12"/><circle cx="1094.5" cy="2119.7" r="0.7" fill="#ffffff" opacity="0.12"/><circle cx="1093.9" cy="2122.1" r="0.7" fill="#ffffff" opacity="0.12"/><circle cx="1091.1" cy="2119.5" r="0.6" fill="#ffffff" opacity="0.12"/><circle cx="1092.2" cy="2112.2" r="0.6" fill="#ffffff" opacity="0.12"/><circle cx="1094.4" cy="2114.5" r="0.8" fill="#ffffff" opacity="0.12"/><circle cx="1093.6" cy="2121.8" r="0.7" fill="#ffffff" opacity="0.12"/><circle cx="1096.7" cy="2113.9" r="0.5" fill="#ffffff" opacity="0.12"/><circle cx="1096.4" cy="2119.8" r="0.6" fill="#ffffff" opacity="0.12"/><circle cx="1093.7" cy="2123.0" r="0.9" fill="#ffffff" opacity="0.12"/><circle cx="1094.1" cy="2117.6" r="0.8" fill="#ffffff" opacity="0.12"/><circle cx="1159.7" cy="2117.5" r="6.0" fill="#ffffff" opacity="0.04"/><circle cx="1155.1" cy="2118.0" r="0.7" fill="#ffffff" opacity="0.096"/><circle cx="1158.0" cy="2112.4" r="0.8" fill="#ffffff" opacity="0.096"/><circle cx="1161.1" cy="2119.8" r="0.7" fill="#ffffff" opacity="0.096"/><circle cx="1155.4" cy="2121.1" r="0.8" fill="#ffffff" opacity="0.096"/><circle cx="1156.4" cy="2118.2" r="0.6" fill="#ffffff" opacity="0.096"/><circle cx="1155.3" cy="2114.2" r="0.6" fill="#ffffff" opacity="0.096"/><circle cx="1156.5" cy="2118.5" r="0.7" fill="#ffffff" opacity="0.096"/><circle cx="1159.7" cy="2119.0" r="0.8" fill="#ffffff" opacity="0.096"/><circle cx="1158.1" cy="2121.8" r="0.9" fill="#ffffff" opacity="0.096"/><circle cx="1155.0" cy="2114.8" r="0.8" fill="#ffffff" opacity="0.096"/><circle cx="1162.3" cy="2118.6" r="0.8" fill="#ffffff" opacity="0.096"/><circle cx="1159.3" cy="2117.6" r="0.8" fill="#ffffff" opacity="0.096"/><circle cx="1215.8" cy="2124.2" r="6.0" fill="#ffffff" opacity="0.03"/><circle cx="1221.0" cy="2125.2" r="0.8" fill="#ffffff" opacity="0.072"/><circle cx="1220.0" cy="2124.7" r="0.6" fill="#ffffff" opacity="0.072"/><circle cx="1219.7" cy="2120.6" r="0.6" fill="#ffffff" opacity="0.072"/><circle cx="1212.5" cy="2121.9" r="0.6" fill="#ffffff" opacity="0.072"/><circle cx="1212.5" cy="2125.7" r="0.7" fill="#ffffff" opacity="0.072"/><circle cx="1220.5" cy="2122.8" r="0.5" fill="#ffffff" opacity="0.072"/><circle cx="1212.4" cy="2128.7" r="0.8" fill="#ffffff" opacity="0.072"/><circle cx="1212.2" cy="2121.4" r="0.8" fill="#ffffff" opacity="0.072"/><circle cx="1217.7" cy="2127.3" r="0.6" fill="#ffffff" opacity="0.072"/><circle cx="1217.5" cy="2128.6" r="0.5" fill="#ffffff" opacity="0.072"/><circle cx="1217.9" cy="2128.5" r="0.9" fill="#ffffff" opacity="0.072"/><circle cx="1214.1" cy="2129.2" r="0.8" fill="#ffffff" opacity="0.072"/><circle cx="1422.7" cy="2121.7" r="5.0" fill="#ffffff" opacity="0.05"/><circle cx="1422.8" cy="2123.2" r="0.8" fill="#ffffff" opacity="0.12"/><circle cx="1422.9" cy="2125.4" r="0.6" fill="#ffffff" opacity="0.12"/><circle cx="1426.6" cy="2121.2" r="0.6" fill="#ffffff" opacity="0.12"/><circle cx="1426.7" cy="2123.4" r="0.9" fill="#ffffff" opacity="0.12"/><circle cx="1421.9" cy="2123.0" r="0.9" fill="#ffffff" opacity="0.12"/><circle cx="1425.2" cy="2119.7" r="0.5" fill="#ffffff" opacity="0.12"/><circle cx="1422.7" cy="2117.0" r="0.6" fill="#ffffff" opacity="0.12"/><circle cx="1419.7" cy="2124.9" r="0.8" fill="#ffffff" opacity="0.12"/><circle cx="1425.9" cy="2119.8" r="0.6" fill="#ffffff" opacity="0.12"/><circle cx="1426.8" cy="2120.4" r="0.8" fill="#ffffff" opacity="0.12"/><circle cx="1421.4" cy="2124.0" r="0.9" fill="#ffffff" opacity="0.12"/><circle cx="1424.0" cy="2121.0" r="0.5" fill="#ffffff" opacity="0.12"/><circle cx="1476.8" cy="2122.5" r="5.0" fill="#ffffff" opacity="0.05"/><circle cx="1478.5" cy="2121.2" r="0.5" fill="#ffffff" opacity="0.12"/><circle cx="1479.9" cy="2125.2" r="0.8" fill="#ffffff" opacity="0.12"/><circle cx="1480.7" cy="2122.3" r="0.8" fill="#ffffff" opacity="0.12"/><circle cx="1475.5" cy="2119.5" r="0.7" fill="#ffffff" opacity="0.12"/><circle cx="1477.4" cy="2123.3" r="0.8" fill="#ffffff" opacity="0.12"/><circle cx="1478.3" cy="2118.1" r="0.8" fill="#ffffff" opacity="0.12"/><circle cx="1475.2" cy="2121.5" r="0.8" fill="#ffffff" opacity="0.12"/><circle cx="1472.4" cy="2121.7" r="0.8" fill="#ffffff" opacity="0.12"/><circle cx="1477.6" cy="2118.8" r="0.8" fill="#ffffff" opacity="0.12"/><circle cx="1473.2" cy="2124.2" r="0.7" fill="#ffffff" opacity="0.12"/><circle cx="1473.2" cy="2119.5" r="0.9" fill="#ffffff" opacity="0.12"/><circle cx="1476.0" cy="2118.9" r="0.6" fill="#ffffff" opacity="0.12"/><circle cx="1283.0" cy="2115.0" r="5.0" fill="#ffffff" opacity="0.02"/><circle cx="1284.6" cy="2111.7" r="0.8" fill="#ffffff" opacity="0.048"/><circle cx="1286.8" cy="2115.2" r="0.8" fill="#ffffff" opacity="0.048"/><circle cx="1279.7" cy="2115.4" r="0.6" fill="#ffffff" opacity="0.048"/><circle cx="1280.0" cy="2117.0" r="0.8" fill="#ffffff" opacity="0.048"/><circle cx="1280.1" cy="2113.6" r="0.6" fill="#ffffff" opacity="0.048"/><circle cx="1283.2" cy="2112.3" r="0.5" fill="#ffffff" opacity="0.048"/><circle cx="1279.8" cy="2113.8" r="0.8" fill="#ffffff" opacity="0.048"/><circle cx="1279.4" cy="2116.5" r="0.6" fill="#ffffff" opacity="0.048"/><circle cx="1281.7" cy="2115.1" r="0.7" fill="#ffffff" opacity="0.048"/><circle cx="1283.8" cy="2117.9" r="0.6" fill="#ffffff" opacity="0.048"/><circle cx="1282.3" cy="2112.2" r="0.7" fill="#ffffff" opacity="0.048"/><circle cx="1279.7" cy="2116.8" r="0.7" fill="#ffffff" opacity="0.048"/><circle cx="1046.7" cy="2113.0" r="1.2" fill="#e4e4e4"/><circle cx="1043.0" cy="2124.2" r="1.3" fill="#e4e4e4"/><circle cx="1095.0" cy="2113.0" r="1.4" fill="#e4e4e4"/><circle cx="1354.0" cy="2114.7" r="1.6" fill="#8e8e8e"/><circle cx="1424.5" cy="2121.5" r="1.4" fill="#8e8e8e"/><ellipse cx="1043.8" cy="2167.2" rx="7.4" ry="7.4" fill="#ffffff"/><circle cx="1048.9" cy="2166.7" r="2.4" fill="#ffffff"/><circle cx="1048.3" cy="2170.0" r="2.2" fill="#ffffff"/><circle cx="1044.7" cy="2172.5" r="2.4" fill="#ffffff"/><circle cx="1040.8" cy="2171.2" r="2.7" fill="#ffffff"/><circle cx="1039.1" cy="2169.1" r="2.4" fill="#ffffff"/><circle cx="1039.1" cy="2165.6" r="2.6" fill="#ffffff"/><circle cx="1041.3" cy="2162.3" r="2.5" fill="#ffffff"/><circle cx="1045.6" cy="2162.1" r="2.5" fill="#ffffff"/><circle cx="1048.7" cy="2164.4" r="2.3" fill="#ffffff"/><ellipse cx="1090.3" cy="2165.8" rx="7.2" ry="7.2" fill="#ffffff"/><circle cx="1095.2" cy="2166.2" r="2.1" fill="#ffffff"/><circle cx="1094.6" cy="2169.0" r="2.2" fill="#ffffff"/><circle cx="1090.4" cy="2171.1" r="2.4" fill="#ffffff"/><circle cx="1087.5" cy="2170.2" r="2.4" fill="#ffffff"/><circle cx="1085.1" cy="2167.0" r="2.4" fill="#ffffff"/><circle cx="1085.4" cy="2165.1" r="2.2" fill="#ffffff"/><circle cx="1088.3" cy="2160.7" r="2.3" fill="#ffffff"/><circle cx="1091.6" cy="2161.1" r="2.5" fill="#ffffff"/><circle cx="1093.8" cy="2161.6" r="2.4" fill="#ffffff"/><circle cx="1091.0" cy="2163.5" r="1.1" fill="#6e6e6e"/><circle cx="1089.0" cy="2167.5" r="1.0" fill="#6e6e6e"/><circle cx="1092.5" cy="2161.0" r="0.8" fill="#6e6e6e"/><ellipse cx="1158.0" cy="2167.5" rx="6.8" ry="6.8" fill="#ffffff"/><circle cx="1162.6" cy="2168.3" r="2.4" fill="#ffffff"/><circle cx="1162.0" cy="2170.9" r="2.3" fill="#ffffff"/><circle cx="1158.9" cy="2172.0" r="2.2" fill="#ffffff"/><circle cx="1154.6" cy="2171.5" r="2.1" fill="#ffffff"/><circle cx="1153.4" cy="2168.5" r="2.3" fill="#ffffff"/><circle cx="1153.5" cy="2166.1" r="2.2" fill="#ffffff"/><circle cx="1155.9" cy="2162.9" r="2.2" fill="#ffffff"/><circle cx="1158.1" cy="2162.9" r="2.5" fill="#ffffff"/><circle cx="1161.8" cy="2164.4" r="2.2" fill="#ffffff"/><circle cx="1157.5" cy="2168.8" r="1.2" fill="#6e6e6e"/><circle cx="1160.0" cy="2166.0" r="0.9" fill="#6e6e6e"/><circle cx="1156.0" cy="2163.5" r="0.8" fill="#6e6e6e"/><circle cx="1208.5" cy="2169.0" r="2.7" fill="#ffffff"/><circle cx="1212.0" cy="2167.5" r="2.9" fill="#ffffff"/><circle cx="1216.5" cy="2165.5" r="2.8" fill="#ffffff"/><circle cx="1214.5" cy="2171.0" r="3.0" fill="#ffffff"/><circle cx="1210.5" cy="2173.0" r="2.4" fill="#ffffff"/><circle cx="1214.0" cy="2175.5" r="2.6" fill="#ffffff"/><circle cx="1217.5" cy="2169.5" r="1.8" fill="#ffffff"/><circle cx="1279.5" cy="2162.5" r="2.2" fill="#ffffff"/><circle cx="1281.5" cy="2166.0" r="2.6" fill="#ffffff"/><circle cx="1284.0" cy="2169.5" r="2.3" fill="#ffffff"/><circle cx="1279.3" cy="2167.5" r="1.5" fill="#ffffff"/><circle cx="1282.5" cy="2160.5" r="1.2" fill="#ffffff"/><circle cx="1296.8" cy="2170.0" r="0.9" fill="#9a9a9a"/><circle cx="1343.5" cy="2169.8" r="2.9" fill="#ffffff"/><circle cx="1347.2" cy="2164.5" r="2.6" fill="#ffffff"/><circle cx="1351.8" cy="2162.3" r="2.9" fill="#ffffff"/><circle cx="1347.5" cy="2170.5" r="2.2" fill="#ffffff"/><circle cx="1351.5" cy="2167.5" r="1.5" fill="#ffffff"/><circle cx="1416.3" cy="2173.0" r="4.1" fill="#ffffff"/><circle cx="1469.8" cy="2161.7" r="1.8" fill="#ffffff"/><circle cx="1472.5" cy="2166.0" r="4.0" fill="#ffffff" opacity="0.03"/><circle cx="1470.9" cy="2165.8" r="0.9" fill="#ffffff" opacity="0.2"/><circle cx="1470.6" cy="2163.8" r="0.9" fill="#ffffff" opacity="0.2"/><circle cx="1475.3" cy="2167.8" r="0.6" fill="#ffffff" opacity="0.2"/><circle cx="1472.5" cy="2168.2" r="0.8" fill="#ffffff" opacity="0.2"/><circle cx="1475.5" cy="2164.8" r="0.6" fill="#ffffff" opacity="0.2"/><circle cx="1473.9" cy="2167.5" r="0.6" fill="#ffffff" opacity="0.2"/><circle cx="1046.7" cy="2207.2" r="7.2" fill="#ffffff" opacity="0.17"/><circle cx="1051.2" cy="2209.9" r="0.7" fill="#ffffff" opacity="0.37400000000000005"/><circle cx="1051.3" cy="2204.5" r="0.7" fill="#ffffff" opacity="0.37400000000000005"/><circle cx="1050.1" cy="2205.8" r="0.8" fill="#ffffff" opacity="0.37400000000000005"/><circle cx="1041.7" cy="2209.8" r="0.9" fill="#ffffff" opacity="0.37400000000000005"/><circle cx="1048.6" cy="2202.2" r="0.8" fill="#ffffff" opacity="0.37400000000000005"/><circle cx="1051.1" cy="2207.9" r="0.8" fill="#ffffff" opacity="0.37400000000000005"/><circle cx="1046.8" cy="2202.6" r="0.6" fill="#ffffff" opacity="0.37400000000000005"/><circle cx="1044.1" cy="2210.9" r="0.5" fill="#ffffff" opacity="0.37400000000000005"/><circle cx="1051.8" cy="2205.1" r="0.7" fill="#ffffff" opacity="0.37400000000000005"/><circle cx="1048.3" cy="2210.7" r="0.7" fill="#ffffff" opacity="0.37400000000000005"/><circle cx="1049.1" cy="2210.3" r="0.6" fill="#ffffff" opacity="0.37400000000000005"/><circle cx="1046.1" cy="2200.7" r="0.5" fill="#ffffff" opacity="0.37400000000000005"/><circle cx="1050.8" cy="2212.0" r="0.5" fill="#ffffff" opacity="0.37400000000000005"/><circle cx="1046.4" cy="2212.3" r="0.7" fill="#ffffff" opacity="0.37400000000000005"/><circle cx="1047.9" cy="2213.0" r="0.8" fill="#ffffff" opacity="0.37400000000000005"/><circle cx="1052.5" cy="2207.4" r="0.7" fill="#ffffff" opacity="0.37400000000000005"/><circle cx="1041.5" cy="2207.4" r="0.8" fill="#ffffff" opacity="0.37400000000000005"/><circle cx="1047.6" cy="2204.4" r="0.6" fill="#ffffff" opacity="0.37400000000000005"/><circle cx="1047.5" cy="2210.0" r="0.8" fill="#ffffff" opacity="0.37400000000000005"/><circle cx="1049.3" cy="2204.0" r="0.8" fill="#ffffff" opacity="0.37400000000000005"/><circle cx="1048.3" cy="2201.1" r="0.8" fill="#ffffff" opacity="0.37400000000000005"/><circle cx="1041.4" cy="2204.2" r="0.6" fill="#ffffff" opacity="0.37400000000000005"/><circle cx="1094.7" cy="2205.3" r="7.0" fill="#ffffff" opacity="0.15"/><circle cx="1089.6" cy="2205.0" r="0.6" fill="#ffffff" opacity="0.33"/><circle cx="1099.8" cy="2202.9" r="0.8" fill="#ffffff" opacity="0.33"/><circle cx="1088.8" cy="2206.9" r="0.8" fill="#ffffff" opacity="0.33"/><circle cx="1092.9" cy="2204.1" r="0.7" fill="#ffffff" opacity="0.33"/><circle cx="1099.6" cy="2204.4" r="0.7" fill="#ffffff" opacity="0.33"/><circle cx="1093.0" cy="2203.5" r="0.6" fill="#ffffff" opacity="0.33"/><circle cx="1095.5" cy="2200.8" r="0.7" fill="#ffffff" opacity="0.33"/><circle cx="1099.4" cy="2204.5" r="0.7" fill="#ffffff" opacity="0.33"/><circle cx="1099.2" cy="2207.8" r="0.7" fill="#ffffff" opacity="0.33"/><circle cx="1093.4" cy="2211.6" r="0.7" fill="#ffffff" opacity="0.33"/><circle cx="1088.7" cy="2203.8" r="0.7" fill="#ffffff" opacity="0.33"/><circle cx="1100.2" cy="2204.5" r="0.7" fill="#ffffff" opacity="0.33"/><circle cx="1088.4" cy="2207.1" r="0.7" fill="#ffffff" opacity="0.33"/><circle cx="1100.8" cy="2205.8" r="0.7" fill="#ffffff" opacity="0.33"/><circle cx="1093.3" cy="2209.7" r="0.6" fill="#ffffff" opacity="0.33"/><circle cx="1092.1" cy="2200.8" r="0.7" fill="#ffffff" opacity="0.33"/><circle cx="1090.9" cy="2205.8" r="0.8" fill="#ffffff" opacity="0.33"/><circle cx="1095.5" cy="2204.0" r="0.8" fill="#ffffff" opacity="0.33"/><circle cx="1097.0" cy="2199.1" r="0.8" fill="#ffffff" opacity="0.33"/><circle cx="1099.8" cy="2203.7" r="0.8" fill="#ffffff" opacity="0.33"/><circle cx="1094.5" cy="2202.0" r="0.8" fill="#ffffff" opacity="0.33"/><circle cx="1091.2" cy="2202.0" r="0.6" fill="#ffffff" opacity="0.33"/><circle cx="1159.5" cy="2207.5" r="6.8" fill="#ffffff" opacity="0.11"/><circle cx="1161.3" cy="2208.1" r="0.7" fill="#ffffff" opacity="0.24200000000000002"/><circle cx="1164.3" cy="2211.3" r="0.5" fill="#ffffff" opacity="0.24200000000000002"/><circle cx="1155.9" cy="2206.7" r="0.8" fill="#ffffff" opacity="0.24200000000000002"/><circle cx="1161.5" cy="2210.7" r="0.6" fill="#ffffff" opacity="0.24200000000000002"/><circle cx="1159.5" cy="2207.8" r="0.7" fill="#ffffff" opacity="0.24200000000000002"/><circle cx="1163.8" cy="2210.1" r="0.5" fill="#ffffff" opacity="0.24200000000000002"/><circle cx="1157.8" cy="2211.5" r="0.9" fill="#ffffff" opacity="0.24200000000000002"/><circle cx="1161.5" cy="2208.8" r="0.8" fill="#ffffff" opacity="0.24200000000000002"/><circle cx="1165.6" cy="2208.3" r="0.7" fill="#ffffff" opacity="0.24200000000000002"/><circle cx="1158.9" cy="2213.4" r="0.8" fill="#ffffff" opacity="0.24200000000000002"/><circle cx="1156.3" cy="2212.3" r="0.6" fill="#ffffff" opacity="0.24200000000000002"/><circle cx="1155.9" cy="2204.5" r="0.8" fill="#ffffff" opacity="0.24200000000000002"/><circle cx="1157.9" cy="2211.2" r="0.8" fill="#ffffff" opacity="0.24200000000000002"/><circle cx="1154.2" cy="2207.1" r="0.8" fill="#ffffff" opacity="0.24200000000000002"/><circle cx="1156.5" cy="2202.2" r="0.7" fill="#ffffff" opacity="0.24200000000000002"/><circle cx="1157.6" cy="2204.1" r="0.5" fill="#ffffff" opacity="0.24200000000000002"/><circle cx="1159.6" cy="2204.7" r="0.8" fill="#ffffff" opacity="0.24200000000000002"/><circle cx="1164.0" cy="2204.8" r="0.6" fill="#ffffff" opacity="0.24200000000000002"/><circle cx="1157.4" cy="2211.0" r="0.5" fill="#ffffff" opacity="0.24200000000000002"/><circle cx="1154.8" cy="2208.8" r="0.6" fill="#ffffff" opacity="0.24200000000000002"/><circle cx="1160.2" cy="2209.3" r="0.8" fill="#ffffff" opacity="0.24200000000000002"/><circle cx="1163.3" cy="2207.8" r="0.6" fill="#ffffff" opacity="0.24200000000000002"/><circle cx="1217.2" cy="2211.3" r="6.5" fill="#ffffff" opacity="0.08"/><circle cx="1221.6" cy="2210.2" r="0.6" fill="#ffffff" opacity="0.17600000000000002"/><circle cx="1221.1" cy="2210.4" r="0.8" fill="#ffffff" opacity="0.17600000000000002"/><circle cx="1219.7" cy="2211.8" r="0.9" fill="#ffffff" opacity="0.17600000000000002"/><circle cx="1217.6" cy="2210.5" r="0.7" fill="#ffffff" opacity="0.17600000000000002"/><circle cx="1214.6" cy="2212.6" r="0.5" fill="#ffffff" opacity="0.17600000000000002"/><circle cx="1216.3" cy="2213.4" r="0.6" fill="#ffffff" opacity="0.17600000000000002"/><circle cx="1219.6" cy="2208.5" r="0.6" fill="#ffffff" opacity="0.17600000000000002"/><circle cx="1215.6" cy="2212.5" r="0.9" fill="#ffffff" opacity="0.17600000000000002"/><circle cx="1212.2" cy="2210.9" r="0.9" fill="#ffffff" opacity="0.17600000000000002"/><circle cx="1220.7" cy="2214.3" r="0.7" fill="#ffffff" opacity="0.17600000000000002"/><circle cx="1217.8" cy="2206.5" r="0.7" fill="#ffffff" opacity="0.17600000000000002"/><circle cx="1220.2" cy="2214.6" r="0.8" fill="#ffffff" opacity="0.17600000000000002"/><circle cx="1221.1" cy="2210.0" r="0.7" fill="#ffffff" opacity="0.17600000000000002"/><circle cx="1218.5" cy="2207.4" r="0.7" fill="#ffffff" opacity="0.17600000000000002"/><circle cx="1216.7" cy="2205.5" r="0.8" fill="#ffffff" opacity="0.17600000000000002"/><circle cx="1219.5" cy="2210.2" r="0.7" fill="#ffffff" opacity="0.17600000000000002"/><circle cx="1222.7" cy="2213.6" r="0.6" fill="#ffffff" opacity="0.17600000000000002"/><circle cx="1212.1" cy="2210.5" r="0.7" fill="#ffffff" opacity="0.17600000000000002"/><circle cx="1213.0" cy="2212.0" r="0.7" fill="#ffffff" opacity="0.17600000000000002"/><circle cx="1213.9" cy="2207.2" r="0.7" fill="#ffffff" opacity="0.17600000000000002"/><circle cx="1215.2" cy="2212.7" r="0.5" fill="#ffffff" opacity="0.17600000000000002"/><circle cx="1214.9" cy="2216.9" r="0.7" fill="#ffffff" opacity="0.17600000000000002"/><circle cx="1286.3" cy="2204.2" r="7.0" fill="#ffffff" opacity="0.05"/><circle cx="1288.8" cy="2202.4" r="0.8" fill="#ffffff" opacity="0.11000000000000001"/><circle cx="1284.5" cy="2209.6" r="0.6" fill="#ffffff" opacity="0.11000000000000001"/><circle cx="1282.2" cy="2200.9" r="0.5" fill="#ffffff" opacity="0.11000000000000001"/><circle cx="1285.6" cy="2201.7" r="0.7" fill="#ffffff" opacity="0.11000000000000001"/><circle cx="1288.8" cy="2199.5" r="0.8" fill="#ffffff" opacity="0.11000000000000001"/><circle cx="1285.0" cy="2208.7" r="0.6" fill="#ffffff" opacity="0.11000000000000001"/><circle cx="1283.8" cy="2204.4" r="0.9" fill="#ffffff" opacity="0.11000000000000001"/><circle cx="1285.4" cy="2209.3" r="0.7" fill="#ffffff" opacity="0.11000000000000001"/><circle cx="1280.6" cy="2206.9" r="0.8" fill="#ffffff" opacity="0.11000000000000001"/><circle cx="1286.6" cy="2201.4" r="0.6" fill="#ffffff" opacity="0.11000000000000001"/><circle cx="1291.8" cy="2206.2" r="0.7" fill="#ffffff" opacity="0.11000000000000001"/><circle cx="1290.2" cy="2206.5" r="0.7" fill="#ffffff" opacity="0.11000000000000001"/><circle cx="1281.1" cy="2204.8" r="0.9" fill="#ffffff" opacity="0.11000000000000001"/><circle cx="1282.6" cy="2208.0" r="0.8" fill="#ffffff" opacity="0.11000000000000001"/><circle cx="1288.5" cy="2200.4" r="0.7" fill="#ffffff" opacity="0.11000000000000001"/><circle cx="1285.8" cy="2198.8" r="0.8" fill="#ffffff" opacity="0.11000000000000001"/><circle cx="1283.4" cy="2202.9" r="0.7" fill="#ffffff" opacity="0.11000000000000001"/><circle cx="1280.8" cy="2203.8" r="0.7" fill="#ffffff" opacity="0.11000000000000001"/><circle cx="1281.1" cy="2201.7" r="0.6" fill="#ffffff" opacity="0.11000000000000001"/><circle cx="1284.9" cy="2205.7" r="0.7" fill="#ffffff" opacity="0.11000000000000001"/><circle cx="1288.4" cy="2209.0" r="0.6" fill="#ffffff" opacity="0.11000000000000001"/><circle cx="1283.9" cy="2207.8" r="0.9" fill="#ffffff" opacity="0.11000000000000001"/><circle cx="1351.0" cy="2204.7" r="6.0" fill="#ffffff" opacity="0.03"/><circle cx="1347.1" cy="2202.8" r="0.7" fill="#ffffff" opacity="0.066"/><circle cx="1348.6" cy="2201.6" r="0.7" fill="#ffffff" opacity="0.066"/><circle cx="1352.1" cy="2206.4" r="0.8" fill="#ffffff" opacity="0.066"/><circle cx="1355.0" cy="2207.2" r="0.7" fill="#ffffff" opacity="0.066"/><circle cx="1347.9" cy="2208.6" r="0.7" fill="#ffffff" opacity="0.066"/><circle cx="1346.6" cy="2207.2" r="0.7" fill="#ffffff" opacity="0.066"/><circle cx="1350.8" cy="2204.7" r="0.8" fill="#ffffff" opacity="0.066"/><circle cx="1350.2" cy="2207.0" r="0.8" fill="#ffffff" opacity="0.066"/><circle cx="1348.7" cy="2206.4" r="0.7" fill="#ffffff" opacity="0.066"/><circle cx="1351.0" cy="2208.3" r="0.8" fill="#ffffff" opacity="0.066"/><circle cx="1356.3" cy="2205.4" r="0.8" fill="#ffffff" opacity="0.066"/><circle cx="1349.6" cy="2203.0" r="0.8" fill="#ffffff" opacity="0.066"/><circle cx="1355.3" cy="2204.9" r="0.6" fill="#ffffff" opacity="0.066"/><circle cx="1352.5" cy="2203.9" r="0.7" fill="#ffffff" opacity="0.066"/><circle cx="1346.0" cy="2202.2" r="0.7" fill="#ffffff" opacity="0.066"/><circle cx="1347.6" cy="2207.0" r="0.8" fill="#ffffff" opacity="0.066"/><circle cx="1350.2" cy="2201.4" r="0.8" fill="#ffffff" opacity="0.066"/><circle cx="1346.2" cy="2205.0" r="0.7" fill="#ffffff" opacity="0.066"/><circle cx="1352.3" cy="2206.8" r="0.9" fill="#ffffff" opacity="0.066"/><circle cx="1355.3" cy="2205.5" r="0.8" fill="#ffffff" opacity="0.066"/><circle cx="1347.0" cy="2207.8" r="0.7" fill="#ffffff" opacity="0.066"/><circle cx="1356.0" cy="2203.1" r="0.5" fill="#ffffff" opacity="0.066"/><circle cx="1421.0" cy="2206.7" r="7.0" fill="#ffffff" opacity="0.035"/><circle cx="1426.0" cy="2208.2" r="0.7" fill="#ffffff" opacity="0.07700000000000001"/><circle cx="1421.9" cy="2207.4" r="0.9" fill="#ffffff" opacity="0.07700000000000001"/><circle cx="1418.0" cy="2208.7" r="0.8" fill="#ffffff" opacity="0.07700000000000001"/><circle cx="1424.4" cy="2205.2" r="0.9" fill="#ffffff" opacity="0.07700000000000001"/><circle cx="1418.5" cy="2212.7" r="0.8" fill="#ffffff" opacity="0.07700000000000001"/><circle cx="1425.5" cy="2211.2" r="0.5" fill="#ffffff" opacity="0.07700000000000001"/><circle cx="1425.3" cy="2209.4" r="0.9" fill="#ffffff" opacity="0.07700000000000001"/><circle cx="1427.4" cy="2207.6" r="0.8" fill="#ffffff" opacity="0.07700000000000001"/><circle cx="1420.0" cy="2202.8" r="0.7" fill="#ffffff" opacity="0.07700000000000001"/><circle cx="1420.0" cy="2211.3" r="0.6" fill="#ffffff" opacity="0.07700000000000001"/><circle cx="1424.3" cy="2209.0" r="0.5" fill="#ffffff" opacity="0.07700000000000001"/><circle cx="1420.4" cy="2203.8" r="0.6" fill="#ffffff" opacity="0.07700000000000001"/><circle cx="1415.9" cy="2209.1" r="0.8" fill="#ffffff" opacity="0.07700000000000001"/><circle cx="1422.5" cy="2203.7" r="0.8" fill="#ffffff" opacity="0.07700000000000001"/><circle cx="1425.5" cy="2204.4" r="0.9" fill="#ffffff" opacity="0.07700000000000001"/><circle cx="1419.0" cy="2204.1" r="0.6" fill="#ffffff" opacity="0.07700000000000001"/><circle cx="1421.9" cy="2203.9" r="0.9" fill="#ffffff" opacity="0.07700000000000001"/><circle cx="1426.7" cy="2205.7" r="0.6" fill="#ffffff" opacity="0.07700000000000001"/><circle cx="1426.4" cy="2209.7" r="0.6" fill="#ffffff" opacity="0.07700000000000001"/><circle cx="1419.7" cy="2211.6" r="0.8" fill="#ffffff" opacity="0.07700000000000001"/><circle cx="1417.1" cy="2208.8" r="0.7" fill="#ffffff" opacity="0.07700000000000001"/><circle cx="1416.1" cy="2204.9" r="0.7" fill="#ffffff" opacity="0.07700000000000001"/><circle cx="1472.7" cy="2205.0" r="6.0" fill="#ffffff" opacity="0.025"/><circle cx="1475.3" cy="2204.0" r="0.7" fill="#ffffff" opacity="0.05500000000000001"/><circle cx="1473.3" cy="2205.7" r="0.6" fill="#ffffff" opacity="0.05500000000000001"/><circle cx="1470.8" cy="2202.8" r="0.8" fill="#ffffff" opacity="0.05500000000000001"/><circle cx="1471.7" cy="2200.9" r="0.5" fill="#ffffff" opacity="0.05500000000000001"/><circle cx="1475.0" cy="2207.0" r="0.6" fill="#ffffff" opacity="0.05500000000000001"/><circle cx="1476.8" cy="2202.4" r="0.7" fill="#ffffff" opacity="0.05500000000000001"/><circle cx="1474.5" cy="2208.1" r="0.9" fill="#ffffff" opacity="0.05500000000000001"/><circle cx="1474.4" cy="2202.3" r="0.6" fill="#ffffff" opacity="0.05500000000000001"/><circle cx="1470.0" cy="2208.8" r="0.8" fill="#ffffff" opacity="0.05500000000000001"/><circle cx="1474.1" cy="2209.1" r="0.5" fill="#ffffff" opacity="0.05500000000000001"/><circle cx="1471.3" cy="2204.4" r="0.7" fill="#ffffff" opacity="0.05500000000000001"/><circle cx="1472.2" cy="2210.0" r="0.7" fill="#ffffff" opacity="0.05500000000000001"/><circle cx="1472.4" cy="2200.7" r="0.6" fill="#ffffff" opacity="0.05500000000000001"/><circle cx="1473.8" cy="2201.6" r="0.6" fill="#ffffff" opacity="0.05500000000000001"/><circle cx="1476.5" cy="2205.2" r="0.6" fill="#ffffff" opacity="0.05500000000000001"/><circle cx="1470.6" cy="2209.7" r="0.8" fill="#ffffff" opacity="0.05500000000000001"/><circle cx="1476.1" cy="2203.6" r="0.8" fill="#ffffff" opacity="0.05500000000000001"/><circle cx="1468.6" cy="2207.2" r="0.7" fill="#ffffff" opacity="0.05500000000000001"/><circle cx="1473.5" cy="2199.6" r="0.6" fill="#ffffff" opacity="0.05500000000000001"/><circle cx="1469.6" cy="2200.5" r="0.7" fill="#ffffff" opacity="0.05500000000000001"/><circle cx="1474.6" cy="2209.7" r="0.7" fill="#ffffff" opacity="0.05500000000000001"/><circle cx="1471.4" cy="2203.2" r="0.5" fill="#ffffff" opacity="0.05500000000000001"/><circle cx="1050.8" cy="2249.2" r="7.0" fill="#ffffff" opacity="0.07"/><circle cx="1045.8" cy="2246.2" r="0.6" fill="#ffffff" opacity="0.18200000000000002"/><circle cx="1055.5" cy="2245.0" r="0.9" fill="#ffffff" opacity="0.18200000000000002"/><circle cx="1048.2" cy="2246.4" r="0.8" fill="#ffffff" opacity="0.18200000000000002"/><circle cx="1054.6" cy="2252.4" r="0.6" fill="#ffffff" opacity="0.18200000000000002"/><circle cx="1052.0" cy="2244.3" r="0.8" fill="#ffffff" opacity="0.18200000000000002"/><circle cx="1054.5" cy="2253.5" r="0.8" fill="#ffffff" opacity="0.18200000000000002"/><circle cx="1052.2" cy="2250.8" r="0.5" fill="#ffffff" opacity="0.18200000000000002"/><circle cx="1050.4" cy="2254.9" r="0.5" fill="#ffffff" opacity="0.18200000000000002"/><circle cx="1054.8" cy="2247.5" r="0.6" fill="#ffffff" opacity="0.18200000000000002"/><circle cx="1051.7" cy="2251.1" r="0.7" fill="#ffffff" opacity="0.18200000000000002"/><circle cx="1055.7" cy="2250.9" r="0.6" fill="#ffffff" opacity="0.18200000000000002"/><circle cx="1053.6" cy="2252.9" r="0.7" fill="#ffffff" opacity="0.18200000000000002"/><circle cx="1052.0" cy="2247.5" r="0.7" fill="#ffffff" opacity="0.18200000000000002"/><circle cx="1054.7" cy="2254.2" r="0.6" fill="#ffffff" opacity="0.18200000000000002"/><circle cx="1045.8" cy="2251.0" r="0.8" fill="#ffffff" opacity="0.18200000000000002"/><circle cx="1047.4" cy="2254.5" r="0.6" fill="#ffffff" opacity="0.18200000000000002"/><circle cx="1097.8" cy="2249.2" r="6.5" fill="#ffffff" opacity="0.05"/><circle cx="1094.6" cy="2248.8" r="0.8" fill="#ffffff" opacity="0.13"/><circle cx="1099.3" cy="2244.5" r="0.5" fill="#ffffff" opacity="0.13"/><circle cx="1098.0" cy="2252.8" r="0.9" fill="#ffffff" opacity="0.13"/><circle cx="1095.4" cy="2245.4" r="0.8" fill="#ffffff" opacity="0.13"/><circle cx="1101.8" cy="2252.3" r="0.8" fill="#ffffff" opacity="0.13"/><circle cx="1098.7" cy="2252.8" r="0.7" fill="#ffffff" opacity="0.13"/><circle cx="1101.4" cy="2248.2" r="0.5" fill="#ffffff" opacity="0.13"/><circle cx="1100.0" cy="2243.9" r="0.6" fill="#ffffff" opacity="0.13"/><circle cx="1096.9" cy="2243.2" r="0.7" fill="#ffffff" opacity="0.13"/><circle cx="1095.4" cy="2245.3" r="0.7" fill="#ffffff" opacity="0.13"/><circle cx="1092.3" cy="2247.9" r="0.9" fill="#ffffff" opacity="0.13"/><circle cx="1099.8" cy="2248.3" r="0.8" fill="#ffffff" opacity="0.13"/><circle cx="1099.6" cy="2250.8" r="0.6" fill="#ffffff" opacity="0.13"/><circle cx="1101.3" cy="2251.3" r="0.5" fill="#ffffff" opacity="0.13"/><circle cx="1092.4" cy="2251.5" r="0.7" fill="#ffffff" opacity="0.13"/><circle cx="1102.5" cy="2251.8" r="0.7" fill="#ffffff" opacity="0.13"/><circle cx="1160.8" cy="2253.3" r="6.0" fill="#ffffff" opacity="0.035"/><circle cx="1158.8" cy="2257.9" r="0.5" fill="#ffffff" opacity="0.09100000000000001"/><circle cx="1160.0" cy="2256.8" r="0.9" fill="#ffffff" opacity="0.09100000000000001"/><circle cx="1158.3" cy="2256.9" r="0.5" fill="#ffffff" opacity="0.09100000000000001"/><circle cx="1163.0" cy="2257.5" r="0.7" fill="#ffffff" opacity="0.09100000000000001"/><circle cx="1160.1" cy="2249.6" r="0.7" fill="#ffffff" opacity="0.09100000000000001"/><circle cx="1161.6" cy="2255.9" r="0.5" fill="#ffffff" opacity="0.09100000000000001"/><circle cx="1162.7" cy="2256.6" r="0.7" fill="#ffffff" opacity="0.09100000000000001"/><circle cx="1160.4" cy="2248.7" r="0.8" fill="#ffffff" opacity="0.09100000000000001"/><circle cx="1160.8" cy="2252.8" r="0.9" fill="#ffffff" opacity="0.09100000000000001"/><circle cx="1157.0" cy="2253.4" r="0.5" fill="#ffffff" opacity="0.09100000000000001"/><circle cx="1161.6" cy="2254.5" r="0.5" fill="#ffffff" opacity="0.09100000000000001"/><circle cx="1161.6" cy="2249.9" r="0.8" fill="#ffffff" opacity="0.09100000000000001"/><circle cx="1165.3" cy="2252.9" r="0.6" fill="#ffffff" opacity="0.09100000000000001"/><circle cx="1163.8" cy="2258.0" r="0.7" fill="#ffffff" opacity="0.09100000000000001"/><circle cx="1157.9" cy="2258.1" r="0.6" fill="#ffffff" opacity="0.09100000000000001"/><circle cx="1161.2" cy="2252.9" r="0.7" fill="#ffffff" opacity="0.09100000000000001"/><circle cx="1219.2" cy="2256.7" r="6.0" fill="#ffffff" opacity="0.025"/><circle cx="1216.1" cy="2258.6" r="0.9" fill="#ffffff" opacity="0.065"/><circle cx="1221.7" cy="2254.8" r="0.8" fill="#ffffff" opacity="0.065"/><circle cx="1224.2" cy="2255.3" r="0.5" fill="#ffffff" opacity="0.065"/><circle cx="1222.1" cy="2256.3" r="0.8" fill="#ffffff" opacity="0.065"/><circle cx="1221.3" cy="2260.5" r="0.7" fill="#ffffff" opacity="0.065"/><circle cx="1217.4" cy="2252.1" r="0.8" fill="#ffffff" opacity="0.065"/><circle cx="1221.8" cy="2252.0" r="0.7" fill="#ffffff" opacity="0.065"/><circle cx="1214.3" cy="2255.7" r="0.7" fill="#ffffff" opacity="0.065"/><circle cx="1220.2" cy="2253.3" r="0.9" fill="#ffffff" opacity="0.065"/><circle cx="1221.1" cy="2255.1" r="0.8" fill="#ffffff" opacity="0.065"/><circle cx="1215.0" cy="2255.4" r="0.8" fill="#ffffff" opacity="0.065"/><circle cx="1217.0" cy="2252.6" r="0.9" fill="#ffffff" opacity="0.065"/><circle cx="1220.1" cy="2257.9" r="0.6" fill="#ffffff" opacity="0.065"/><circle cx="1217.9" cy="2258.3" r="0.5" fill="#ffffff" opacity="0.065"/><circle cx="1213.9" cy="2257.3" r="0.8" fill="#ffffff" opacity="0.065"/><circle cx="1214.1" cy="2258.1" r="0.7" fill="#ffffff" opacity="0.065"/><circle cx="1287.0" cy="2250.0" r="6.0" fill="#ffffff" opacity="0.02"/><circle cx="1283.0" cy="2250.2" r="0.8" fill="#ffffff" opacity="0.052000000000000005"/><circle cx="1288.2" cy="2246.9" r="0.7" fill="#ffffff" opacity="0.052000000000000005"/><circle cx="1283.5" cy="2246.7" r="0.9" fill="#ffffff" opacity="0.052000000000000005"/><circle cx="1286.8" cy="2244.7" r="0.8" fill="#ffffff" opacity="0.052000000000000005"/><circle cx="1286.7" cy="2253.0" r="0.5" fill="#ffffff" opacity="0.052000000000000005"/><circle cx="1284.7" cy="2249.9" r="0.6" fill="#ffffff" opacity="0.052000000000000005"/><circle cx="1287.3" cy="2250.4" r="0.8" fill="#ffffff" opacity="0.052000000000000005"/><circle cx="1284.9" cy="2254.1" r="0.9" fill="#ffffff" opacity="0.052000000000000005"/><circle cx="1285.9" cy="2254.2" r="0.6" fill="#ffffff" opacity="0.052000000000000005"/><circle cx="1290.5" cy="2253.2" r="0.5" fill="#ffffff" opacity="0.052000000000000005"/><circle cx="1289.9" cy="2249.8" r="0.9" fill="#ffffff" opacity="0.052000000000000005"/><circle cx="1288.5" cy="2249.7" r="0.7" fill="#ffffff" opacity="0.052000000000000005"/><circle cx="1284.3" cy="2250.1" r="0.6" fill="#ffffff" opacity="0.052000000000000005"/><circle cx="1283.9" cy="2252.5" r="0.6" fill="#ffffff" opacity="0.052000000000000005"/><circle cx="1283.7" cy="2247.4" r="0.7" fill="#ffffff" opacity="0.052000000000000005"/><circle cx="1292.3" cy="2251.2" r="0.7" fill="#ffffff" opacity="0.052000000000000005"/><circle cx="1352.0" cy="2248.0" r="5.0" fill="#ffffff" opacity="0.015"/><circle cx="1349.9" cy="2248.2" r="0.9" fill="#ffffff" opacity="0.039"/><circle cx="1355.5" cy="2245.8" r="0.8" fill="#ffffff" opacity="0.039"/><circle cx="1356.1" cy="2248.7" r="0.5" fill="#ffffff" opacity="0.039"/><circle cx="1349.5" cy="2250.2" r="0.6" fill="#ffffff" opacity="0.039"/><circle cx="1348.9" cy="2247.1" r="0.5" fill="#ffffff" opacity="0.039"/><circle cx="1351.2" cy="2251.3" r="0.8" fill="#ffffff" opacity="0.039"/><circle cx="1351.6" cy="2245.5" r="0.9" fill="#ffffff" opacity="0.039"/><circle cx="1351.9" cy="2244.1" r="0.6" fill="#ffffff" opacity="0.039"/><circle cx="1355.2" cy="2244.7" r="0.7" fill="#ffffff" opacity="0.039"/><circle cx="1350.9" cy="2243.6" r="0.9" fill="#ffffff" opacity="0.039"/><circle cx="1350.0" cy="2244.7" r="0.6" fill="#ffffff" opacity="0.039"/><circle cx="1354.1" cy="2244.5" r="0.7" fill="#ffffff" opacity="0.039"/><circle cx="1354.7" cy="2244.6" r="0.9" fill="#ffffff" opacity="0.039"/><circle cx="1351.6" cy="2244.7" r="0.7" fill="#ffffff" opacity="0.039"/><circle cx="1354.8" cy="2248.9" r="0.6" fill="#ffffff" opacity="0.039"/><circle cx="1353.0" cy="2249.1" r="0.8" fill="#ffffff" opacity="0.039"/><circle cx="1479.0" cy="2253.5" r="0.9" fill="#9a9a9a"/><circle cx="1391.0" cy="2051.5" r="0.8" fill="#9a9a9a"/><circle cx="1118.0" cy="2066.5" r="0.8" fill="#9a9a9a"/><g fill="none" stroke="#ffffff" stroke-linecap="round" opacity=".07"><path d="M1150 2035c8 12 22 8 30-16" stroke-width="3"/><path d="M1178 2052c8-12 14-24 16-44" stroke-width="2.5"/><path d="M1234 2050c6 14 12 22 22 30" stroke-width="2.5"/><path d="M1272 2082c10-6 16-12 20-18" stroke-width="3"/><path d="M1252 2040c10-8 14-14 20-22" stroke-width="2"/><path d="M1128 1998c14 6 30 4 48-2" stroke-width="2"/></g></g></g>
<g filter="url(#soft2)"><circle cx="1339.3" cy="2221.7" r="3.1" fill="#3e3e3e" stroke="#c4c4c4" stroke-width="1.1"/><ellipse cx="1339.5" cy="2221.7" rx=".8" ry="2" fill="#dcdcdc"/></g>
</g>
<g class="chart">
<text transform="translate(405.4,890.9) scale(0.995,1)" font-size="45.6" text-anchor="middle" stroke="#000" stroke-width="0.3">ND4L</text>
<clipPath id="axND4L"><rect x="176.4" y="905.6" width="461.6" height="300.7"/></clipPath>
<g clip-path="url(#axND4L)">
<rect x="197.4" y="956.0" width="55.2" height="236.2" fill="#0000ff" stroke="#000" stroke-width="2.7"/>
<rect x="270.4" y="946.1" width="55.2" height="246.1" fill="#ff0000" stroke="#000" stroke-width="2.7"/>
<rect x="343.4" y="1161.5" width="55.2" height="30.7" fill="#0000ff" stroke="#000" stroke-width="2.7"/>
<rect x="416.4" y="982.2" width="55.2" height="210.0" fill="#ff0000" stroke="#000" stroke-width="2.7"/>
<rect x="489.4" y="1189.0" width="55.2" height="3.2" fill="#000" stroke="#000" stroke-width="2.7"/>
<line x1="562.0" y1="1192.3" x2="618.0" y2="1192.3" stroke="#000" stroke-width="3.3"/>
<g stroke="#000" stroke-width="1.9" fill="none">
<path d="M225.0 950.0V963.0M218.0 950.0h14M218.0 963.0h14"/>
<path d="M298.0 935.0V959.0M291.0 935.0h14M291.0 959.0h14"/>
<path d="M371.0 1154.0V1170.0M364.0 1154.0h14M364.0 1170.0h14"/>
<path d="M444.0 969.6V994.6M437.0 969.6h14M437.0 994.6h14"/>
<path d="M517.0 1186.0V1192.0M510.0 1186.0h14M510.0 1192.0h14"/>
</g>
</g>
<line x1="297.6" y1="928.0" x2="446" y2="928.0" stroke="#000" stroke-width="2.7"/>
<text x="367.5" y="941.8" font-size="48" text-anchor="middle" stroke="#000" stroke-width="0.9">*</text>
<rect x="176.4" y="905.6" width="461.6" height="300.2" fill="none" stroke="#000" stroke-width="1.3"/>
<g font-size="13.9" text-anchor="end" stroke="#000" stroke-width="0.25">
<line x1="171.8" y1="1192.2" x2="176.4" y2="1192.2" stroke="#000" stroke-width="1.3"/>
<text x="167.0" y="1197.3">0.0</text>
<line x1="171.8" y1="1151.3" x2="176.4" y2="1151.3" stroke="#000" stroke-width="1.3"/>
<text x="167.0" y="1156.4">0.1</text>
<line x1="171.8" y1="1110.3" x2="176.4" y2="1110.3" stroke="#000" stroke-width="1.3"/>
<text x="167.0" y="1115.4">0.2</text>
<line x1="171.8" y1="1069.4" x2="176.4" y2="1069.4" stroke="#000" stroke-width="1.3"/>
<text x="167.0" y="1074.5">0.3</text>
<line x1="171.8" y1="1028.4" x2="176.4" y2="1028.4" stroke="#000" stroke-width="1.3"/>
<text x="167.0" y="1033.5">0.4</text>
<line x1="171.8" y1="987.5" x2="176.4" y2="987.5" stroke="#000" stroke-width="1.3"/>
<text x="167.0" y="992.6">0.5</text>
<line x1="171.8" y1="946.5" x2="176.4" y2="946.5" stroke="#000" stroke-width="1.3"/>
<text x="167.0" y="951.6">0.6</text>
<line x1="171.8" y1="905.6" x2="176.4" y2="905.6" stroke="#000" stroke-width="1.3"/>
<text x="167.0" y="910.7">0.7</text>
</g>
<g font-size="13.9" text-anchor="middle" stroke="#000" stroke-width="0.25">
<line x1="227.2" y1="1205.8" x2="227.2" y2="1210.6" stroke="#000" stroke-width="1.3"/>
<text x="227.2" y="1226.0">ND4L</text>
<text x="229.3" y="1241.5">X</text>
<text x="229.3" y="1257.0">ND2-WT</text>
<line x1="300.2" y1="1205.8" x2="300.2" y2="1210.6" stroke="#000" stroke-width="1.3"/>
<text x="300.2" y="1226.0">ND4L</text>
<text x="302.3" y="1241.5">X</text>
<text x="302.3" y="1257.0">ND2-DEL</text>
<line x1="373.2" y1="1205.8" x2="373.2" y2="1210.6" stroke="#000" stroke-width="1.3"/>
<text x="373.2" y="1226.0">F1,2</text>
<text x="375.3" y="1241.5">X</text>
<text x="375.3" y="1257.0">ND2-WT</text>
<line x1="446.2" y1="1205.8" x2="446.2" y2="1210.6" stroke="#000" stroke-width="1.3"/>
<text x="446.2" y="1226.0">F1,2</text>
<text x="448.3" y="1241.5">X</text>
<text x="448.3" y="1257.0">ND2-DEL</text>
<line x1="519.2" y1="1205.8" x2="519.2" y2="1210.6" stroke="#000" stroke-width="1.3"/>
<text x="519.2" y="1226.0">ND4L</text>
<text x="521.3" y="1241.5">X</text>
<text x="521.3" y="1257.0">F3</text>
<line x1="592.2" y1="1205.8" x2="592.2" y2="1210.6" stroke="#000" stroke-width="1.3"/>
<text x="592.2" y="1226.0">F1,2</text>
<text x="594.3" y="1241.5">X</text>
<text x="594.3" y="1257.0">F3</text>
</g>
<text transform="translate(133.6,1055.7) rotate(-90) scale(1.04,1)" font-size="26.6" text-anchor="middle" stroke="#000" stroke-width="0.3">Colony Density</text>
</g>
<g class="chart">
<text transform="translate(1250.9,890.9) scale(0.99,1)" font-size="45.6" text-anchor="middle" stroke="#000" stroke-width="0.3">ND4</text>
<clipPath id="axND4"><rect x="1034.4" y="906.1" width="461.9" height="300.4"/></clipPath>
<g clip-path="url(#axND4)">
<rect x="1055.6" y="1100.2" width="55.2" height="105.8" fill="#0000ff" stroke="#000" stroke-width="2.7"/>
<rect x="1128.6" y="992.4" width="55.2" height="213.6" fill="#ff0000" stroke="#000" stroke-width="2.7"/>
<rect x="1201.6" y="1155.9" width="55.2" height="50.1" fill="#0000ff" stroke="#000" stroke-width="2.7"/>
<rect x="1274.6" y="986.6" width="55.2" height="219.4" fill="#ff0000" stroke="#000" stroke-width="2.7"/>
<rect x="1347.6" y="1188.9" width="55.2" height="17.1" fill="#ffffff" stroke="#000" stroke-width="2.7"/>
<line x1="1420.2" y1="1206.0" x2="1476.2" y2="1206.0" stroke="#000" stroke-width="2.4"/>
<g stroke="#000" stroke-width="1.9" fill="none">
<path d="M1083.2 1093.0V1108.4M1076.2 1093.0h14M1076.2 1108.4h14"/>
<path d="M1156.2 968.5V1017.3M1149.2 968.5h14M1149.2 1017.3h14"/>
<path d="M1229.2 1146.5V1166.4M1222.2 1146.5h14M1222.2 1166.4h14"/>
<path d="M1302.2 959.0V1015.5M1295.2 959.0h14M1295.2 1015.5h14"/>
<path d="M1375.2 1185.4V1193.5M1368.2 1185.4h14M1368.2 1193.5h14"/>
</g>
</g>
<rect x="1034.4" y="906.1" width="461.9" height="299.9" fill="none" stroke="#000" stroke-width="1.3"/>
<g font-size="13.9" text-anchor="end" stroke="#000" stroke-width="0.25">
<line x1="1029.8" y1="1206.0" x2="1034.4" y2="1206.0" stroke="#000" stroke-width="1.3"/>
<text x="1025.0" y="1211.1">0.0</text>
<line x1="1029.8" y1="1163.2" x2="1034.4" y2="1163.2" stroke="#000" stroke-width="1.3"/>
<text x="1025.0" y="1168.3">0.1</text>
<line x1="1029.8" y1="1120.3" x2="1034.4" y2="1120.3" stroke="#000" stroke-width="1.3"/>
<text x="1025.0" y="1125.4">0.2</text>
<line x1="1029.8" y1="1077.5" x2="1034.4" y2="1077.5" stroke="#000" stroke-width="1.3"/>
<text x="1025.0" y="1082.6">0.3</text>
<line x1="1029.8" y1="1034.6" x2="1034.4" y2="1034.6" stroke="#000" stroke-width="1.3"/>
<text x="1025.0" y="1039.7">0.4</text>
<line x1="1029.8" y1="991.8" x2="1034.4" y2="991.8" stroke="#000" stroke-width="1.3"/>
<text x="1025.0" y="996.9">0.5</text>
<line x1="1029.8" y1="948.9" x2="1034.4" y2="948.9" stroke="#000" stroke-width="1.3"/>
<text x="1025.0" y="954.0">0.6</text>
<line x1="1029.8" y1="906.1" x2="1034.4" y2="906.1" stroke="#000" stroke-width="1.3"/>
<text x="1025.0" y="911.2">0.7</text>
</g>
<g font-size="13.9" text-anchor="middle" stroke="#000" stroke-width="0.25">
<line x1="1085.4" y1="1206.0" x2="1085.4" y2="1210.8" stroke="#000" stroke-width="1.3"/>
<text x="1085.4" y="1226.2">ND4</text>
<text x="1087.5" y="1241.7">X</text>
<text x="1087.5" y="1257.2">ND2-WT</text>
<line x1="1158.4" y1="1206.0" x2="1158.4" y2="1210.8" stroke="#000" stroke-width="1.3"/>
<text x="1158.4" y="1226.2">ND4</text>
<text x="1160.5" y="1241.7">X</text>
<text x="1160.5" y="1257.2">ND2-DEL</text>
<line x1="1231.4" y1="1206.0" x2="1231.4" y2="1210.8" stroke="#000" stroke-width="1.3"/>
<text x="1231.4" y="1226.2">F1,2</text>
<text x="1233.5" y="1241.7">X</text>
<text x="1233.5" y="1257.2">ND2-WT</text>
<line x1="1304.4" y1="1206.0" x2="1304.4" y2="1210.8" stroke="#000" stroke-width="1.3"/>
<text x="1304.4" y="1226.2">F1,2</text>
<text x="1306.5" y="1241.7">X</text>
<text x="1306.5" y="1257.2">ND2-DEL</text>
<line x1="1377.4" y1="1206.0" x2="1377.4" y2="1210.8" stroke="#000" stroke-width="1.3"/>
<text x="1377.4" y="1226.2">ND4</text>
<text x="1379.5" y="1241.7">X</text>
<text x="1379.5" y="1257.2">F3</text>
<line x1="1450.4" y1="1206.0" x2="1450.4" y2="1210.8" stroke="#000" stroke-width="1.3"/>
<text x="1450.4" y="1226.2">F1,2</text>
<text x="1452.5" y="1241.7">X</text>
<text x="1452.5" y="1257.2">F3</text>
</g>
<text transform="translate(991.4,1056.0) rotate(-90) scale(1.04,1)" font-size="26.6" text-anchor="middle" stroke="#000" stroke-width="0.3">Colony Density</text>
</g>
<g class="chart">
<text transform="translate(403.6,1630.0) scale(1.012,1)" font-size="45.6" text-anchor="middle" stroke="#000" stroke-width="0.3">ND5</text>
<clipPath id="axND5"><rect x="176.5" y="1639.1" width="461.5" height="300.1"/></clipPath>
<g clip-path="url(#axND5)">
<rect x="197.4" y="1729.8" width="55.2" height="208.9" fill="#0000ff" stroke="#000" stroke-width="2.7"/>
<rect x="270.4" y="1732.4" width="55.2" height="206.3" fill="#ff0000" stroke="#000" stroke-width="2.7"/>
<rect x="343.4" y="1915.6" width="55.2" height="23.1" fill="#0000ff" stroke="#000" stroke-width="2.7"/>
<rect x="416.4" y="1749.5" width="55.2" height="189.2" fill="#ff0000" stroke="#000" stroke-width="2.7"/>
<rect x="489.4" y="1931.6" width="55.2" height="7.1" fill="#ffffff" stroke="#000" stroke-width="2.7"/>
<line x1="562.0" y1="1938.7" x2="618.0" y2="1938.7" stroke="#000" stroke-width="2.4"/>
<g stroke="#000" stroke-width="1.9" fill="none">
<path d="M225.0 1709.3V1751.0M218.0 1709.3h14M218.0 1751.0h14"/>
<path d="M298.0 1714.5V1751.4M291.0 1714.5h14M291.0 1751.4h14"/>
<path d="M371.0 1913.0V1919.7M364.0 1913.0h14M364.0 1919.7h14"/>
<path d="M444.0 1736.0V1764.0M437.0 1736.0h14M437.0 1764.0h14"/>
<path d="M517.0 1926.8V1938.7M510.0 1926.8h14M510.0 1938.7h14"/>
</g>
</g>
<rect x="176.5" y="1639.1" width="461.5" height="299.6" fill="none" stroke="#000" stroke-width="1.3"/>
<g font-size="13.9" text-anchor="end" stroke="#000" stroke-width="0.25">
<line x1="171.9" y1="1938.7" x2="176.5" y2="1938.7" stroke="#000" stroke-width="1.3"/>
<text x="167.1" y="1943.8">0.0</text>
<line x1="171.9" y1="1895.9" x2="176.5" y2="1895.9" stroke="#000" stroke-width="1.3"/>
<text x="167.1" y="1901.0">0.1</text>
<line x1="171.9" y1="1853.1" x2="176.5" y2="1853.1" stroke="#000" stroke-width="1.3"/>
<text x="167.1" y="1858.2">0.2</text>
<line x1="171.9" y1="1810.3" x2="176.5" y2="1810.3" stroke="#000" stroke-width="1.3"/>
<text x="167.1" y="1815.4">0.3</text>
<line x1="171.9" y1="1767.5" x2="176.5" y2="1767.5" stroke="#000" stroke-width="1.3"/>
<text x="167.1" y="1772.6">0.4</text>
<line x1="171.9" y1="1724.7" x2="176.5" y2="1724.7" stroke="#000" stroke-width="1.3"/>
<text x="167.1" y="1729.8">0.5</text>
<line x1="171.9" y1="1681.9" x2="176.5" y2="1681.9" stroke="#000" stroke-width="1.3"/>
<text x="167.1" y="1687.0">0.6</text>
<line x1="171.9" y1="1639.1" x2="176.5" y2="1639.1" stroke="#000" stroke-width="1.3"/>
<text x="167.1" y="1644.2">0.7</text>
</g>
<g font-size="13.9" text-anchor="middle" stroke="#000" stroke-width="0.25">
<line x1="227.2" y1="1938.7" x2="227.2" y2="1943.5" stroke="#000" stroke-width="1.3"/>
<text x="227.2" y="1958.9">ND5</text>
<text x="229.3" y="1974.4">X</text>
<text x="229.3" y="1989.9">ND2-WT</text>
<line x1="300.2" y1="1938.7" x2="300.2" y2="1943.5" stroke="#000" stroke-width="1.3"/>
<text x="300.2" y="1958.9">ND5</text>
<text x="302.3" y="1974.4">X</text>
<text x="302.3" y="1989.9">ND2-DEL</text>
<line x1="373.2" y1="1938.7" x2="373.2" y2="1943.5" stroke="#000" stroke-width="1.3"/>
<text x="373.2" y="1958.9">F1,2</text>
<text x="375.3" y="1974.4">X</text>
<text x="375.3" y="1989.9">ND2-WT</text>
<line x1="446.2" y1="1938.7" x2="446.2" y2="1943.5" stroke="#000" stroke-width="1.3"/>
<text x="446.2" y="1958.9">F1,2</text>
<text x="448.3" y="1974.4">X</text>
<text x="448.3" y="1989.9">ND2-DEL</text>
<line x1="519.2" y1="1938.7" x2="519.2" y2="1943.5" stroke="#000" stroke-width="1.3"/>
<text x="519.2" y="1958.9">ND5</text>
<text x="521.3" y="1974.4">X</text>
<text x="521.3" y="1989.9">F3</text>
<line x1="592.2" y1="1938.7" x2="592.2" y2="1943.5" stroke="#000" stroke-width="1.3"/>
<text x="592.2" y="1958.9">F1,2</text>
<text x="594.3" y="1974.4">X</text>
<text x="594.3" y="1989.9">F3</text>
</g>
<text transform="translate(133.6,1788.9) rotate(-90) scale(1.04,1)" font-size="26.6" text-anchor="middle" stroke="#000" stroke-width="0.3">Colony Density</text>
</g>
<g class="chart">
<text transform="translate(1258.2,1630.2) scale(1.014,1)" font-size="45.6" text-anchor="middle" stroke="#000" stroke-width="0.3">NDUFC2</text>
<clipPath id="axNDUFC2"><rect x="1034.4" y="1638.9" width="461.9" height="300.5"/></clipPath>
<g clip-path="url(#axNDUFC2)">
<rect x="1055.6" y="1780.6" width="55.2" height="145.8" fill="#0000ff" stroke="#000" stroke-width="2.7"/>
<rect x="1128.6" y="1713.8" width="55.2" height="212.6" fill="#ff0000" stroke="#000" stroke-width="2.7"/>
<rect x="1201.6" y="1889.4" width="55.2" height="37.0" fill="#0000ff" stroke="#000" stroke-width="2.7"/>
<rect x="1274.6" y="1741.7" width="55.2" height="184.7" fill="#ff0000" stroke="#000" stroke-width="2.7"/>
<rect x="1347.6" y="1923.9" width="55.2" height="2.5" fill="#ffffff" stroke="#000" stroke-width="2.7"/>
<line x1="1420.2" y1="1926.4" x2="1476.2" y2="1926.4" stroke="#000" stroke-width="2.4"/>
<g stroke="#000" stroke-width="1.9" fill="none">
<path d="M1083.2 1759.0V1803.4M1076.2 1759.0h14M1076.2 1803.4h14"/>
<path d="M1156.2 1687.0V1742.0M1149.2 1687.0h14M1149.2 1742.0h14"/>
<path d="M1229.2 1866.9V1912.8M1222.2 1866.9h14M1222.2 1912.8h14"/>
<path d="M1302.2 1715.0V1770.4M1295.2 1715.0h14M1295.2 1770.4h14"/>
<path d="M1375.2 1922.5V1926.4M1368.2 1922.5h14M1368.2 1926.4h14"/>
</g>
</g>
<rect x="1034.4" y="1638.9" width="461.9" height="300.0" fill="none" stroke="#000" stroke-width="1.3"/>
<g font-size="13.9" text-anchor="end" stroke="#000" stroke-width="0.25">
<line x1="1029.8" y1="1926.4" x2="1034.4" y2="1926.4" stroke="#000" stroke-width="1.3"/>
<text x="1025.0" y="1931.5">0.0</text>
<line x1="1029.8" y1="1885.3" x2="1034.4" y2="1885.3" stroke="#000" stroke-width="1.3"/>
<text x="1025.0" y="1890.4">0.1</text>
<line x1="1029.8" y1="1844.3" x2="1034.4" y2="1844.3" stroke="#000" stroke-width="1.3"/>
<text x="1025.0" y="1849.4">0.2</text>
<line x1="1029.8" y1="1803.2" x2="1034.4" y2="1803.2" stroke="#000" stroke-width="1.3"/>
<text x="1025.0" y="1808.3">0.3</text>
<line x1="1029.8" y1="1762.1" x2="1034.4" y2="1762.1" stroke="#000" stroke-width="1.3"/>
<text x="1025.0" y="1767.2">0.4</text>
<line x1="1029.8" y1="1721.0" x2="1034.4" y2="1721.0" stroke="#000" stroke-width="1.3"/>
<text x="1025.0" y="1726.1">0.5</text>
<line x1="1029.8" y1="1680.0" x2="1034.4" y2="1680.0" stroke="#000" stroke-width="1.3"/>
<text x="1025.0" y="1685.1">0.6</text>
<line x1="1029.8" y1="1638.9" x2="1034.4" y2="1638.9" stroke="#000" stroke-width="1.3"/>
<text x="1025.0" y="1644.0">0.7</text>
</g>
<g font-size="13.9" text-anchor="middle" stroke="#000" stroke-width="0.25">
<line x1="1085.4" y1="1938.9" x2="1085.4" y2="1943.7" stroke="#000" stroke-width="1.3"/>
<text x="1085.4" y="1959.1">NDUFC2</text>
<text x="1087.5" y="1974.6">X</text>
<text x="1087.5" y="1990.1">ND2-WT</text>
<line x1="1158.4" y1="1938.9" x2="1158.4" y2="1943.7" stroke="#000" stroke-width="1.3"/>
<text x="1158.4" y="1959.1">NDUFC2</text>
<text x="1160.5" y="1974.6">X</text>
<text x="1160.5" y="1990.1">ND2-DEL</text>
<line x1="1231.4" y1="1938.9" x2="1231.4" y2="1943.7" stroke="#000" stroke-width="1.3"/>
<text x="1231.4" y="1959.1">F1,2</text>
<text x="1233.5" y="1974.6">X</text>
<text x="1233.5" y="1990.1">ND2-WT</text>
<line x1="1304.4" y1="1938.9" x2="1304.4" y2="1943.7" stroke="#000" stroke-width="1.3"/>
<text x="1304.4" y="1959.1">F1,2</text>
<text x="1306.5" y="1974.6">X</text>
<text x="1306.5" y="1990.1">ND2-DEL</text>
<line x1="1377.4" y1="1938.9" x2="1377.4" y2="1943.7" stroke="#000" stroke-width="1.3"/>
<text x="1377.4" y="1959.1">NDUFC2</text>
<text x="1379.5" y="1974.6">X</text>
<text x="1379.5" y="1990.1">F3</text>
<line x1="1450.4" y1="1938.9" x2="1450.4" y2="1943.7" stroke="#000" stroke-width="1.3"/>
<text x="1450.4" y="1959.1">F1,2</text>
<text x="1452.5" y="1974.6">X</text>
<text x="1452.5" y="1990.1">F3</text>
</g>
<text transform="translate(991.4,1788.9) rotate(-90) scale(1.04,1)" font-size="26.6" text-anchor="middle" stroke="#000" stroke-width="0.3">Colony Density</text>
</g>
</svg>
</body>
</html>
